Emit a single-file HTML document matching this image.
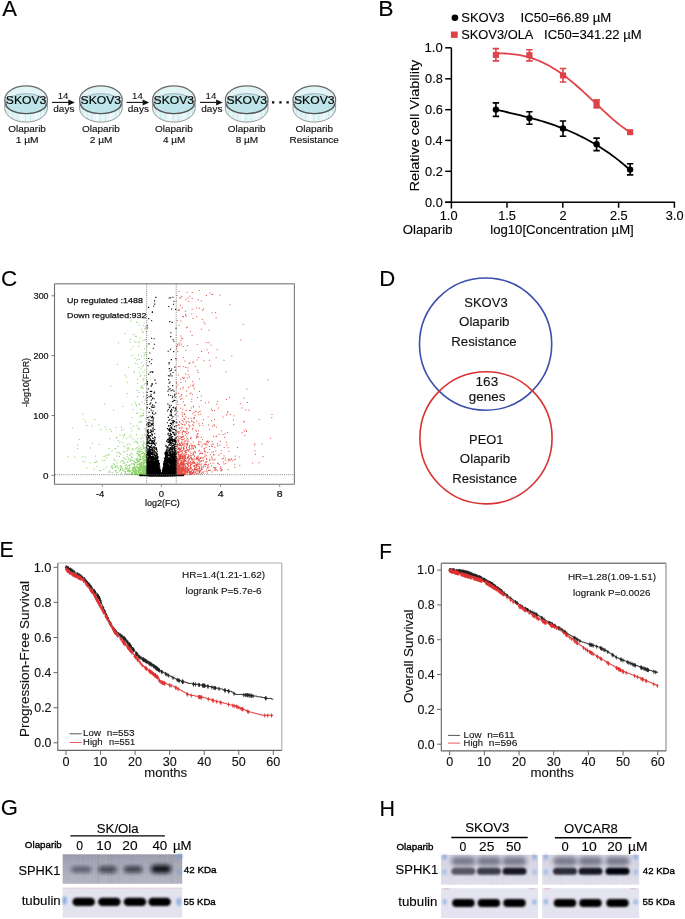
<!DOCTYPE html>
<html><head><meta charset="utf-8"><style>
html,body{margin:0;padding:0;background:#fff;width:685px;height:919px;overflow:hidden}
svg{display:block;will-change:transform;font-family:"Liberation Sans",sans-serif}
</style></head><body>
<svg width="685" height="919" viewBox="0 0 685 919">
<defs>
<filter id="b05" x="-50%" y="-50%" width="200%" height="200%"><feGaussianBlur stdDeviation="0.7"/></filter>
<filter id="b08" x="-50%" y="-50%" width="200%" height="200%"><feGaussianBlur stdDeviation="0.8"/></filter>
<filter id="b1" x="-50%" y="-50%" width="200%" height="200%"><feGaussianBlur stdDeviation="0.9"/></filter>
<filter id="b12" x="-50%" y="-50%" width="200%" height="200%"><feGaussianBlur stdDeviation="1.2"/></filter>
<filter id="b15" x="-50%" y="-50%" width="200%" height="200%"><feGaussianBlur stdDeviation="1.5"/></filter>
<filter id="b2" x="-50%" y="-50%" width="200%" height="200%"><feGaussianBlur stdDeviation="2"/></filter>
<linearGradient id="gG1" x1="0" y1="0" x2="0" y2="1"><stop offset="0" stop-color="#9c9cad"/><stop offset="0.35" stop-color="#a9a9b9"/><stop offset="1" stop-color="#b7b6c5"/></linearGradient>
<linearGradient id="gH1" x1="0" y1="0" x2="0" y2="1"><stop offset="0" stop-color="#d4d3e2"/><stop offset="1" stop-color="#e0dfec"/></linearGradient>
</defs>
<text x="2.30" y="16.00" font-size="22.8" textLength="14.74" lengthAdjust="spacingAndGlyphs" fill="#000" stroke="#000" stroke-width="0.12">A</text>
<text x="378.36" y="16.40" font-size="22.8" textLength="15.34" lengthAdjust="spacingAndGlyphs" fill="#000" stroke="#000" stroke-width="0.12">B</text>
<text x="1.08" y="286.20" font-size="22.8" textLength="16.15" lengthAdjust="spacingAndGlyphs" fill="#000" stroke="#000" stroke-width="0.12">C</text>
<text x="379.13" y="286.00" font-size="22.8" textLength="16.02" lengthAdjust="spacingAndGlyphs" fill="#000" stroke="#000" stroke-width="0.12">D</text>
<text x="-0.60" y="557.10" font-size="22.8" textLength="14.20" lengthAdjust="spacingAndGlyphs" fill="#000" stroke="#000" stroke-width="0.12">E</text>
<text x="379.24" y="558.80" font-size="22.8" textLength="12.71" lengthAdjust="spacingAndGlyphs" fill="#000" stroke="#000" stroke-width="0.12">F</text>
<text x="0.65" y="815.10" font-size="22.8" textLength="17.16" lengthAdjust="spacingAndGlyphs" fill="#000" stroke="#000" stroke-width="0.12">G</text>
<text x="379.39" y="815.70" font-size="22.8" textLength="15.47" lengthAdjust="spacingAndGlyphs" fill="#000" stroke="#000" stroke-width="0.12">H</text>
<clipPath id="dc0"><path d="M4.80,100 L4.80,108.3 A21.3,13.8 0 0 0 47.40,108.3 L47.40,100 Z"/></clipPath>
<path d="M4.80,100 L4.80,108.3 A21.3,13.8 0 0 0 47.40,108.3 L47.40,100 Z" fill="#e6f6f8"/>
<g clip-path="url(#dc0)"><rect x="7.60" y="100" width="1.0" height="23" fill="#c2e7ec"/><rect x="12.10" y="100" width="1.4" height="23" fill="#cbecf0"/><rect x="16.60" y="100" width="0.8" height="23" fill="#c2e7ec"/><rect x="21.10" y="100" width="2.2" height="23" fill="#f4fbfc"/><rect x="25.10" y="100" width="1.0" height="23" fill="#c8eaee"/><rect x="30.10" y="100" width="0.8" height="23" fill="#c2e7ec"/><rect x="35.10" y="100" width="1.6" height="23" fill="#f4fbfc"/><rect x="40.10" y="100" width="1.0" height="23" fill="#c8eaee"/><rect x="44.10" y="100" width="1.2" height="23" fill="#c2e7ec"/></g>
<path d="M4.80,100 L4.80,108.3 A21.3,13.8 0 0 0 47.40,108.3 L47.40,100 Z" fill="none" stroke="#8c8c8c" stroke-width="0.9"/>
<ellipse cx="26.10" cy="99.6" rx="21.3" ry="13.7" fill="#e3f4f6" stroke="#686868" stroke-width="1.2"/>
<ellipse cx="26.10" cy="103.6" rx="20.4" ry="10.0" fill="#bde5ea" stroke="#9a9a9a" stroke-width="0.7"/>
<path d="M5.70,103.6 A20.4,10.0 0 0 0 46.50,103.6" fill="none" stroke="#555" stroke-width="1.4"/>
<text x="5.80" y="103.50" font-size="10.6" textLength="40.53" lengthAdjust="spacingAndGlyphs" fill="#0a0a0a" stroke="#0a0a0a" stroke-width="0.2">SKOV3</text>
<clipPath id="dc1"><path d="M79.60,100 L79.60,108.3 A21.3,13.8 0 0 0 122.20,108.3 L122.20,100 Z"/></clipPath>
<path d="M79.60,100 L79.60,108.3 A21.3,13.8 0 0 0 122.20,108.3 L122.20,100 Z" fill="#e6f6f8"/>
<g clip-path="url(#dc1)"><rect x="82.40" y="100" width="1.0" height="23" fill="#c2e7ec"/><rect x="86.90" y="100" width="1.4" height="23" fill="#cbecf0"/><rect x="91.40" y="100" width="0.8" height="23" fill="#c2e7ec"/><rect x="95.90" y="100" width="2.2" height="23" fill="#f4fbfc"/><rect x="99.90" y="100" width="1.0" height="23" fill="#c8eaee"/><rect x="104.90" y="100" width="0.8" height="23" fill="#c2e7ec"/><rect x="109.90" y="100" width="1.6" height="23" fill="#f4fbfc"/><rect x="114.90" y="100" width="1.0" height="23" fill="#c8eaee"/><rect x="118.90" y="100" width="1.2" height="23" fill="#c2e7ec"/></g>
<path d="M79.60,100 L79.60,108.3 A21.3,13.8 0 0 0 122.20,108.3 L122.20,100 Z" fill="none" stroke="#8c8c8c" stroke-width="0.9"/>
<ellipse cx="100.90" cy="99.6" rx="21.3" ry="13.7" fill="#e3f4f6" stroke="#686868" stroke-width="1.2"/>
<ellipse cx="100.90" cy="103.6" rx="20.4" ry="10.0" fill="#bde5ea" stroke="#9a9a9a" stroke-width="0.7"/>
<path d="M80.50,103.6 A20.4,10.0 0 0 0 121.30,103.6" fill="none" stroke="#555" stroke-width="1.4"/>
<text x="80.60" y="103.50" font-size="10.6" textLength="40.53" lengthAdjust="spacingAndGlyphs" fill="#0a0a0a" stroke="#0a0a0a" stroke-width="0.2">SKOV3</text>
<clipPath id="dc2"><path d="M152.60,100 L152.60,108.3 A21.3,13.8 0 0 0 195.20,108.3 L195.20,100 Z"/></clipPath>
<path d="M152.60,100 L152.60,108.3 A21.3,13.8 0 0 0 195.20,108.3 L195.20,100 Z" fill="#e6f6f8"/>
<g clip-path="url(#dc2)"><rect x="155.40" y="100" width="1.0" height="23" fill="#c2e7ec"/><rect x="159.90" y="100" width="1.4" height="23" fill="#cbecf0"/><rect x="164.40" y="100" width="0.8" height="23" fill="#c2e7ec"/><rect x="168.90" y="100" width="2.2" height="23" fill="#f4fbfc"/><rect x="172.90" y="100" width="1.0" height="23" fill="#c8eaee"/><rect x="177.90" y="100" width="0.8" height="23" fill="#c2e7ec"/><rect x="182.90" y="100" width="1.6" height="23" fill="#f4fbfc"/><rect x="187.90" y="100" width="1.0" height="23" fill="#c8eaee"/><rect x="191.90" y="100" width="1.2" height="23" fill="#c2e7ec"/></g>
<path d="M152.60,100 L152.60,108.3 A21.3,13.8 0 0 0 195.20,108.3 L195.20,100 Z" fill="none" stroke="#8c8c8c" stroke-width="0.9"/>
<ellipse cx="173.90" cy="99.6" rx="21.3" ry="13.7" fill="#e3f4f6" stroke="#686868" stroke-width="1.2"/>
<ellipse cx="173.90" cy="103.6" rx="20.4" ry="10.0" fill="#bde5ea" stroke="#9a9a9a" stroke-width="0.7"/>
<path d="M153.50,103.6 A20.4,10.0 0 0 0 194.30,103.6" fill="none" stroke="#555" stroke-width="1.4"/>
<text x="153.60" y="103.50" font-size="10.6" textLength="40.53" lengthAdjust="spacingAndGlyphs" fill="#0a0a0a" stroke="#0a0a0a" stroke-width="0.2">SKOV3</text>
<clipPath id="dc3"><path d="M225.40,100 L225.40,108.3 A21.3,13.8 0 0 0 268.00,108.3 L268.00,100 Z"/></clipPath>
<path d="M225.40,100 L225.40,108.3 A21.3,13.8 0 0 0 268.00,108.3 L268.00,100 Z" fill="#e6f6f8"/>
<g clip-path="url(#dc3)"><rect x="228.20" y="100" width="1.0" height="23" fill="#c2e7ec"/><rect x="232.70" y="100" width="1.4" height="23" fill="#cbecf0"/><rect x="237.20" y="100" width="0.8" height="23" fill="#c2e7ec"/><rect x="241.70" y="100" width="2.2" height="23" fill="#f4fbfc"/><rect x="245.70" y="100" width="1.0" height="23" fill="#c8eaee"/><rect x="250.70" y="100" width="0.8" height="23" fill="#c2e7ec"/><rect x="255.70" y="100" width="1.6" height="23" fill="#f4fbfc"/><rect x="260.70" y="100" width="1.0" height="23" fill="#c8eaee"/><rect x="264.70" y="100" width="1.2" height="23" fill="#c2e7ec"/></g>
<path d="M225.40,100 L225.40,108.3 A21.3,13.8 0 0 0 268.00,108.3 L268.00,100 Z" fill="none" stroke="#8c8c8c" stroke-width="0.9"/>
<ellipse cx="246.70" cy="99.6" rx="21.3" ry="13.7" fill="#e3f4f6" stroke="#686868" stroke-width="1.2"/>
<ellipse cx="246.70" cy="103.6" rx="20.4" ry="10.0" fill="#bde5ea" stroke="#9a9a9a" stroke-width="0.7"/>
<path d="M226.30,103.6 A20.4,10.0 0 0 0 267.10,103.6" fill="none" stroke="#555" stroke-width="1.4"/>
<text x="226.40" y="103.50" font-size="10.6" textLength="40.53" lengthAdjust="spacingAndGlyphs" fill="#0a0a0a" stroke="#0a0a0a" stroke-width="0.2">SKOV3</text>
<clipPath id="dc4"><path d="M293.00,100 L293.00,108.3 A21.3,13.8 0 0 0 335.60,108.3 L335.60,100 Z"/></clipPath>
<path d="M293.00,100 L293.00,108.3 A21.3,13.8 0 0 0 335.60,108.3 L335.60,100 Z" fill="#e6f6f8"/>
<g clip-path="url(#dc4)"><rect x="295.80" y="100" width="1.0" height="23" fill="#c2e7ec"/><rect x="300.30" y="100" width="1.4" height="23" fill="#cbecf0"/><rect x="304.80" y="100" width="0.8" height="23" fill="#c2e7ec"/><rect x="309.30" y="100" width="2.2" height="23" fill="#f4fbfc"/><rect x="313.30" y="100" width="1.0" height="23" fill="#c8eaee"/><rect x="318.30" y="100" width="0.8" height="23" fill="#c2e7ec"/><rect x="323.30" y="100" width="1.6" height="23" fill="#f4fbfc"/><rect x="328.30" y="100" width="1.0" height="23" fill="#c8eaee"/><rect x="332.30" y="100" width="1.2" height="23" fill="#c2e7ec"/></g>
<path d="M293.00,100 L293.00,108.3 A21.3,13.8 0 0 0 335.60,108.3 L335.60,100 Z" fill="none" stroke="#8c8c8c" stroke-width="0.9"/>
<ellipse cx="314.30" cy="99.6" rx="21.3" ry="13.7" fill="#e3f4f6" stroke="#686868" stroke-width="1.2"/>
<ellipse cx="314.30" cy="103.6" rx="20.4" ry="10.0" fill="#bde5ea" stroke="#9a9a9a" stroke-width="0.7"/>
<path d="M293.90,103.6 A20.4,10.0 0 0 0 334.70,103.6" fill="none" stroke="#555" stroke-width="1.4"/>
<text x="294.00" y="103.50" font-size="10.6" textLength="40.53" lengthAdjust="spacingAndGlyphs" fill="#0a0a0a" stroke="#0a0a0a" stroke-width="0.2">SKOV3</text>
<text x="8.25" y="132.30" font-size="9.0" textLength="37.65" lengthAdjust="spacingAndGlyphs" fill="#111" stroke="#111" stroke-width="0.15">Olaparib</text>
<text x="15.69" y="142.60" font-size="9.0" textLength="22.86" lengthAdjust="spacingAndGlyphs" fill="#111" stroke="#111" stroke-width="0.15">1 µM</text>
<text x="82.05" y="132.30" font-size="9.0" textLength="37.65" lengthAdjust="spacingAndGlyphs" fill="#111" stroke="#111" stroke-width="0.15">Olaparib</text>
<text x="89.75" y="142.60" font-size="9.0" textLength="22.59" lengthAdjust="spacingAndGlyphs" fill="#111" stroke="#111" stroke-width="0.15">2 µM</text>
<text x="155.05" y="132.30" font-size="9.0" textLength="37.65" lengthAdjust="spacingAndGlyphs" fill="#111" stroke="#111" stroke-width="0.15">Olaparib</text>
<text x="163.05" y="142.60" font-size="9.0" textLength="22.28" lengthAdjust="spacingAndGlyphs" fill="#111" stroke="#111" stroke-width="0.15">4 µM</text>
<text x="227.85" y="132.30" font-size="9.0" textLength="37.65" lengthAdjust="spacingAndGlyphs" fill="#111" stroke="#111" stroke-width="0.15">Olaparib</text>
<text x="235.65" y="142.60" font-size="9.0" textLength="22.48" lengthAdjust="spacingAndGlyphs" fill="#111" stroke="#111" stroke-width="0.15">8 µM</text>
<text x="295.45" y="132.30" font-size="9.0" textLength="37.65" lengthAdjust="spacingAndGlyphs" fill="#111" stroke="#111" stroke-width="0.15">Olaparib</text>
<text x="289.50" y="142.70" font-size="9.0" textLength="49.21" lengthAdjust="spacingAndGlyphs" fill="#111" stroke="#111" stroke-width="0.15">Resistance</text>
<line x1="52" y1="102.4" x2="69.8" y2="102.4" stroke="#111" stroke-width="1.1"/>
<path d="M68.3,99.4 L74.8,102.4 L68.3,105.4 Z" fill="#111"/>
<text x="57.63" y="99.00" font-size="9.8" textLength="10.68" lengthAdjust="spacingAndGlyphs" fill="#111" stroke="#111" stroke-width="0.12">14</text>
<text x="53.30" y="111.90" font-size="9.0" textLength="21.18" lengthAdjust="spacingAndGlyphs" fill="#111" stroke="#111" stroke-width="0.12">days</text>
<line x1="126.5" y1="102.4" x2="144.2" y2="102.4" stroke="#111" stroke-width="1.1"/>
<path d="M142.7,99.4 L149.2,102.4 L142.7,105.4 Z" fill="#111"/>
<text x="132.08" y="99.00" font-size="9.8" textLength="10.68" lengthAdjust="spacingAndGlyphs" fill="#111" stroke="#111" stroke-width="0.12">14</text>
<text x="127.75" y="111.90" font-size="9.0" textLength="21.18" lengthAdjust="spacingAndGlyphs" fill="#111" stroke="#111" stroke-width="0.12">days</text>
<line x1="200" y1="102.4" x2="217.7" y2="102.4" stroke="#111" stroke-width="1.1"/>
<path d="M216.2,99.4 L222.7,102.4 L216.2,105.4 Z" fill="#111"/>
<text x="205.58" y="99.00" font-size="9.8" textLength="10.68" lengthAdjust="spacingAndGlyphs" fill="#111" stroke="#111" stroke-width="0.12">14</text>
<text x="201.25" y="111.90" font-size="9.0" textLength="21.18" lengthAdjust="spacingAndGlyphs" fill="#111" stroke="#111" stroke-width="0.12">days</text>
<rect x="272.00" y="101.2" width="2.3" height="2.3" fill="#111"/>
<rect x="279.30" y="101.2" width="2.3" height="2.3" fill="#111"/>
<rect x="286.50" y="101.2" width="2.3" height="2.3" fill="#111"/>
<circle cx="454.9" cy="17.7" r="3.3" fill="#000"/>
<text x="461.21" y="21.90" font-size="12.6" textLength="43.41" lengthAdjust="spacingAndGlyphs" fill="#000" stroke="#000" stroke-width="0.12">SKOV3</text>
<text x="520.61" y="21.90" font-size="12.6" textLength="90.68" lengthAdjust="spacingAndGlyphs" fill="#000" stroke="#000" stroke-width="0.12">IC50=66.89 µM</text>
<rect x="450.9" y="31.5" width="6.8" height="6.4" fill="#e04347"/>
<text x="461.22" y="38.70" font-size="12.6" textLength="72.13" lengthAdjust="spacingAndGlyphs" fill="#000" stroke="#000" stroke-width="0.12">SKOV3/OLA</text>
<text x="544.12" y="38.70" font-size="12.6" textLength="97.59" lengthAdjust="spacingAndGlyphs" fill="#000" stroke="#000" stroke-width="0.12">IC50=341.22 µM</text>
<path d="M451.4,47.8 V208.4 M445.2,202.3 H675.1" stroke="#000" stroke-width="1.5" fill="none"/>
<line x1="445.2" y1="47.8" x2="451.4" y2="47.8" stroke="#000" stroke-width="1.5"/>
<text x="424.52" y="52.40" font-size="13.0" textLength="18.25" lengthAdjust="spacingAndGlyphs" fill="#000" stroke="#000" stroke-width="0.12">1.0</text>
<line x1="445.2" y1="78.8" x2="451.4" y2="78.8" stroke="#000" stroke-width="1.5"/>
<text x="425.05" y="83.40" font-size="13.0" textLength="17.76" lengthAdjust="spacingAndGlyphs" fill="#000" stroke="#000" stroke-width="0.12">0.8</text>
<line x1="445.2" y1="109.7" x2="451.4" y2="109.7" stroke="#000" stroke-width="1.5"/>
<text x="425.05" y="114.30" font-size="13.0" textLength="17.76" lengthAdjust="spacingAndGlyphs" fill="#000" stroke="#000" stroke-width="0.12">0.6</text>
<line x1="445.2" y1="140.4" x2="451.4" y2="140.4" stroke="#000" stroke-width="1.5"/>
<text x="425.06" y="145.00" font-size="13.0" textLength="17.56" lengthAdjust="spacingAndGlyphs" fill="#000" stroke="#000" stroke-width="0.12">0.4</text>
<line x1="445.2" y1="171.3" x2="451.4" y2="171.3" stroke="#000" stroke-width="1.5"/>
<text x="425.05" y="175.90" font-size="13.0" textLength="17.83" lengthAdjust="spacingAndGlyphs" fill="#000" stroke="#000" stroke-width="0.12">0.2</text>
<line x1="445.2" y1="202.3" x2="451.4" y2="202.3" stroke="#000" stroke-width="1.5"/>
<text x="425.05" y="206.90" font-size="13.0" textLength="17.69" lengthAdjust="spacingAndGlyphs" fill="#000" stroke="#000" stroke-width="0.12">0.0</text>
<text x="439.75" y="219.70" font-size="12.8" fill="#000" stroke="#000" stroke-width="0.12">1.0</text>
<line x1="507.0" y1="202.3" x2="507.0" y2="207.8" stroke="#000" stroke-width="1.5"/>
<text x="498.13" y="219.70" font-size="12.8" fill="#000" stroke="#000" stroke-width="0.12">1.5</text>
<line x1="562.8" y1="202.3" x2="562.8" y2="207.8" stroke="#000" stroke-width="1.5"/>
<text x="559.52" y="219.70" font-size="12.8" fill="#000" stroke="#000" stroke-width="0.12">2</text>
<line x1="618.6" y1="202.3" x2="618.6" y2="207.8" stroke="#000" stroke-width="1.5"/>
<text x="609.94" y="219.70" font-size="12.8" fill="#000" stroke="#000" stroke-width="0.12">2.5</text>
<line x1="674.4" y1="202.3" x2="674.4" y2="207.8" stroke="#000" stroke-width="1.5"/>
<text x="665.85" y="219.70" font-size="12.8" fill="#000" stroke="#000" stroke-width="0.12">3.0</text>
<text transform="translate(419.30,125.10) rotate(-90)" x="-66.46" y="0" font-size="13.3" textLength="131.79" lengthAdjust="spacingAndGlyphs" fill="#000" stroke="#000" stroke-width="0.12">Relative cell Viability</text>
<text x="490.25" y="234.30" font-size="12.8" textLength="143.52" lengthAdjust="spacingAndGlyphs" fill="#000" stroke="#000" stroke-width="0.12">log10[Concentration µM]</text>
<text x="402.71" y="234.40" font-size="12.8" textLength="49.82" lengthAdjust="spacingAndGlyphs" fill="#000" stroke="#000" stroke-width="0.12">Olaparib</text>
<path d="M495.90,53.22 L498.17,53.26 L500.45,53.31 L502.72,53.39 L505.00,53.50 L507.27,53.63 L509.55,53.81 L511.82,54.03 L514.10,54.29 L516.37,54.59 L518.65,54.95 L520.92,55.37 L523.19,55.84 L525.47,56.37 L527.74,56.96 L530.02,57.62 L532.29,58.34 L534.57,59.12 L536.84,59.98 L539.12,60.90 L541.39,61.90 L543.67,62.96 L545.94,64.10 L548.22,65.30 L550.49,66.57 L552.76,67.91 L555.04,69.32 L557.31,70.80 L559.59,72.34 L561.86,73.94 L564.14,75.61 L566.41,77.33 L568.69,79.11 L570.96,80.95 L573.24,82.83 L575.51,84.76 L577.78,86.74 L580.06,88.76 L582.33,90.81 L584.61,92.89 L586.88,95.00 L589.16,97.13 L591.43,99.28 L593.71,101.43 L595.98,103.60 L598.26,105.76 L600.53,107.92 L602.81,110.06 L605.08,112.18 L607.35,114.28 L609.63,116.34 L611.90,118.36 L614.18,120.33 L616.45,122.24 L618.73,124.08 L621.00,125.85 L623.28,127.54 L625.55,129.13 L627.83,130.62 L630.10,132.00" fill="none" stroke="#e04347" stroke-width="1.8"/>
<path d="M495.90,109.73 L498.17,110.23 L500.45,110.73 L502.72,111.23 L505.00,111.74 L507.27,112.25 L509.55,112.76 L511.82,113.29 L514.10,113.81 L516.37,114.35 L518.65,114.89 L520.92,115.45 L523.19,116.01 L525.47,116.58 L527.74,117.17 L530.02,117.77 L532.29,118.38 L534.57,119.01 L536.84,119.65 L539.12,120.31 L541.39,120.99 L543.67,121.69 L545.94,122.40 L548.22,123.13 L550.49,123.89 L552.76,124.66 L555.04,125.46 L557.31,126.28 L559.59,127.13 L561.86,128.00 L564.14,128.89 L566.41,129.82 L568.69,130.77 L570.96,131.75 L573.24,132.76 L575.51,133.79 L577.78,134.86 L580.06,135.96 L582.33,137.10 L584.61,138.27 L586.88,139.47 L589.16,140.71 L591.43,141.98 L593.71,143.29 L595.98,144.64 L598.26,146.03 L600.53,147.45 L602.81,148.92 L605.08,150.43 L607.35,151.98 L609.63,153.57 L611.90,155.21 L614.18,156.90 L616.45,158.62 L618.73,160.40 L621.00,162.22 L623.28,164.09 L625.55,166.01 L627.83,167.98 L630.10,170.01" fill="none" stroke="#000" stroke-width="1.8"/>
<path d="M495.9,48.6 V60.9 M492.7,48.6 H499.09999999999997 M492.7,60.9 H499.09999999999997" stroke="#e04347" stroke-width="1.6" fill="none"/>
<rect x="492.79999999999995" y="51.9" width="6.2" height="6" fill="#e04347"/>
<path d="M529.4,49.8 V60.9 M526.1999999999999,49.8 H532.6 M526.1999999999999,60.9 H532.6" stroke="#e04347" stroke-width="1.6" fill="none"/>
<rect x="526.3" y="52.2" width="6.2" height="6" fill="#e04347"/>
<path d="M563.0,68.5 V82.0 M559.8,68.5 H566.2 M559.8,82.0 H566.2" stroke="#e04347" stroke-width="1.6" fill="none"/>
<rect x="559.9" y="72.4" width="6.2" height="6" fill="#e04347"/>
<path d="M596.6,100.0 V107.7 M593.4,100.0 H599.8000000000001 M593.4,107.7 H599.8000000000001" stroke="#e04347" stroke-width="1.6" fill="none"/>
<rect x="593.5" y="99.4" width="6.2" height="8.900000000000002" fill="#e04347"/>
<rect x="627.0" y="129.2" width="6.2" height="6" fill="#e04347"/>
<path d="M495.9,102.9 V116.4 M492.7,102.9 H499.09999999999997 M492.7,116.4 H499.09999999999997" stroke="#000" stroke-width="1.6" fill="none"/>
<circle cx="495.9" cy="109.6" r="3.2" fill="#000"/>
<path d="M529.4,111.7 V124.3 M526.1999999999999,111.7 H532.6 M526.1999999999999,124.3 H532.6" stroke="#000" stroke-width="1.6" fill="none"/>
<circle cx="529.4" cy="118.1" r="3.2" fill="#000"/>
<path d="M563.0,121.0 V136.2 M559.8,121.0 H566.2 M559.8,136.2 H566.2" stroke="#000" stroke-width="1.6" fill="none"/>
<circle cx="563.0" cy="128.5" r="3.2" fill="#000"/>
<path d="M596.6,138.1 V150.6 M593.4,138.1 H599.8000000000001 M593.4,150.6 H599.8000000000001" stroke="#000" stroke-width="1.6" fill="none"/>
<circle cx="596.6" cy="144.3" r="3.2" fill="#000"/>
<path d="M630.1,163.8 V174.9 M626.9,163.8 H633.3000000000001 M626.9,174.9 H633.3000000000001" stroke="#000" stroke-width="1.6" fill="none"/>
<circle cx="630.1" cy="169.6" r="3.2" fill="#000"/>
<path d="M54.5,283.8 H294.4" stroke="#9a9a9a" stroke-width="1.4" fill="none"/>
<path d="M294.4,283.8 V484.3" stroke="#7a7a7a" stroke-width="1.1" fill="none"/>
<path d="M54.5,283.8 V484.3 H294.4" stroke="#6e6e6e" stroke-width="1.1" fill="none"/>
<line x1="51.6" y1="295.81" x2="54.5" y2="295.81" stroke="#777" stroke-width="1"/>
<text x="33.69" y="299.11" font-size="8.8" textLength="14.85" lengthAdjust="spacingAndGlyphs" fill="#111" stroke="#111" stroke-width="0.2">300</text>
<line x1="51.6" y1="355.64" x2="54.5" y2="355.64" stroke="#777" stroke-width="1"/>
<text x="33.55" y="358.94" font-size="8.8" textLength="15.00" lengthAdjust="spacingAndGlyphs" fill="#111" stroke="#111" stroke-width="0.2">200</text>
<line x1="51.6" y1="415.47" x2="54.5" y2="415.47" stroke="#777" stroke-width="1"/>
<text x="33.32" y="418.77" font-size="8.8" textLength="15.24" lengthAdjust="spacingAndGlyphs" fill="#111" stroke="#111" stroke-width="0.2">100</text>
<line x1="51.6" y1="475.30" x2="54.5" y2="475.30" stroke="#777" stroke-width="1"/>
<text x="43.05" y="478.60" font-size="8.8" textLength="5.50" lengthAdjust="spacingAndGlyphs" fill="#111" stroke="#111" stroke-width="0.2">0</text>
<line x1="102.33" y1="484.3" x2="102.33" y2="486.8" stroke="#888" stroke-width="1"/>
<text x="95.95" y="496.60" font-size="8.8" textLength="8.41" lengthAdjust="spacingAndGlyphs" fill="#111" stroke="#111" stroke-width="0.2">-4</text>
<line x1="161.45" y1="484.3" x2="161.45" y2="486.8" stroke="#888" stroke-width="1"/>
<text x="158.82" y="496.60" font-size="8.8" textLength="5.28" lengthAdjust="spacingAndGlyphs" fill="#111" stroke="#111" stroke-width="0.2">0</text>
<line x1="220.57" y1="484.3" x2="220.57" y2="486.8" stroke="#888" stroke-width="1"/>
<text x="217.66" y="496.60" font-size="8.8" textLength="5.89" lengthAdjust="spacingAndGlyphs" fill="#111" stroke="#111" stroke-width="0.2">4</text>
<line x1="279.69" y1="484.3" x2="279.69" y2="486.8" stroke="#888" stroke-width="1"/>
<text x="276.77" y="496.60" font-size="8.8" textLength="5.85" lengthAdjust="spacingAndGlyphs" fill="#111" stroke="#111" stroke-width="0.2">8</text>
<text x="145.02" y="505.90" font-size="8.8" textLength="34.82" lengthAdjust="spacingAndGlyphs" fill="#111" stroke="#111" stroke-width="0.2">log2(FC)</text>
<text transform="translate(29.10,382.50) rotate(-90)" x="-24.41" y="0" font-size="8.8" textLength="48.96" lengthAdjust="spacingAndGlyphs" fill="#111" stroke="#111" stroke-width="0.2">-log10(FDR)</text>
<path d="M114.7 467.5h.01M142.9 469.9h.01M140.1 376.6h.01M139.0 472.3h.01M139.8 460.6h.01M137.2 474.2h.01M144.6 475.2h.01M94.2 468.9h.01M139.8 451.2h.01M143.0 463.8h.01M134.1 472.5h.01M142.8 457.6h.01M136.3 406.0h.01M145.2 450.3h.01M145.8 474.3h.01M104.1 456.5h.01M142.4 473.9h.01M125.8 474.1h.01M119.7 442.0h.01M146.3 331.5h.01M133.1 471.6h.01M146.2 466.7h.01M146.3 474.4h.01M111.1 467.1h.01M134.4 467.6h.01M137.9 473.3h.01M144.1 468.6h.01M122.8 435.1h.01M100.6 429.7h.01M136.5 473.9h.01M142.2 456.6h.01M143.7 463.6h.01M129.7 465.7h.01M144.5 453.7h.01M122.7 470.3h.01M120.7 454.1h.01M144.4 375.6h.01M140.0 474.8h.01M145.3 474.2h.01M135.1 474.1h.01M145.0 469.4h.01M144.4 457.4h.01M126.2 467.9h.01M127.1 468.8h.01M133.2 463.3h.01M121.5 429.8h.01M145.5 469.1h.01M126.0 466.2h.01M137.1 443.2h.01M132.6 467.5h.01M136.2 474.8h.01M146.0 472.2h.01M132.8 450.1h.01M120.6 469.6h.01M135.9 342.1h.01M113.5 410.2h.01M145.0 474.4h.01M123.8 446.1h.01M124.8 435.3h.01M144.7 454.1h.01M117.0 463.2h.01M138.4 464.2h.01M143.7 473.3h.01M137.6 462.5h.01M145.6 468.2h.01M144.2 471.9h.01M140.7 468.8h.01M145.3 470.5h.01M142.0 362.4h.01M138.9 455.6h.01M144.4 403.7h.01M144.1 384.7h.01M128.3 458.0h.01M146.3 464.4h.01M142.8 474.8h.01M145.8 471.5h.01M138.7 342.2h.01M143.7 468.9h.01M121.5 427.3h.01M143.0 437.9h.01M77.8 445.0h.01M146.4 463.2h.01M143.0 474.0h.01M124.0 469.8h.01M115.3 471.1h.01M123.8 457.8h.01M134.7 468.0h.01M140.5 409.1h.01M132.6 469.0h.01M138.8 467.9h.01M146.7 460.7h.01M138.9 454.7h.01M145.1 459.5h.01M144.8 453.6h.01M139.4 464.7h.01M138.0 458.1h.01M119.7 453.2h.01M121.7 460.5h.01M112.2 472.5h.01M118.7 468.8h.01M146.0 467.3h.01M127.4 466.4h.01M130.8 459.2h.01M146.6 461.3h.01M129.6 465.9h.01M115.4 466.3h.01M145.7 326.6h.01M138.0 448.3h.01M145.7 435.9h.01M132.8 473.1h.01M116.4 438.0h.01M141.0 387.7h.01M137.6 451.9h.01M144.6 473.9h.01M108.6 472.1h.01M142.7 387.7h.01M113.9 459.1h.01M145.5 475.0h.01M133.8 461.2h.01M144.4 465.6h.01M144.8 453.9h.01M140.8 474.6h.01M136.1 473.2h.01M130.2 471.2h.01M142.8 468.6h.01M145.6 474.4h.01M134.9 358.6h.01M130.4 339.5h.01M143.8 464.8h.01M143.2 455.2h.01M146.0 472.4h.01M141.3 449.3h.01M128.2 469.5h.01M144.0 471.6h.01M138.1 427.9h.01M145.4 468.6h.01M143.3 441.3h.01M72.8 427.7h.01M143.2 380.8h.01M145.0 339.8h.01M120.4 462.0h.01M146.6 472.8h.01M145.6 475.2h.01M138.6 475.1h.01M137.0 360.2h.01M144.6 462.9h.01M140.9 474.7h.01M106.6 429.7h.01M140.1 470.9h.01M143.6 461.0h.01M133.6 468.3h.01M135.3 462.8h.01M146.3 448.8h.01M136.5 322.1h.01M140.7 472.6h.01M141.3 464.4h.01M141.8 366.6h.01M131.5 456.9h.01M140.3 465.0h.01M146.2 460.0h.01M144.9 467.9h.01M142.9 466.3h.01M86.6 468.3h.01M145.3 460.6h.01M140.7 468.1h.01M128.5 471.9h.01M134.1 442.1h.01M138.1 461.1h.01M135.8 441.3h.01M146.5 463.0h.01M136.4 413.4h.01M145.0 458.9h.01M136.8 458.5h.01M129.6 474.1h.01M144.1 473.7h.01M119.5 456.5h.01M145.0 474.4h.01M85.0 462.0h.01M132.1 460.3h.01M144.3 434.0h.01M142.2 451.5h.01M140.8 447.3h.01M127.5 474.3h.01M114.8 460.6h.01M144.9 470.9h.01M139.4 468.4h.01M142.3 449.6h.01M142.9 332.3h.01M145.8 470.2h.01M128.0 447.6h.01M139.2 471.0h.01M125.5 469.2h.01M144.0 355.9h.01M139.6 465.2h.01M132.4 467.5h.01M137.2 390.5h.01M143.6 456.8h.01M136.9 473.9h.01M127.0 444.9h.01M145.1 469.2h.01M128.0 468.5h.01M121.1 467.7h.01M125.8 473.7h.01M137.7 412.8h.01M143.8 443.5h.01M143.5 447.7h.01M121.4 473.1h.01M130.8 321.1h.01M146.4 459.2h.01M139.5 467.8h.01M144.6 466.2h.01M142.5 415.8h.01M140.4 465.1h.01M127.1 382.6h.01M136.6 462.9h.01M135.6 469.2h.01M137.1 474.4h.01M138.4 454.0h.01M139.7 461.9h.01M122.1 442.7h.01M127.7 470.6h.01M144.2 473.3h.01M144.8 354.6h.01M100.9 470.8h.01M124.5 463.2h.01M143.7 474.5h.01M136.0 473.9h.01M145.5 472.0h.01M138.2 460.7h.01M146.3 470.9h.01M144.0 469.6h.01M145.6 429.8h.01M139.1 474.7h.01M134.6 465.2h.01M139.9 472.2h.01M134.2 372.1h.01M123.1 406.4h.01M132.3 469.8h.01M135.4 474.1h.01M141.5 473.3h.01M141.3 468.8h.01M122.7 461.4h.01M137.5 396.9h.01M104.6 403.9h.01M146.5 455.2h.01M142.0 474.9h.01M141.6 473.1h.01M144.9 468.2h.01M144.2 461.1h.01M146.1 431.2h.01M133.2 439.0h.01M131.1 349.8h.01M141.0 369.0h.01M131.8 472.4h.01M131.9 430.9h.01M131.3 452.8h.01M117.0 461.0h.01M131.4 428.1h.01M144.7 469.2h.01M115.9 427.6h.01M138.7 471.1h.01M121.1 469.2h.01M135.2 363.3h.01M137.3 474.4h.01M140.9 473.2h.01M143.3 446.5h.01M139.8 469.4h.01M125.5 471.3h.01M146.1 471.0h.01M143.7 466.9h.01M146.0 474.9h.01M144.8 328.8h.01M145.8 352.6h.01M134.3 371.4h.01M135.7 470.8h.01M129.2 450.0h.01M141.6 473.5h.01M140.7 473.8h.01M85.8 457.1h.01M144.4 471.2h.01M137.0 447.6h.01M138.8 451.2h.01M136.6 405.3h.01M145.1 467.6h.01M135.2 336.2h.01M145.8 419.0h.01M138.7 472.4h.01M143.0 472.2h.01M130.9 460.3h.01M137.4 438.9h.01M139.5 471.0h.01M131.4 474.3h.01M137.9 467.6h.01M142.9 470.8h.01M139.5 473.3h.01M123.1 463.2h.01M140.4 466.8h.01M145.8 468.7h.01M126.6 459.4h.01M139.1 429.1h.01M129.7 471.2h.01M145.2 435.1h.01M106.0 467.2h.01M138.0 470.3h.01M134.9 472.9h.01M141.1 470.4h.01M144.0 458.7h.01M129.8 342.1h.01M141.4 441.8h.01M137.9 466.9h.01M141.2 465.4h.01M124.7 458.8h.01M146.6 474.7h.01M133.4 470.8h.01M143.0 453.2h.01M119.6 471.1h.01M143.3 452.5h.01M146.2 354.8h.01M145.7 474.2h.01M142.6 445.3h.01M117.5 364.4h.01M144.7 468.5h.01M146.7 444.9h.01M135.8 467.8h.01M90.3 462.8h.01M146.1 474.6h.01M142.8 471.0h.01M138.9 470.7h.01M145.9 471.9h.01M144.4 473.9h.01M136.6 474.2h.01M134.8 473.1h.01M146.4 450.6h.01M135.9 472.5h.01M144.9 400.1h.01M137.2 459.6h.01M137.8 383.4h.01M140.3 475.1h.01M138.9 367.3h.01M139.8 456.0h.01M142.0 470.0h.01M146.6 345.7h.01M146.0 467.5h.01M134.3 464.9h.01M136.8 425.6h.01M140.0 416.7h.01M142.6 459.1h.01M136.7 460.6h.01M144.5 468.3h.01M141.1 462.7h.01M136.9 470.6h.01M125.1 375.3h.01M145.0 460.7h.01M142.0 472.5h.01M115.1 448.6h.01M87.1 425.5h.01M94.6 419.6h.01M140.2 456.4h.01M124.1 471.5h.01M137.3 464.9h.01M128.0 443.9h.01M141.6 468.1h.01M133.6 334.5h.01M141.4 356.1h.01M136.9 470.3h.01M141.9 463.3h.01M137.6 364.1h.01M130.6 434.6h.01M136.1 471.5h.01M129.0 436.8h.01M142.9 453.5h.01M128.9 474.4h.01M145.7 467.7h.01M143.6 465.9h.01M120.8 469.0h.01M145.0 447.4h.01M143.7 460.1h.01M146.3 468.1h.01M129.6 470.7h.01M140.1 421.2h.01M141.2 463.3h.01M111.4 466.0h.01M142.1 471.9h.01M129.2 465.4h.01M143.3 396.6h.01M138.2 470.4h.01M130.0 461.3h.01M138.8 467.6h.01M140.9 475.1h.01M116.9 456.1h.01M144.0 475.2h.01M123.2 429.8h.01M118.5 452.0h.01M143.9 474.0h.01M132.2 448.5h.01M134.8 341.7h.01M137.6 454.2h.01M144.5 470.8h.01M141.6 422.0h.01M133.4 346.7h.01M146.4 470.6h.01M145.6 470.9h.01M143.5 456.7h.01M146.2 456.5h.01M126.6 438.3h.01M145.5 462.8h.01M140.0 422.3h.01M121.5 473.4h.01M143.8 396.7h.01M141.9 386.6h.01M140.6 468.1h.01M132.3 454.4h.01M136.7 473.8h.01M139.7 472.8h.01M127.5 461.9h.01M135.7 403.5h.01M136.4 441.9h.01M126.5 468.6h.01M94.6 462.5h.01M143.2 458.6h.01M142.0 474.4h.01M144.6 468.2h.01M130.8 423.8h.01M97.1 466.3h.01M141.1 466.4h.01M143.5 460.3h.01M138.3 472.0h.01M77.6 448.6h.01M133.9 463.9h.01M112.1 467.2h.01M133.6 471.5h.01M137.9 451.3h.01M142.9 472.0h.01M115.8 449.1h.01M143.4 467.1h.01M141.3 462.1h.01M122.6 470.4h.01M99.4 444.4h.01M140.5 451.3h.01M138.5 472.2h.01M145.1 466.9h.01M117.7 467.1h.01M124.5 434.3h.01M143.7 470.4h.01M129.8 468.2h.01M144.9 428.6h.01M133.7 426.0h.01M144.2 468.3h.01M144.5 472.4h.01M142.8 413.5h.01M125.2 468.0h.01M90.4 448.0h.01M145.7 473.1h.01M139.7 452.8h.01M146.1 475.3h.01M126.4 377.0h.01M143.6 472.5h.01M142.9 466.2h.01M132.6 469.5h.01M140.8 475.0h.01M127.3 454.5h.01M128.5 367.2h.01M140.0 454.7h.01M106.9 455.3h.01M137.8 473.9h.01M145.0 472.8h.01M128.9 459.7h.01M134.5 461.7h.01M146.4 475.0h.01M142.3 435.4h.01M145.0 465.6h.01M145.5 466.6h.01M112.2 450.9h.01M143.4 473.9h.01M146.6 446.9h.01M140.1 475.1h.01M146.2 461.5h.01M140.0 448.3h.01M133.6 471.9h.01M140.3 470.0h.01M130.9 464.4h.01M123.7 460.7h.01M118.1 440.5h.01M122.8 468.6h.01M142.0 459.1h.01M145.7 449.6h.01M108.9 448.5h.01M139.5 359.3h.01M92.1 443.3h.01M146.0 474.2h.01M99.5 470.3h.01M145.2 451.6h.01M82.9 456.7h.01M144.1 474.9h.01M144.5 461.0h.01M145.2 459.9h.01M141.0 438.6h.01M145.8 474.8h.01M134.3 466.3h.01M139.6 455.3h.01M136.0 467.8h.01M143.6 413.4h.01M146.6 457.3h.01M134.1 470.6h.01M141.0 466.7h.01M143.8 472.4h.01M144.6 456.8h.01M125.0 446.8h.01M140.7 469.0h.01M143.6 469.0h.01M120.4 470.4h.01M134.9 470.7h.01M134.4 474.2h.01M114.6 464.5h.01M144.5 348.7h.01M144.0 443.0h.01M135.0 469.6h.01M127.2 456.8h.01M141.6 471.0h.01M146.6 462.5h.01M133.4 464.2h.01M142.7 372.2h.01M117.2 472.5h.01M141.9 465.3h.01M141.6 329.9h.01M96.6 461.5h.01M138.3 461.3h.01M140.9 415.4h.01M112.2 468.1h.01M95.5 456.1h.01M143.1 410.0h.01M145.5 456.9h.01M143.8 473.1h.01M125.2 472.0h.01M141.2 453.6h.01M145.1 447.9h.01M132.8 470.2h.01M115.7 470.8h.01M143.0 332.0h.01M105.8 455.9h.01M141.6 462.1h.01M123.3 436.9h.01M137.9 443.0h.01M141.5 453.7h.01M130.4 454.1h.01M143.6 464.6h.01M139.4 404.5h.01M128.5 448.2h.01M133.4 467.3h.01M139.5 468.8h.01M140.6 470.3h.01M67.9 456.7h.01M136.3 470.3h.01M127.7 462.4h.01M143.1 388.2h.01M117.1 465.4h.01M109.1 454.9h.01M146.7 472.3h.01M132.2 457.5h.01M139.9 466.1h.01M83.0 461.5h.01M95.7 462.3h.01M145.8 454.8h.01M145.8 465.0h.01M139.8 451.0h.01M104.4 460.6h.01M121.3 467.8h.01M144.7 468.4h.01M116.9 452.7h.01M142.3 453.7h.01M140.7 455.9h.01M134.9 468.4h.01M141.0 470.7h.01M131.8 473.8h.01M124.8 462.6h.01M143.8 463.4h.01M143.0 466.5h.01M144.1 471.6h.01M116.8 437.4h.01M135.5 473.2h.01M143.7 471.3h.01M121.5 466.4h.01M110.9 385.9h.01M143.6 415.4h.01M146.1 471.7h.01M146.1 409.1h.01M132.0 404.4h.01M109.8 438.7h.01M146.2 460.1h.01M127.4 393.7h.01M135.0 468.9h.01M138.5 469.6h.01M79.3 439.4h.01M137.9 452.2h.01M146.1 447.4h.01M146.5 471.9h.01M136.2 466.9h.01M137.4 471.2h.01M142.8 473.2h.01M144.5 466.5h.01M131.3 460.3h.01M139.9 473.2h.01M136.1 472.1h.01M106.4 457.9h.01M141.4 465.8h.01M74.6 457.1h.01M135.9 448.6h.01M146.0 459.9h.01M112.6 468.7h.01M138.9 468.5h.01M145.6 470.1h.01M140.6 475.1h.01M138.0 359.3h.01M141.2 466.9h.01M125.2 465.6h.01M139.4 325.3h.01M140.7 459.4h.01M144.3 455.7h.01M146.6 466.5h.01M136.9 453.5h.01M139.6 470.1h.01M144.2 323.0h.01M143.2 444.0h.01M102.7 460.8h.01M138.6 354.8h.01M140.6 457.5h.01M120.0 435.0h.01M139.4 372.8h.01M120.5 465.7h.01M139.5 341.8h.01M130.0 473.6h.01M146.0 467.1h.01M146.5 474.4h.01M143.4 473.7h.01M131.7 470.6h.01M144.2 358.4h.01M144.0 379.0h.01M140.1 459.0h.01M145.1 455.0h.01M138.8 446.0h.01M138.8 429.1h.01M142.2 473.5h.01M145.7 474.0h.01M134.7 474.3h.01M143.5 365.4h.01M141.4 462.8h.01M105.1 426.9h.01M139.0 392.5h.01M143.6 474.3h.01M142.0 464.1h.01M135.5 462.6h.01M143.4 448.5h.01M137.4 461.0h.01M141.4 474.2h.01M84.1 419.2h.01M143.4 462.7h.01M132.5 474.5h.01M134.7 401.8h.01M145.8 453.5h.01M131.9 417.5h.01M131.8 472.7h.01M144.6 468.8h.01M145.7 469.7h.01M136.5 434.7h.01M82.8 414.1h.01M116.4 466.8h.01M132.6 473.4h.01M135.8 470.0h.01M135.7 471.5h.01M131.2 437.1h.01M129.8 471.2h.01M138.8 422.1h.01M115.5 466.6h.01M139.8 466.7h.01M136.8 465.9h.01M92.2 425.8h.01M113.7 463.7h.01M142.8 464.1h.01M132.7 449.0h.01M127.5 471.6h.01M141.5 464.9h.01M103.8 469.5h.01M144.0 353.0h.01M139.4 459.5h.01M137.5 467.8h.01M139.4 461.1h.01M140.9 474.5h.01M145.2 462.5h.01M120.1 465.9h.01M136.1 450.3h.01M142.6 469.3h.01M146.6 358.3h.01M145.9 443.8h.01M145.4 457.0h.01M138.9 449.3h.01M140.6 473.9h.01M145.7 472.7h.01M125.4 473.1h.01M141.7 385.7h.01M140.4 337.8h.01M143.7 392.8h.01M145.4 455.1h.01M140.1 463.4h.01M109.9 472.1h.01M143.0 469.8h.01M130.0 444.3h.01M85.5 421.9h.01M132.7 469.4h.01M136.2 336.4h.01M126.4 464.5h.01M142.4 462.1h.01M127.8 474.4h.01M129.7 455.4h.01M138.1 468.7h.01M112.9 465.7h.01M143.1 325.6h.01M125.1 452.1h.01M141.6 466.3h.01M137.9 456.2h.01M124.9 333.4h.01M135.9 473.6h.01M111.3 431.3h.01M108.3 454.4h.01M139.4 463.5h.01M141.4 415.9h.01M139.6 466.1h.01M109.7 471.1h.01M136.3 473.6h.01M141.8 402.0h.01M98.9 425.0h.01M146.4 470.9h.01M143.1 468.1h.01M138.6 346.1h.01M134.2 472.2h.01M129.5 467.5h.01M123.6 451.6h.01M135.9 459.1h.01M127.0 448.5h.01M139.1 404.2h.01M136.6 472.7h.01M142.8 340.4h.01M116.8 472.8h.01M128.5 470.5h.01M142.7 474.2h.01M140.5 468.5h.01M142.8 475.1h.01M131.7 463.3h.01M145.9 398.4h.01M136.1 467.8h.01M137.3 474.2h.01M145.9 471.6h.01M127.6 471.0h.01M138.1 470.0h.01M146.3 474.2h.01M134.4 464.3h.01M132.4 469.5h.01M138.9 460.3h.01M141.8 459.7h.01M137.3 464.9h.01M144.3 370.0h.01M144.3 469.5h.01M134.6 468.3h.01M118.0 446.4h.01M143.1 470.7h.01M140.7 375.3h.01M141.8 467.3h.01M144.3 461.4h.01M110.2 429.6h.01M143.5 467.3h.01M135.3 469.3h.01M141.9 467.7h.01M133.4 409.8h.01M145.3 328.3h.01M145.7 466.6h.01M146.6 443.3h.01M142.0 471.8h.01M145.1 448.9h.01M133.1 468.9h.01M118.4 343.0h.01M146.6 457.3h.01M143.0 445.0h.01M145.3 472.7h.01M145.2 383.5h.01M142.5 468.0h.01M139.9 458.9h.01M145.2 468.4h.01M146.6 380.5h.01M143.2 378.8h.01M143.0 471.1h.01M135.1 462.4h.01M138.2 464.2h.01M141.1 474.3h.01M132.4 355.3h.01M145.7 472.7h.01M127.4 450.6h.01M139.7 474.8h.01M145.3 340.1h.01M144.9 466.2h.01M128.7 465.3h.01M136.9 459.4h.01M115.8 470.5h.01M143.6 472.7h.01M145.2 467.1h.01M131.4 473.7h.01M139.3 473.0h.01M140.9 475.1h.01M143.4 470.8h.01M137.9 322.7h.01M145.2 470.2h.01M134.6 471.4h.01M137.6 379.4h.01" stroke="#86d060" stroke-width="1.0" stroke-linecap="square" fill="none"/>
<path d="M186.2 461.7h.01M199.3 453.9h.01M181.5 443.2h.01M182.6 467.5h.01M216.2 317.9h.01M203.3 460.2h.01M199.7 464.2h.01M184.8 361.2h.01M185.9 443.3h.01M179.1 309.2h.01M202.8 458.0h.01M180.5 466.9h.01M178.0 473.7h.01M183.5 449.8h.01M185.6 468.2h.01M181.4 464.7h.01M177.4 401.7h.01M180.9 466.3h.01M177.1 468.7h.01M180.3 470.7h.01M197.3 473.4h.01M201.6 469.9h.01M209.5 460.4h.01M181.0 462.3h.01M182.7 416.8h.01M180.8 379.0h.01M188.8 469.3h.01M219.8 445.0h.01M226.3 442.2h.01M176.5 446.2h.01M179.4 428.4h.01M182.5 456.6h.01M196.8 458.2h.01M185.3 468.5h.01M193.8 418.8h.01M217.2 470.6h.01M189.1 363.5h.01M182.2 453.0h.01M187.3 467.6h.01M185.5 314.3h.01M187.7 463.0h.01M197.2 437.3h.01M199.7 471.5h.01M181.5 471.3h.01M180.2 470.8h.01M184.0 461.4h.01M181.2 474.5h.01M185.3 453.0h.01M183.8 462.0h.01M197.0 469.3h.01M193.3 472.3h.01M185.4 471.9h.01M177.6 462.6h.01M194.2 458.8h.01M193.2 466.0h.01M176.7 348.4h.01M198.9 451.2h.01M188.7 450.6h.01M185.3 456.5h.01M180.7 462.5h.01M176.4 474.4h.01M179.3 466.9h.01M195.4 447.7h.01M217.5 443.8h.01M177.0 466.7h.01M183.3 473.3h.01M187.6 464.4h.01M187.5 449.7h.01M185.8 466.8h.01M193.7 425.7h.01M195.4 411.2h.01M215.4 468.9h.01M196.3 469.4h.01M179.6 345.2h.01M190.6 464.2h.01M199.7 472.6h.01M188.6 301.4h.01M178.3 460.6h.01M181.3 448.3h.01M179.0 474.0h.01M259.0 462.8h.01M189.7 458.7h.01M179.7 466.5h.01M200.9 461.3h.01M206.2 444.0h.01M176.9 473.6h.01M181.3 468.9h.01M179.7 474.9h.01M232.8 460.9h.01M185.4 311.2h.01M176.5 382.8h.01M204.1 360.7h.01M226.6 415.0h.01M178.7 444.2h.01M188.5 456.0h.01M189.5 446.7h.01M178.6 451.5h.01M177.5 473.3h.01M184.5 473.4h.01M195.8 472.1h.01M178.6 466.6h.01M199.8 472.4h.01M177.6 459.5h.01M183.6 463.1h.01M183.1 456.9h.01M182.0 451.4h.01M188.9 470.8h.01M184.4 464.9h.01M209.3 360.3h.01M180.3 454.5h.01M178.0 439.8h.01M188.8 451.1h.01M176.8 419.4h.01M194.6 462.6h.01M207.4 441.5h.01M183.3 401.8h.01M183.3 470.9h.01M177.9 459.0h.01M214.8 470.5h.01M178.5 459.4h.01M178.2 437.1h.01M181.7 394.6h.01M191.2 408.0h.01M178.5 448.6h.01M183.8 469.0h.01M201.4 300.9h.01M203.8 457.8h.01M178.5 442.0h.01M178.1 471.4h.01M208.5 352.9h.01M189.0 449.6h.01M178.6 473.3h.01M177.0 471.2h.01M191.7 472.8h.01M203.3 419.6h.01M184.8 453.9h.01M204.1 448.3h.01M196.6 464.9h.01M212.1 444.3h.01M179.7 422.0h.01M178.2 467.3h.01M187.3 469.9h.01M182.4 420.3h.01M192.6 472.6h.01M190.8 463.7h.01M191.7 459.1h.01M187.1 450.2h.01M198.1 433.5h.01M182.9 455.5h.01M197.0 468.9h.01M187.6 468.5h.01M181.8 472.9h.01M211.6 446.0h.01M203.1 461.0h.01M198.8 414.7h.01M185.9 350.3h.01M194.3 388.7h.01M182.6 470.0h.01M194.7 445.8h.01M182.3 439.8h.01M185.5 466.1h.01M187.7 457.2h.01M181.4 470.3h.01M208.7 402.4h.01M203.5 309.0h.01M187.2 458.3h.01M191.5 467.8h.01M189.0 470.1h.01M177.8 471.7h.01M194.0 412.2h.01M186.9 431.7h.01M198.0 457.4h.01M179.8 471.8h.01M191.3 455.8h.01M183.5 316.9h.01M183.9 464.8h.01M186.2 469.5h.01M198.2 464.1h.01M178.6 464.1h.01M190.2 386.2h.01M181.5 447.1h.01M188.8 441.7h.01M176.7 460.9h.01M194.2 466.4h.01M184.9 471.7h.01M181.5 439.6h.01M188.1 469.3h.01M189.2 422.3h.01M178.9 469.9h.01M245.7 410.0h.01M186.1 469.8h.01M215.8 467.7h.01M183.5 431.0h.01M182.3 465.1h.01M244.2 421.4h.01M183.9 445.9h.01M180.2 459.7h.01M178.6 454.8h.01M181.2 433.1h.01M188.4 466.3h.01M212.7 459.0h.01M181.3 469.9h.01M177.8 470.7h.01M178.2 475.2h.01M211.8 452.2h.01M202.0 466.5h.01M179.8 470.1h.01M186.5 428.6h.01M193.2 362.8h.01M181.6 463.2h.01M192.2 298.5h.01M198.4 442.0h.01M182.4 462.3h.01M184.3 456.2h.01M179.6 443.9h.01M196.8 459.4h.01M201.5 473.7h.01M194.0 418.1h.01M201.0 400.5h.01M176.7 461.7h.01M195.3 472.2h.01M222.1 458.8h.01M177.6 472.2h.01M184.1 474.1h.01M190.7 468.3h.01M187.5 467.5h.01M183.4 470.7h.01M181.5 473.4h.01M188.0 465.8h.01M226.6 399.5h.01M180.4 444.3h.01M196.4 457.2h.01M180.4 454.5h.01M185.6 450.6h.01M183.9 459.3h.01M188.9 468.9h.01M180.6 462.6h.01M206.1 464.1h.01M180.8 320.9h.01M194.4 460.9h.01M199.8 462.3h.01M185.6 435.0h.01M181.7 456.8h.01M214.1 424.8h.01M188.0 456.7h.01M182.2 457.8h.01M185.1 465.6h.01M180.0 342.9h.01M179.1 310.5h.01M181.3 474.3h.01M197.1 471.2h.01M179.2 474.4h.01M198.7 436.9h.01M190.3 474.4h.01M205.9 462.4h.01M183.4 448.6h.01M212.2 472.0h.01M180.7 451.1h.01M177.9 472.2h.01M181.6 470.8h.01M176.6 460.6h.01M209.6 470.5h.01M209.5 449.4h.01M185.1 470.0h.01M186.4 327.8h.01M192.3 459.5h.01M187.6 377.9h.01M180.8 462.1h.01M180.2 458.8h.01M234.8 464.3h.01M181.4 468.9h.01M221.3 450.8h.01M223.1 417.1h.01M176.6 471.9h.01M179.2 456.7h.01M183.4 421.9h.01M195.5 469.4h.01M184.5 474.3h.01M176.4 473.1h.01M183.7 474.1h.01M176.6 474.3h.01M223.0 434.6h.01M177.1 447.9h.01M215.6 312.6h.01M198.1 372.6h.01M176.3 457.4h.01M196.4 436.3h.01M191.1 445.7h.01M178.7 470.8h.01M181.2 451.0h.01M191.8 462.6h.01M228.5 460.8h.01M193.0 461.7h.01M191.2 418.3h.01M188.0 298.0h.01M184.0 418.8h.01M182.9 431.5h.01M179.0 466.3h.01M181.7 474.5h.01M180.7 467.9h.01M188.0 474.2h.01M183.2 466.4h.01M184.7 405.1h.01M190.4 472.8h.01M178.8 458.0h.01M182.5 475.1h.01M195.2 366.4h.01M193.4 406.2h.01M182.3 474.3h.01M198.0 456.2h.01M181.8 468.1h.01M208.3 467.9h.01M177.3 469.6h.01M179.5 448.3h.01M179.1 436.3h.01M202.5 453.4h.01M218.3 408.1h.01M234.9 467.3h.01M180.3 471.8h.01M194.4 469.6h.01M180.7 399.4h.01M198.1 444.6h.01M194.9 415.2h.01M178.1 468.2h.01M179.7 472.3h.01M182.6 432.6h.01M183.1 475.1h.01M208.5 470.5h.01M177.8 469.9h.01M191.0 474.1h.01M181.8 465.3h.01M178.1 474.1h.01M197.9 466.3h.01M191.8 446.2h.01M181.1 470.8h.01M213.3 444.2h.01M176.3 467.6h.01M214.7 468.1h.01M187.9 433.9h.01M209.6 429.3h.01M177.2 466.0h.01M196.2 469.8h.01M178.0 471.9h.01M182.0 468.7h.01M179.7 469.5h.01M247.4 402.5h.01M184.2 443.5h.01M216.7 436.1h.01M193.2 442.0h.01M183.0 469.2h.01M196.6 308.0h.01M182.0 464.4h.01M193.5 461.8h.01M190.5 465.2h.01M180.7 471.7h.01M184.3 474.8h.01M184.0 460.3h.01M179.4 452.7h.01M202.6 423.2h.01M198.6 357.5h.01M184.7 455.5h.01M181.4 338.0h.01M186.4 444.6h.01M192.2 292.5h.01M221.0 468.1h.01M182.3 307.8h.01M179.3 474.7h.01M185.0 464.1h.01M244.3 430.9h.01M181.6 471.0h.01M178.5 393.3h.01M193.9 384.1h.01M202.3 472.3h.01M198.1 470.7h.01M186.5 447.6h.01M212.4 426.3h.01M179.7 471.3h.01M176.7 471.5h.01M199.6 470.0h.01M201.3 395.9h.01M243.2 324.4h.01M176.2 301.2h.01M199.2 472.1h.01M176.3 464.0h.01M199.3 459.5h.01M204.4 464.4h.01M235.4 459.2h.01M262.1 444.0h.01M181.3 458.5h.01M233.5 419.9h.01M195.9 459.2h.01M176.8 453.0h.01M197.4 397.7h.01M195.9 430.2h.01M208.1 442.8h.01M196.1 466.8h.01M177.9 463.8h.01M197.0 470.2h.01M178.7 440.9h.01M178.0 474.9h.01M204.3 450.2h.01M197.3 464.6h.01M190.4 457.6h.01M178.4 440.7h.01M254.8 450.9h.01M198.5 444.2h.01M176.5 469.3h.01M179.8 457.0h.01M179.4 460.8h.01M191.0 393.0h.01M178.7 464.5h.01M179.0 470.1h.01M200.0 411.2h.01M183.8 465.3h.01M197.2 462.3h.01M254.4 445.2h.01M189.6 456.1h.01M184.3 461.2h.01M179.1 325.3h.01M181.8 456.8h.01M179.4 459.0h.01M176.5 467.8h.01M217.1 349.8h.01M185.0 474.6h.01M186.4 395.9h.01M211.5 409.2h.01M187.5 444.5h.01M182.0 463.3h.01M212.9 294.2h.01M198.0 463.4h.01M194.6 451.7h.01M197.0 359.9h.01M183.0 460.0h.01M205.2 466.4h.01M197.6 370.3h.01M181.7 468.7h.01M179.1 468.7h.01M176.3 413.3h.01M184.9 460.9h.01M198.0 469.3h.01M192.2 473.5h.01M201.3 329.2h.01M227.4 432.6h.01M176.3 425.6h.01M179.2 472.9h.01M183.7 366.7h.01M180.8 474.2h.01M192.4 394.7h.01M182.2 412.8h.01M199.2 450.3h.01M177.1 475.1h.01M179.6 475.1h.01M181.6 296.3h.01M177.0 459.9h.01M178.1 448.1h.01M211.8 294.5h.01M227.7 411.5h.01M185.1 469.8h.01M200.9 465.3h.01M201.6 469.1h.01M187.9 471.9h.01M182.3 475.1h.01M182.1 458.2h.01M211.3 457.3h.01M207.3 441.1h.01M185.0 405.3h.01M182.3 457.1h.01M183.7 462.9h.01M179.4 474.4h.01M186.4 452.0h.01M181.1 436.8h.01M198.0 457.3h.01M206.4 458.3h.01M189.5 472.1h.01M187.7 471.7h.01M176.3 470.8h.01M196.3 473.5h.01M208.4 464.3h.01M229.4 459.2h.01M187.2 446.0h.01M211.5 465.8h.01M194.1 455.6h.01M195.0 468.7h.01M182.4 450.6h.01M190.0 474.3h.01M201.3 457.6h.01M227.4 413.0h.01M181.8 455.1h.01M188.4 454.7h.01M190.5 438.9h.01M190.1 473.6h.01M198.0 465.1h.01M179.9 468.2h.01M246.5 431.5h.01M194.2 463.3h.01M180.4 388.9h.01M183.6 463.7h.01M178.7 465.0h.01M177.0 473.0h.01M181.9 472.2h.01M208.8 425.0h.01M211.1 345.2h.01M176.7 468.5h.01M229.6 397.4h.01M224.9 437.5h.01M184.9 451.1h.01M192.8 469.5h.01M187.5 472.4h.01M176.4 407.2h.01M199.7 464.2h.01M184.0 456.8h.01M185.8 467.7h.01M181.0 340.6h.01M206.2 455.6h.01M178.0 452.6h.01M183.2 463.6h.01M185.2 474.4h.01M183.6 467.3h.01M195.5 452.8h.01M179.8 474.2h.01M199.7 425.7h.01M194.5 465.6h.01M202.4 319.6h.01M176.4 460.4h.01M182.3 464.3h.01M181.3 344.2h.01M184.9 460.9h.01M177.4 468.8h.01M178.7 474.3h.01M224.0 455.9h.01M201.6 473.8h.01M177.6 458.0h.01M228.1 469.6h.01M194.3 468.5h.01M178.1 473.1h.01M177.7 468.2h.01M187.8 440.0h.01M184.4 460.1h.01M182.4 424.5h.01M199.1 290.5h.01M187.5 441.9h.01M191.3 470.9h.01M186.7 448.8h.01M202.4 439.6h.01M202.3 445.0h.01M185.0 440.8h.01M199.6 379.0h.01M180.3 463.9h.01M178.0 404.4h.01M205.7 451.9h.01M186.7 471.7h.01M184.0 458.6h.01M255.0 443.9h.01M185.4 455.8h.01M178.4 474.7h.01M186.3 454.4h.01M194.4 417.6h.01M201.1 460.9h.01M199.5 391.5h.01M183.3 447.6h.01M188.2 470.5h.01M182.2 468.6h.01M192.9 459.8h.01M178.6 468.3h.01M210.4 463.0h.01M178.3 468.5h.01M178.0 384.8h.01M177.9 445.8h.01M190.0 472.5h.01M177.5 468.5h.01M176.5 471.1h.01M188.1 370.6h.01M176.4 457.0h.01M176.4 470.2h.01M190.9 468.8h.01M177.9 471.6h.01M230.2 414.3h.01M234.0 415.9h.01M186.7 428.4h.01M197.9 474.1h.01M206.6 442.2h.01M177.3 462.9h.01M177.6 452.5h.01M178.8 454.5h.01M216.2 469.6h.01M196.6 464.7h.01M190.0 448.7h.01M183.3 457.7h.01M176.5 467.4h.01M181.6 437.8h.01M179.0 438.8h.01M216.1 436.7h.01M207.5 467.6h.01M176.3 466.9h.01M190.2 471.4h.01M195.8 465.2h.01M179.8 458.5h.01M206.3 464.9h.01M178.0 441.3h.01M192.3 445.3h.01M177.9 461.5h.01M225.1 433.8h.01M183.4 378.3h.01M182.8 316.5h.01M178.5 464.7h.01M177.6 351.4h.01M202.6 468.9h.01M180.6 297.7h.01M191.1 443.9h.01M178.1 461.7h.01M189.1 447.3h.01M177.9 425.4h.01M179.5 468.7h.01M185.7 374.1h.01M182.5 469.3h.01M213.9 455.2h.01M204.9 454.2h.01M179.8 472.5h.01M212.3 446.5h.01M182.9 472.4h.01M191.0 468.8h.01M180.9 463.0h.01M194.1 422.8h.01M192.8 428.3h.01M240.9 339.9h.01M184.6 414.6h.01M191.2 453.3h.01M182.1 474.7h.01M189.9 425.7h.01M179.7 473.5h.01M177.1 474.7h.01M240.3 403.7h.01M185.7 315.1h.01M189.5 445.3h.01M176.9 431.1h.01M268.0 379.8h.01M186.0 471.8h.01M188.7 387.5h.01M180.2 444.3h.01M176.5 459.1h.01M200.6 458.5h.01M212.0 441.8h.01M209.5 446.5h.01M184.0 431.3h.01M188.7 461.2h.01M180.8 408.2h.01M201.3 437.4h.01M178.2 453.3h.01M185.5 466.8h.01M188.5 465.6h.01M217.8 463.3h.01M193.5 407.0h.01M180.4 457.5h.01M177.5 474.0h.01M180.1 456.0h.01M182.9 444.8h.01M179.4 475.0h.01M199.0 441.9h.01M228.4 459.3h.01M193.3 473.0h.01M183.7 458.1h.01M178.8 475.2h.01M183.2 387.2h.01M178.7 464.5h.01M187.9 469.2h.01M180.2 474.3h.01M185.1 469.8h.01M199.3 406.9h.01M207.4 473.2h.01M176.3 475.0h.01M225.2 458.0h.01M176.3 393.7h.01M187.0 474.7h.01M177.1 462.5h.01M214.5 419.7h.01M242.2 432.9h.01M203.1 425.6h.01M182.6 468.1h.01M187.3 470.3h.01M191.6 458.7h.01M178.3 310.4h.01M187.1 292.4h.01M206.4 295.5h.01M220.7 466.8h.01M178.3 467.9h.01M199.4 461.0h.01M176.4 472.9h.01M176.6 462.5h.01M190.2 452.2h.01M180.9 474.8h.01M181.2 464.2h.01M181.1 461.0h.01M184.2 473.0h.01M208.1 416.9h.01M188.1 428.9h.01M192.4 462.6h.01M221.3 430.8h.01M183.2 460.4h.01M180.1 470.2h.01M213.4 451.8h.01M199.1 474.0h.01M192.4 473.8h.01M178.4 453.9h.01M176.3 473.5h.01M196.7 421.1h.01M187.8 443.5h.01M195.0 467.3h.01M176.6 470.5h.01M182.7 338.7h.01M193.9 462.7h.01M189.3 459.2h.01M200.9 442.0h.01M180.0 427.8h.01M176.8 442.1h.01M243.8 398.2h.01M178.7 459.8h.01M178.7 452.6h.01M255.5 454.3h.01M176.2 456.3h.01M198.3 299.7h.01M178.6 375.0h.01M181.0 382.3h.01M186.7 391.1h.01M191.0 474.1h.01M188.4 418.3h.01M185.1 431.5h.01M197.8 459.2h.01M178.1 463.6h.01M211.8 457.2h.01M195.3 472.1h.01M200.3 457.6h.01M188.6 466.0h.01M180.5 448.8h.01M185.6 452.4h.01M178.0 416.1h.01M210.4 454.8h.01M182.7 466.6h.01M195.5 446.9h.01M177.0 460.7h.01M185.5 381.2h.01M187.8 464.0h.01M183.8 471.1h.01M191.0 437.7h.01M180.0 458.0h.01M213.5 436.6h.01M195.0 465.0h.01M196.4 464.9h.01M179.7 470.1h.01M177.6 468.3h.01M183.8 444.5h.01M183.5 448.0h.01M214.4 425.8h.01M191.9 421.2h.01M189.8 469.7h.01M201.5 464.0h.01M209.0 466.0h.01M176.6 387.0h.01M198.6 460.7h.01M220.9 453.6h.01M179.2 291.2h.01M186.7 471.0h.01M188.9 472.5h.01M178.2 343.9h.01M183.2 357.7h.01M244.9 435.5h.01M182.1 453.4h.01M218.2 463.3h.01M187.9 470.9h.01M185.3 458.2h.01M176.5 470.9h.01M271.8 417.7h.01M180.7 455.1h.01M190.4 455.3h.01M178.3 469.8h.01M207.0 349.8h.01M176.3 438.7h.01M208.9 441.4h.01M182.4 463.2h.01M188.2 462.3h.01M176.7 464.7h.01M180.3 472.6h.01M193.6 448.8h.01M185.1 432.3h.01M180.6 456.6h.01M182.1 465.0h.01M192.2 309.3h.01M181.1 446.2h.01M179.8 298.0h.01M204.0 322.2h.01M197.3 344.4h.01M186.0 421.3h.01M181.6 451.6h.01M219.0 434.3h.01M186.5 423.0h.01M181.6 454.3h.01M180.6 458.2h.01M182.9 409.2h.01M178.2 456.0h.01M180.6 305.3h.01M188.3 460.0h.01M193.5 471.6h.01M197.3 435.1h.01M185.0 458.1h.01M198.5 430.9h.01M184.4 438.7h.01M179.7 396.9h.01M239.2 457.1h.01M195.1 451.9h.01M190.7 467.3h.01M177.7 432.3h.01M190.1 466.1h.01M177.7 458.9h.01M183.9 447.9h.01M197.4 458.5h.01M178.9 431.8h.01M176.7 346.4h.01M179.3 425.4h.01M191.7 401.7h.01M215.3 469.9h.01M178.4 451.8h.01M186.5 433.4h.01M189.5 449.1h.01M188.7 463.6h.01M221.6 469.5h.01M231.3 458.9h.01M183.1 461.6h.01M180.9 473.3h.01M177.1 472.1h.01M185.6 470.9h.01M177.8 464.2h.01M177.0 471.6h.01M193.0 318.4h.01M176.5 468.2h.01M179.1 447.8h.01M190.9 438.2h.01M182.2 427.1h.01M190.1 393.8h.01M176.4 458.6h.01M181.6 470.3h.01M179.4 459.4h.01M179.2 455.5h.01M180.2 455.0h.01M189.3 377.1h.01M182.5 462.6h.01M177.1 475.3h.01M189.7 410.5h.01M181.0 395.8h.01M178.7 464.0h.01M196.5 458.2h.01M179.9 458.1h.01M184.0 442.0h.01M184.9 457.8h.01M177.2 422.7h.01M231.8 356.1h.01M176.5 458.1h.01M186.2 459.8h.01M176.8 467.5h.01M185.8 416.9h.01M200.2 471.1h.01M185.2 472.9h.01M196.3 466.0h.01M176.8 458.1h.01M204.1 443.9h.01M190.4 410.5h.01M187.4 345.7h.01M186.6 468.0h.01M181.2 423.8h.01M181.6 461.6h.01M177.9 454.0h.01M188.7 425.0h.01M179.4 474.4h.01M215.8 451.0h.01M198.7 412.4h.01M185.6 460.5h.01M185.4 471.9h.01M180.1 465.3h.01M178.8 465.7h.01M184.2 413.6h.01M182.3 474.4h.01M199.3 308.3h.01M179.1 449.2h.01M184.4 459.3h.01M197.1 465.0h.01M192.9 473.6h.01M182.8 434.4h.01M195.0 468.1h.01M198.9 423.9h.01M184.0 466.0h.01M193.5 448.1h.01M186.8 446.2h.01M187.8 457.5h.01M176.6 467.8h.01M187.4 438.7h.01M193.6 422.2h.01M181.2 467.0h.01M186.8 430.1h.01M200.3 453.5h.01M176.4 468.1h.01M248.9 410.2h.01M186.2 452.7h.01M177.0 472.2h.01M209.0 342.7h.01M181.2 461.0h.01M180.6 468.5h.01M189.1 459.9h.01M177.9 439.9h.01M190.6 466.9h.01M182.9 470.3h.01M201.0 468.2h.01M184.7 470.3h.01M179.1 469.6h.01M179.9 449.7h.01M177.2 346.1h.01M193.0 445.9h.01M193.4 386.2h.01M177.4 443.8h.01M192.4 470.2h.01M177.4 436.5h.01M177.0 471.2h.01M192.7 381.7h.01M220.2 468.5h.01M200.8 414.1h.01M181.4 463.7h.01M178.1 472.7h.01M186.8 473.2h.01M190.2 462.3h.01M177.5 458.5h.01M181.7 464.3h.01M206.8 469.0h.01M230.1 304.8h.01M180.1 468.8h.01M198.9 458.7h.01M182.3 437.6h.01M183.0 470.5h.01M176.4 465.2h.01M177.4 320.3h.01M178.0 474.3h.01M183.6 436.7h.01M211.5 420.6h.01M184.7 470.9h.01M185.8 367.5h.01M177.2 465.5h.01M201.6 467.4h.01M192.0 460.2h.01M186.2 463.9h.01M184.2 471.6h.01M179.9 455.1h.01M194.2 471.0h.01M177.0 458.5h.01M176.5 438.3h.01M209.0 330.2h.01M177.2 446.4h.01M189.5 474.6h.01M213.8 467.8h.01M186.1 472.2h.01M201.0 452.2h.01M183.6 473.4h.01M180.1 366.2h.01M205.3 462.2h.01M272.0 414.4h.01M194.5 446.4h.01M189.9 362.7h.01M189.2 468.1h.01M190.8 472.8h.01M182.1 472.9h.01M178.2 460.3h.01M178.0 466.7h.01M176.6 470.4h.01M263.1 456.7h.01M225.9 463.3h.01M180.8 437.2h.01M178.0 461.4h.01M205.1 444.4h.01M225.9 371.8h.01M194.6 469.5h.01M192.4 429.2h.01M182.1 470.8h.01M179.9 463.7h.01M192.1 335.4h.01M178.8 468.2h.01M199.7 444.7h.01M178.8 470.9h.01M189.6 426.9h.01M192.9 413.7h.01M183.2 470.0h.01M259.1 419.5h.01M183.7 474.9h.01M176.7 434.5h.01M184.2 456.1h.01M196.3 438.2h.01M209.8 459.4h.01M177.6 462.6h.01M179.8 455.8h.01M186.0 450.6h.01M181.3 473.5h.01M187.8 464.8h.01M193.6 463.6h.01M205.5 402.9h.01M177.3 473.0h.01M209.9 293.0h.01M186.0 473.2h.01M207.8 466.0h.01M190.1 473.3h.01M176.4 465.3h.01M182.3 414.8h.01M199.5 467.4h.01M211.9 460.0h.01M196.4 467.2h.01M185.0 471.8h.01M213.6 454.5h.01M183.5 470.2h.01M180.0 438.5h.01M179.4 465.5h.01M186.3 410.3h.01M182.1 475.0h.01M206.9 461.5h.01M177.6 463.5h.01M179.1 463.8h.01M180.8 451.6h.01M193.2 452.6h.01M181.8 428.3h.01M220.3 441.6h.01M179.2 444.6h.01M193.4 454.3h.01M182.5 470.4h.01M183.1 456.0h.01M216.1 357.5h.01M179.1 432.1h.01M222.1 470.0h.01M179.7 467.3h.01M179.6 449.5h.01M183.4 467.7h.01M178.3 464.6h.01M182.2 442.1h.01M193.7 472.5h.01M190.2 461.9h.01M195.9 463.6h.01M176.3 468.6h.01M186.0 299.7h.01M206.2 470.8h.01M190.6 331.3h.01M177.7 474.5h.01M177.0 468.4h.01M196.3 431.2h.01M184.4 378.0h.01M206.6 459.4h.01M177.9 451.4h.01M193.4 453.3h.01M205.6 464.5h.01M179.9 444.9h.01M183.8 462.7h.01M182.9 388.9h.01M219.1 464.6h.01M177.2 463.0h.01M184.2 424.4h.01M188.1 367.9h.01M178.7 424.4h.01M185.0 473.3h.01M178.8 467.5h.01M204.6 451.6h.01M205.1 323.9h.01M189.9 296.2h.01M179.4 457.9h.01M194.6 474.1h.01M192.0 447.3h.01M185.1 463.6h.01M201.6 460.8h.01M233.7 424.4h.01M183.4 468.1h.01M207.1 445.1h.01M177.5 458.9h.01M186.2 316.3h.01M196.3 470.2h.01M180.7 430.4h.01M187.4 468.2h.01M181.8 467.8h.01M270.6 438.2h.01M178.2 448.3h.01M183.2 439.6h.01M181.2 456.0h.01M206.2 447.4h.01M228.0 447.7h.01M177.8 461.8h.01M185.1 441.3h.01M224.1 464.0h.01M179.5 443.1h.01M187.2 443.9h.01M176.4 473.3h.01M177.3 444.7h.01M180.6 464.8h.01M235.4 456.1h.01M178.1 466.2h.01M183.8 464.6h.01M177.9 445.6h.01M181.6 472.6h.01M181.0 445.5h.01M179.0 469.5h.01M190.5 465.5h.01M192.6 462.8h.01M201.9 453.5h.01M182.4 458.8h.01M216.7 404.1h.01M181.9 471.9h.01M191.3 458.2h.01M221.1 470.4h.01M182.5 471.9h.01M210.3 365.9h.01M199.3 468.5h.01M177.2 472.5h.01M190.6 471.9h.01M181.9 398.6h.01M185.5 458.5h.01M188.1 470.2h.01M193.3 458.8h.01M176.8 470.8h.01M210.3 470.2h.01M224.0 360.3h.01M177.0 295.7h.01M186.8 437.0h.01M243.8 422.2h.01M176.4 473.5h.01M180.6 449.6h.01M182.4 436.6h.01M246.9 389.2h.01M184.2 468.3h.01M191.1 473.9h.01M182.4 445.0h.01M182.7 469.8h.01M200.7 470.5h.01M186.3 467.6h.01M179.5 466.4h.01M181.1 469.4h.01M218.8 455.2h.01M188.4 374.8h.01M204.3 448.7h.01M176.5 453.7h.01M192.6 424.7h.01M181.5 442.2h.01M214.0 460.1h.01M183.7 436.4h.01M179.0 456.5h.01M197.3 434.1h.01M191.6 421.0h.01M224.2 447.6h.01M223.5 458.3h.01M176.8 456.7h.01M226.8 445.0h.01M191.4 464.6h.01M178.2 465.6h.01M188.3 457.1h.01M203.6 472.9h.01M178.2 468.0h.01M234.2 459.6h.01M245.9 429.9h.01M181.2 458.7h.01M177.3 463.0h.01M178.4 462.1h.01M184.6 419.5h.01M194.5 456.7h.01M184.1 448.9h.01M178.7 366.7h.01M198.9 466.8h.01M178.9 473.1h.01M184.6 471.9h.01M198.9 471.9h.01M177.4 473.3h.01M187.4 327.2h.01M189.7 463.0h.01M214.5 410.6h.01M176.4 450.6h.01M179.7 421.9h.01M180.0 467.7h.01M191.4 449.0h.01M230.1 460.6h.01M179.7 466.5h.01M205.5 444.1h.01M182.2 473.6h.01M182.6 443.9h.01M201.9 446.8h.01M177.0 472.6h.01M176.7 446.2h.01M196.8 411.7h.01M180.9 336.0h.01M191.5 471.2h.01M186.2 440.1h.01M178.8 475.2h.01M239.8 465.5h.01M212.0 312.9h.01M179.6 450.9h.01M189.0 458.7h.01M177.1 466.0h.01M191.8 399.2h.01M179.0 452.2h.01M206.8 342.5h.01M192.0 473.9h.01M184.4 467.7h.01M177.8 474.1h.01M198.1 468.8h.01M184.8 446.0h.01M184.3 469.6h.01M177.7 470.6h.01M176.3 467.2h.01M179.0 470.5h.01M186.7 463.5h.01M188.7 432.7h.01M194.6 474.5h.01M202.5 310.2h.01M229.0 451.4h.01M182.9 468.4h.01M182.6 465.3h.01M183.1 470.0h.01M191.3 457.3h.01M177.7 344.6h.01M185.1 425.2h.01M192.1 463.9h.01M217.6 445.8h.01M184.7 461.4h.01M237.4 447.5h.01M183.0 474.7h.01M192.6 385.4h.01M214.1 467.6h.01M199.8 470.4h.01M183.3 454.0h.01M181.7 474.4h.01M182.7 377.5h.01M178.6 459.7h.01M231.4 459.2h.01M216.4 427.1h.01M187.1 458.0h.01M177.0 474.6h.01M178.6 433.6h.01M177.6 472.4h.01M192.8 448.4h.01M181.6 469.4h.01M182.4 464.3h.01M192.3 454.9h.01M203.7 467.0h.01M193.4 471.0h.01M196.6 316.8h.01M183.8 457.7h.01M183.5 464.4h.01M203.9 471.4h.01M225.4 460.2h.01M187.9 461.9h.01M198.7 459.7h.01M179.8 445.5h.01M207.8 452.5h.01M188.0 421.5h.01M180.8 456.8h.01M193.5 471.1h.01M213.1 463.2h.01M176.8 359.0h.01M183.6 463.6h.01M189.6 471.8h.01M212.4 410.7h.01M178.9 469.2h.01M252.7 463.0h.01M215.2 459.2h.01M181.2 460.2h.01M184.3 451.2h.01M193.1 361.9h.01M214.9 447.3h.01M183.2 346.4h.01M179.1 464.9h.01M241.8 408.0h.01M223.3 462.1h.01M207.2 471.7h.01M185.2 457.2h.01M183.5 431.5h.01M176.3 463.7h.01M178.4 470.0h.01M177.6 411.6h.01M185.1 454.9h.01M204.9 456.3h.01M178.0 449.5h.01M219.8 295.0h.01M201.6 351.5h.01M197.0 436.6h.01M221.1 470.9h.01M191.8 313.8h.01M217.6 401.6h.01M176.7 470.8h.01M201.6 469.2h.01M179.9 458.0h.01M178.8 469.3h.01M179.3 457.0h.01M178.0 473.3h.01M203.8 465.8h.01M182.6 468.5h.01M178.2 431.7h.01M183.5 468.4h.01M199.4 467.0h.01" stroke="#e4473c" stroke-width="1.0" stroke-linecap="square" fill="none"/>
<path d="M156.0 464.9h.01M154.0 464.3h.01M174.4 451.7h.01M148.0 464.3h.01M147.6 468.4h.01M174.2 441.4h.01M160.7 474.2h.01M174.6 456.5h.01M174.8 456.2h.01M147.9 475.1h.01M155.3 471.8h.01M165.5 466.5h.01M148.9 463.7h.01M166.2 474.9h.01M168.1 474.9h.01M147.9 467.8h.01M169.1 363.9h.01M154.9 459.1h.01M155.4 471.3h.01M148.5 449.1h.01M175.6 466.9h.01M164.5 475.0h.01M166.5 473.7h.01M173.3 472.2h.01M157.4 473.1h.01M171.8 456.2h.01M151.7 443.2h.01M175.0 442.0h.01M156.0 468.2h.01M153.2 475.1h.01M171.0 470.5h.01M162.9 472.4h.01M160.1 474.9h.01M170.0 429.6h.01M160.6 475.3h.01M168.5 468.3h.01M170.4 474.3h.01M151.5 445.6h.01M149.6 408.5h.01M152.3 474.6h.01M172.7 469.3h.01M174.9 444.6h.01M163.4 468.5h.01M159.1 470.1h.01M159.9 470.7h.01M172.8 429.1h.01M158.7 475.3h.01M169.5 472.5h.01M155.8 467.7h.01M169.0 468.0h.01M151.9 449.0h.01M171.4 465.0h.01M159.1 463.7h.01M170.4 464.0h.01M154.5 458.9h.01M151.9 463.1h.01M153.4 459.2h.01M159.9 470.4h.01M151.8 442.5h.01M170.3 472.6h.01M148.4 472.2h.01M169.4 472.4h.01M166.8 470.5h.01M163.9 463.3h.01M165.0 471.3h.01M175.8 440.4h.01M152.2 464.5h.01M147.8 472.8h.01M169.0 429.3h.01M164.5 474.4h.01M148.2 471.0h.01M162.7 473.5h.01M170.7 453.0h.01M150.6 460.6h.01M152.8 472.0h.01M150.5 461.9h.01M158.7 465.4h.01M170.4 471.9h.01M170.0 473.7h.01M149.5 472.2h.01M153.2 469.9h.01M169.9 447.8h.01M153.9 473.1h.01M168.6 442.4h.01M174.1 451.8h.01M152.5 470.6h.01M166.4 472.3h.01M150.4 469.1h.01M155.8 472.3h.01M169.9 471.4h.01M176.1 474.8h.01M147.4 463.8h.01M168.8 473.7h.01M156.3 471.0h.01M173.2 461.5h.01M147.0 468.7h.01M174.5 469.6h.01M171.9 457.0h.01M149.9 474.6h.01M176.2 472.0h.01M152.5 372.4h.01M163.6 473.6h.01M149.5 459.0h.01M175.3 465.3h.01M152.0 470.8h.01M155.5 468.9h.01M168.3 470.5h.01M158.8 460.5h.01M149.4 453.9h.01M146.8 447.9h.01M166.9 453.9h.01M151.4 463.8h.01M153.5 466.6h.01M151.1 467.1h.01M147.0 458.1h.01M148.0 435.5h.01M171.9 463.1h.01M162.9 472.4h.01M155.5 472.8h.01M155.9 474.7h.01M172.7 472.2h.01M164.2 474.0h.01M168.0 453.7h.01M165.8 461.5h.01M172.9 458.9h.01M159.5 464.0h.01M168.4 468.5h.01M155.1 470.3h.01M174.8 474.0h.01M163.0 473.5h.01M148.8 417.3h.01M153.8 470.8h.01M168.0 465.7h.01M162.7 472.6h.01M151.5 406.9h.01M175.8 466.1h.01M173.6 454.4h.01M165.0 471.1h.01M165.2 465.9h.01M170.8 464.3h.01M172.0 464.1h.01M147.6 471.5h.01M175.6 470.6h.01M148.3 469.4h.01M164.4 472.5h.01M152.7 457.4h.01M165.4 474.2h.01M171.2 473.3h.01M156.4 470.7h.01M169.0 470.0h.01M174.8 474.0h.01M166.5 472.4h.01M148.3 475.3h.01M151.3 465.6h.01M154.7 455.5h.01M150.3 463.3h.01M151.2 473.8h.01M154.7 472.1h.01M148.6 468.7h.01M149.9 474.6h.01M171.2 468.5h.01M172.2 469.8h.01M174.0 471.2h.01M152.3 473.4h.01M173.1 463.8h.01M152.4 457.2h.01M153.9 471.5h.01M168.0 471.4h.01M167.8 473.6h.01M173.9 475.0h.01M169.7 453.7h.01M152.5 474.1h.01M155.0 473.2h.01M151.8 468.8h.01M156.1 452.2h.01M162.4 474.3h.01M167.4 475.2h.01M169.9 435.6h.01M147.9 443.1h.01M174.2 447.3h.01M174.7 458.4h.01M171.8 440.4h.01M150.8 464.4h.01M173.1 472.9h.01M155.7 472.4h.01M164.1 471.9h.01M175.8 474.6h.01M147.4 461.3h.01M160.0 474.8h.01M158.3 475.0h.01M174.2 469.9h.01M172.4 462.4h.01M173.5 474.9h.01M153.1 468.8h.01M157.2 472.6h.01M165.8 466.8h.01M175.0 474.9h.01M152.9 475.1h.01M170.3 469.8h.01M172.1 458.7h.01M149.2 420.0h.01M156.1 469.6h.01M166.0 455.0h.01M175.2 474.5h.01M164.9 473.7h.01M149.9 470.0h.01M171.9 418.2h.01M170.6 443.7h.01M175.3 470.8h.01M150.0 469.1h.01M173.4 471.0h.01M166.6 473.7h.01M150.1 467.7h.01M168.0 470.9h.01M172.9 475.3h.01M174.6 471.2h.01M165.0 460.3h.01M174.5 440.3h.01M167.3 475.1h.01M167.1 447.1h.01M149.4 446.6h.01M149.2 474.9h.01M156.6 470.7h.01M151.0 474.9h.01M172.4 461.7h.01M170.8 467.8h.01M148.0 469.2h.01M149.5 458.0h.01M150.0 425.2h.01M175.9 460.1h.01M162.5 473.5h.01M151.4 474.4h.01M172.2 469.1h.01M150.6 466.9h.01M173.6 467.6h.01M152.6 464.3h.01M166.1 463.0h.01M151.2 469.8h.01M159.1 471.4h.01M174.3 472.2h.01M150.4 473.2h.01M163.9 473.5h.01M172.9 464.0h.01M166.2 468.1h.01M173.7 465.6h.01M159.9 471.6h.01M160.9 475.2h.01M154.6 470.0h.01M171.4 428.1h.01M168.8 467.4h.01M162.4 471.6h.01M162.0 473.2h.01M153.8 473.9h.01M172.2 471.6h.01M175.7 471.7h.01M173.5 473.0h.01M167.6 469.7h.01M168.9 475.1h.01M149.4 454.0h.01M167.7 470.4h.01M151.4 466.5h.01M168.8 466.5h.01M172.7 473.5h.01M154.9 470.3h.01M163.7 474.5h.01M168.8 474.9h.01M151.8 444.1h.01M152.3 471.7h.01M166.8 472.6h.01M171.2 431.0h.01M173.6 470.6h.01M149.7 472.9h.01M159.9 472.2h.01M169.6 472.8h.01M149.4 467.3h.01M163.1 473.3h.01M169.4 470.0h.01M156.4 463.1h.01M170.2 473.2h.01M169.5 460.6h.01M151.4 471.8h.01M172.2 459.7h.01M163.9 468.2h.01M155.1 474.1h.01M158.9 466.7h.01M147.3 474.6h.01M160.1 473.8h.01M165.0 474.5h.01M155.0 439.7h.01M153.6 418.0h.01M171.0 464.7h.01M154.9 455.5h.01M149.1 437.9h.01M176.0 453.3h.01M148.8 470.5h.01M152.1 431.3h.01M152.3 384.8h.01M157.7 469.3h.01M149.8 460.7h.01M163.7 473.3h.01M176.1 474.7h.01M148.6 459.0h.01M174.0 429.5h.01M147.1 407.3h.01M161.0 474.5h.01M156.6 457.8h.01M170.0 467.4h.01M171.8 473.9h.01M165.1 464.5h.01M172.7 422.4h.01M163.0 474.0h.01M168.8 467.2h.01M164.9 469.8h.01M173.6 469.5h.01M173.2 472.0h.01M148.1 437.9h.01M152.3 448.9h.01M168.0 442.4h.01M149.6 465.2h.01M171.8 410.3h.01M169.5 428.2h.01M162.6 472.2h.01M155.6 468.9h.01M171.4 470.8h.01M171.9 420.2h.01M168.3 472.3h.01M160.9 474.2h.01M171.3 455.9h.01M176.2 472.2h.01M167.7 446.8h.01M173.4 471.5h.01M163.9 470.0h.01M149.1 451.5h.01M154.0 470.1h.01M173.5 453.5h.01M171.4 474.6h.01M153.2 448.0h.01M148.8 474.4h.01M153.3 466.6h.01M176.1 463.8h.01M148.9 456.7h.01M162.4 472.6h.01M149.3 456.7h.01M170.8 472.1h.01M147.7 458.1h.01M173.0 372.5h.01M172.1 456.1h.01M171.5 465.0h.01M170.3 433.3h.01M171.0 452.5h.01M174.7 469.7h.01M158.5 475.0h.01M152.9 453.2h.01M173.6 467.4h.01M148.0 458.9h.01M158.1 474.1h.01M166.3 472.9h.01M149.5 458.3h.01M149.7 470.7h.01M167.6 462.2h.01M158.4 471.0h.01M158.7 468.9h.01M175.3 463.1h.01M175.7 462.5h.01M160.3 471.7h.01M154.7 472.0h.01M155.9 470.6h.01M168.4 474.6h.01M151.8 461.3h.01M171.0 451.4h.01M170.8 470.2h.01M152.5 466.6h.01M152.5 469.5h.01M175.1 462.4h.01M167.6 464.4h.01M165.4 471.7h.01M174.3 475.3h.01M169.9 469.4h.01M158.8 471.0h.01M149.2 448.8h.01M170.4 473.8h.01M172.6 471.7h.01M166.9 467.9h.01M147.9 455.4h.01M165.5 469.6h.01M174.1 458.5h.01M155.4 465.5h.01M148.0 445.2h.01M174.3 462.0h.01M174.0 459.5h.01M172.6 469.3h.01M149.0 460.9h.01M173.6 473.7h.01M172.7 471.6h.01M155.4 445.1h.01M168.5 468.2h.01M174.8 465.9h.01M162.7 471.2h.01M156.2 459.0h.01M148.6 462.5h.01M148.3 474.3h.01M174.6 421.4h.01M150.8 472.1h.01M152.0 467.9h.01M156.7 473.1h.01M169.0 460.0h.01M168.3 454.2h.01M171.6 369.0h.01M171.9 457.8h.01M169.5 472.7h.01M176.2 474.8h.01M174.1 474.9h.01M150.1 438.6h.01M164.5 472.1h.01M166.6 470.5h.01M158.6 471.2h.01M153.9 438.7h.01M154.4 465.4h.01M158.5 473.5h.01M165.7 470.2h.01M176.1 474.3h.01M153.1 466.2h.01M164.2 473.4h.01M174.5 470.1h.01M152.8 462.4h.01M175.5 472.1h.01M151.2 473.8h.01M151.2 473.9h.01M173.9 468.1h.01M164.3 465.6h.01M152.9 473.3h.01M173.8 475.0h.01M162.1 475.0h.01M172.3 470.8h.01M170.3 466.7h.01M157.1 471.2h.01M157.7 474.2h.01M176.1 468.1h.01M175.0 470.9h.01M147.9 474.5h.01M159.4 472.1h.01M150.7 471.9h.01M152.6 465.7h.01M168.3 409.5h.01M149.3 471.7h.01M158.6 471.4h.01M174.6 434.4h.01M165.4 468.1h.01M175.4 471.1h.01M173.2 455.0h.01M169.4 472.9h.01M154.1 468.9h.01M170.5 473.0h.01M162.8 474.6h.01M148.2 471.4h.01M149.5 474.5h.01M174.2 471.6h.01M175.3 460.0h.01M171.6 474.1h.01M170.9 474.9h.01M173.4 466.6h.01M168.3 468.4h.01M174.9 469.4h.01M155.7 462.8h.01M173.0 443.0h.01M152.5 469.6h.01M148.7 457.9h.01M175.3 459.3h.01M155.6 472.8h.01M169.5 473.4h.01M154.9 473.1h.01M168.7 455.6h.01M147.2 397.6h.01M171.5 473.8h.01M173.3 466.7h.01M155.8 456.9h.01M148.5 469.1h.01M173.9 467.4h.01M165.9 471.5h.01M156.4 469.0h.01M170.4 471.2h.01M171.2 472.2h.01M167.3 473.1h.01M147.4 325.8h.01M174.1 465.2h.01M168.6 472.6h.01M158.9 470.6h.01M157.3 474.9h.01M167.6 461.6h.01M150.9 462.1h.01M152.3 474.4h.01M146.9 455.1h.01M170.5 473.1h.01M154.5 471.4h.01M169.9 472.6h.01M149.0 456.7h.01M148.9 422.2h.01M174.5 468.1h.01M168.3 470.6h.01M171.2 464.9h.01M149.3 469.5h.01M154.4 344.3h.01M151.4 445.6h.01M172.3 465.7h.01M173.8 474.8h.01M147.0 474.0h.01M166.0 455.1h.01M147.1 470.9h.01M163.9 466.7h.01M149.6 467.1h.01M158.2 464.0h.01M166.1 457.8h.01M168.0 470.7h.01M174.1 469.2h.01M155.4 470.8h.01M161.2 475.2h.01M153.4 474.3h.01M155.1 474.9h.01M159.0 473.4h.01M162.8 469.7h.01M172.8 474.5h.01M167.6 469.7h.01M156.1 474.1h.01M168.8 475.1h.01M157.3 461.1h.01M150.3 473.8h.01M170.8 473.2h.01M167.2 462.2h.01M171.3 473.0h.01M169.2 466.9h.01M168.2 469.2h.01M169.7 470.2h.01M174.4 472.1h.01M157.3 454.6h.01M160.2 472.4h.01M167.1 474.3h.01M156.6 471.6h.01M152.1 452.9h.01M173.7 449.0h.01M153.5 472.9h.01M154.1 461.1h.01M151.2 468.3h.01M150.3 473.2h.01M175.5 473.0h.01M149.4 437.2h.01M175.2 469.7h.01M162.9 472.1h.01M173.5 467.5h.01M158.2 470.1h.01M157.0 473.9h.01M146.9 475.3h.01M147.3 470.3h.01M154.7 467.1h.01M148.9 466.8h.01M169.2 472.4h.01M167.1 456.9h.01M168.3 433.4h.01M169.1 458.8h.01M156.2 473.9h.01M170.7 470.8h.01M151.5 474.0h.01M147.0 472.8h.01M153.6 468.4h.01M149.9 472.9h.01M149.3 457.4h.01M154.6 467.0h.01M164.6 464.3h.01M151.6 471.8h.01M174.5 472.2h.01M169.1 462.0h.01M168.6 440.0h.01M158.1 468.6h.01M156.0 470.1h.01M176.2 422.3h.01M174.7 470.2h.01M175.5 468.4h.01M166.3 468.0h.01M167.8 473.2h.01M151.1 474.9h.01M156.5 462.4h.01M157.7 463.1h.01M168.6 394.9h.01M169.7 467.5h.01M152.2 474.2h.01M155.7 469.4h.01M149.1 458.7h.01M171.0 461.9h.01M170.8 336.6h.01M156.4 466.2h.01M150.1 470.2h.01M168.0 474.4h.01M174.7 460.5h.01M176.0 409.9h.01M150.3 460.6h.01M173.4 467.2h.01M153.0 458.2h.01M149.1 470.1h.01M167.2 469.9h.01M157.3 466.0h.01M150.4 464.8h.01M172.2 470.2h.01M155.5 472.0h.01M172.5 466.3h.01M147.4 445.2h.01M167.1 469.2h.01M149.9 468.3h.01M169.7 468.3h.01M155.4 472.6h.01M146.9 445.9h.01M151.2 473.0h.01M160.0 472.0h.01M173.3 460.8h.01M147.9 365.7h.01M152.3 459.3h.01M159.8 474.8h.01M149.2 461.3h.01M154.7 474.7h.01M149.0 471.4h.01M152.9 452.3h.01M169.4 468.0h.01M172.6 474.8h.01M155.6 465.8h.01M148.1 468.2h.01M166.4 472.0h.01M174.6 468.1h.01M149.3 467.8h.01M169.9 437.7h.01M149.7 458.4h.01M170.9 473.0h.01M155.3 474.0h.01M170.5 470.3h.01M169.2 437.0h.01M162.1 474.2h.01M147.0 470.8h.01M173.8 432.6h.01M149.7 474.9h.01M168.2 466.0h.01M160.1 470.3h.01M163.2 469.5h.01M156.1 473.6h.01M156.0 467.7h.01M172.4 401.8h.01M155.2 462.6h.01M175.1 474.2h.01M155.0 473.5h.01M167.3 472.5h.01M154.0 461.8h.01M165.6 475.1h.01M165.3 466.7h.01M172.7 451.7h.01M155.0 466.8h.01M154.0 467.0h.01M175.0 474.4h.01M149.7 470.9h.01M175.3 470.6h.01M149.2 426.4h.01M149.4 469.2h.01M149.5 463.3h.01M169.5 466.6h.01M148.0 459.8h.01M167.1 475.3h.01M155.5 469.7h.01M170.3 473.9h.01M170.9 473.1h.01M151.5 472.6h.01M170.8 475.2h.01M163.5 471.9h.01M148.8 466.3h.01M149.3 464.1h.01M175.5 470.7h.01M166.5 473.8h.01M166.9 466.9h.01M173.4 467.5h.01M158.8 473.7h.01M167.8 472.1h.01M176.0 433.0h.01M154.3 464.8h.01M169.7 474.8h.01M153.8 469.5h.01M149.1 450.6h.01M172.4 468.0h.01M154.7 470.1h.01M150.2 473.1h.01M152.0 466.3h.01M152.4 443.1h.01M155.2 474.6h.01M170.8 449.7h.01M169.1 471.6h.01M160.6 472.2h.01M154.2 398.8h.01M165.6 470.5h.01M150.2 462.7h.01M147.0 471.4h.01M162.7 470.7h.01M162.2 472.9h.01M170.0 473.3h.01M148.6 467.6h.01M148.0 453.6h.01M164.0 475.3h.01M155.4 469.7h.01M171.7 474.4h.01M174.4 458.2h.01M174.4 473.4h.01M154.5 465.4h.01M150.8 470.2h.01M171.0 473.1h.01M155.9 462.8h.01M172.9 473.9h.01M166.4 454.5h.01M150.3 465.3h.01M167.9 475.2h.01M173.4 471.3h.01M173.7 470.0h.01M158.4 473.4h.01M170.4 472.2h.01M148.0 469.8h.01M150.2 453.3h.01M169.1 469.7h.01M167.2 457.2h.01M157.8 471.5h.01M170.1 474.4h.01M148.2 426.8h.01M148.7 461.6h.01M174.8 439.4h.01M151.1 467.6h.01M175.8 466.6h.01M151.3 457.0h.01M150.7 439.7h.01M147.3 472.1h.01M149.3 473.6h.01M174.0 468.5h.01M169.5 455.7h.01M170.5 471.8h.01M158.9 473.0h.01M148.6 459.7h.01M167.6 465.1h.01M149.9 447.4h.01M163.5 468.0h.01M168.1 467.3h.01M158.4 472.5h.01M168.4 469.3h.01M150.5 456.7h.01M152.6 470.0h.01M160.3 474.8h.01M153.1 472.4h.01M160.9 474.9h.01M170.2 455.5h.01M149.4 472.5h.01M172.9 422.0h.01M167.9 473.4h.01M151.1 469.0h.01M171.2 463.6h.01M154.5 470.8h.01M167.9 474.5h.01M172.3 467.7h.01M171.7 468.4h.01M171.6 473.9h.01M157.0 461.8h.01M175.5 461.2h.01M174.5 474.0h.01M167.0 453.9h.01M173.2 473.5h.01M168.1 469.0h.01M174.0 467.2h.01M170.5 461.5h.01M173.2 420.6h.01M151.7 471.6h.01M151.0 466.3h.01M150.9 459.2h.01M171.8 470.8h.01M153.3 471.1h.01M170.8 461.8h.01M164.3 474.2h.01M151.7 475.0h.01M168.6 466.0h.01M159.1 468.7h.01M149.4 467.3h.01M150.5 462.3h.01M168.9 461.6h.01M171.8 473.5h.01M176.2 468.8h.01M164.7 471.2h.01M149.8 466.9h.01M146.7 467.9h.01M164.0 472.4h.01M165.6 473.7h.01M154.6 461.9h.01M175.8 467.6h.01M161.9 474.4h.01M152.4 469.2h.01M166.9 466.1h.01M167.0 455.5h.01M167.5 428.6h.01M168.8 467.6h.01M155.1 466.3h.01M167.5 474.5h.01M173.6 472.9h.01M168.6 473.3h.01M169.6 455.4h.01M152.7 472.1h.01M172.1 423.0h.01M150.2 468.7h.01M150.2 443.2h.01M171.2 415.6h.01M146.7 457.0h.01M175.8 463.0h.01M149.7 353.0h.01M148.8 466.1h.01M165.5 468.6h.01M147.3 453.7h.01M147.7 432.6h.01M169.8 474.5h.01M169.7 431.4h.01M171.5 454.3h.01M150.0 472.7h.01M152.9 472.6h.01M152.1 466.1h.01M154.9 474.7h.01M151.5 472.4h.01M149.2 469.6h.01M174.4 455.5h.01M165.1 475.1h.01M148.2 456.0h.01M171.5 474.2h.01M168.3 462.8h.01M174.4 473.1h.01M156.0 462.0h.01M157.2 465.2h.01M149.5 464.0h.01M146.9 461.3h.01M153.6 450.0h.01M153.1 472.2h.01M169.4 452.2h.01M171.1 474.5h.01M148.3 467.8h.01M148.2 474.3h.01M151.0 473.9h.01M172.7 464.2h.01M168.4 464.7h.01M153.6 463.5h.01M162.9 472.4h.01M156.0 458.6h.01M166.7 464.2h.01M172.2 455.6h.01M171.9 463.8h.01M163.0 471.3h.01M167.6 455.7h.01M172.5 470.8h.01M174.5 463.1h.01M150.5 468.9h.01M172.3 439.0h.01M163.3 470.3h.01M169.2 474.7h.01M146.7 454.6h.01M165.4 466.2h.01M156.6 469.6h.01M149.2 475.1h.01M148.5 307.4h.01M148.3 426.0h.01M170.2 455.7h.01M162.5 473.4h.01M148.9 458.3h.01M147.6 464.0h.01M151.1 450.3h.01M167.9 474.4h.01M165.7 466.1h.01M154.6 455.8h.01M170.3 469.5h.01M173.6 464.0h.01M159.2 473.8h.01M169.0 475.3h.01M162.4 472.9h.01M170.2 474.3h.01M171.1 451.2h.01M170.2 462.3h.01M155.4 460.0h.01M164.5 472.6h.01M148.1 469.6h.01M175.5 474.7h.01M151.3 450.2h.01M175.6 474.3h.01M168.5 470.5h.01M153.7 460.1h.01M155.4 475.1h.01M157.3 451.2h.01M167.3 473.1h.01M153.8 467.1h.01M172.9 462.2h.01M156.2 474.1h.01M168.7 467.1h.01M149.8 472.6h.01M170.0 466.7h.01M171.4 467.4h.01M153.7 466.2h.01M157.5 471.8h.01M151.6 424.4h.01M170.4 472.9h.01M174.4 474.9h.01M154.5 467.7h.01M164.3 471.8h.01M162.0 475.3h.01M146.9 471.7h.01M151.7 473.9h.01M148.9 473.4h.01M149.1 472.2h.01M152.2 469.2h.01M165.6 472.4h.01M152.9 465.2h.01M163.2 475.2h.01M152.4 472.1h.01M147.5 468.4h.01M154.2 470.9h.01M172.2 438.5h.01M167.2 464.5h.01M174.1 470.5h.01M174.9 471.1h.01M152.1 470.5h.01M154.1 471.8h.01M165.4 467.0h.01M172.4 453.2h.01M166.5 463.5h.01M166.5 473.1h.01M167.6 471.3h.01M166.5 470.0h.01M172.9 459.8h.01M171.1 473.0h.01M148.3 462.9h.01M173.2 475.0h.01M174.4 447.5h.01M167.7 457.0h.01M171.6 457.6h.01M148.6 474.6h.01M151.7 470.3h.01M167.1 466.5h.01M150.3 474.4h.01M167.5 473.9h.01M173.2 401.3h.01M148.9 474.7h.01M152.6 468.6h.01M168.8 475.2h.01M169.5 470.2h.01M171.6 472.4h.01M175.2 470.2h.01M150.4 396.3h.01M151.2 470.4h.01M172.4 469.1h.01M173.5 472.4h.01M165.8 458.9h.01M170.9 464.8h.01M164.9 467.5h.01M159.3 465.5h.01M158.2 473.0h.01M176.0 460.5h.01M171.6 464.0h.01M149.1 461.4h.01M151.5 463.8h.01M151.1 466.8h.01M167.3 475.0h.01M150.8 467.6h.01M166.6 472.2h.01M170.1 474.9h.01M153.2 475.0h.01M170.5 467.6h.01M164.7 469.1h.01M169.9 472.3h.01M155.8 467.1h.01M164.0 462.0h.01M149.5 464.1h.01M164.2 473.2h.01M175.7 461.2h.01M152.7 467.8h.01M170.3 441.5h.01M163.5 469.1h.01M160.5 472.2h.01M150.8 473.0h.01M149.6 443.7h.01M154.3 463.8h.01M147.7 431.9h.01M153.7 447.7h.01M150.9 440.0h.01M157.7 467.6h.01M155.0 470.2h.01M173.4 453.8h.01M170.7 448.6h.01M169.1 444.9h.01M169.7 473.4h.01M148.7 471.3h.01M150.8 452.4h.01M155.6 465.0h.01M147.9 462.7h.01M159.2 474.2h.01M173.2 467.4h.01M168.7 474.6h.01M152.0 459.6h.01M152.3 312.5h.01M156.2 469.6h.01M165.1 470.0h.01M152.9 475.3h.01M150.2 470.0h.01M161.8 474.8h.01M152.4 412.9h.01M170.4 461.4h.01M175.9 461.4h.01M153.0 470.2h.01M170.7 467.7h.01M169.9 475.3h.01M158.4 474.8h.01M153.0 474.2h.01M164.9 472.3h.01M173.5 474.8h.01M174.5 429.4h.01M173.5 466.6h.01M166.7 464.0h.01M168.9 470.4h.01M159.3 473.0h.01M171.7 456.9h.01M155.8 459.2h.01M174.0 470.6h.01M152.3 468.9h.01M168.0 454.5h.01M152.3 473.2h.01M154.7 474.2h.01M150.4 457.1h.01M174.8 473.5h.01M166.0 446.5h.01M166.3 473.5h.01M174.5 473.9h.01M165.7 463.2h.01M150.5 440.6h.01M175.7 470.7h.01M165.7 472.8h.01M175.4 443.2h.01M156.4 470.6h.01M151.0 449.8h.01M150.8 468.7h.01M154.5 300.9h.01M174.3 474.4h.01M174.0 474.8h.01M155.8 383.2h.01M170.5 457.4h.01M175.3 471.2h.01M154.3 464.0h.01M168.7 474.3h.01M166.9 474.9h.01M163.4 472.6h.01M164.9 465.1h.01M151.0 473.0h.01M152.6 398.0h.01M147.3 472.3h.01M175.2 459.2h.01M173.1 465.3h.01M170.7 461.4h.01M173.1 474.0h.01M162.9 468.2h.01M147.3 467.5h.01M175.9 473.0h.01M170.9 472.3h.01M171.4 461.2h.01M150.0 474.2h.01M159.4 463.4h.01M172.6 465.4h.01M154.6 469.9h.01M168.2 351.2h.01M154.1 472.0h.01M175.3 469.9h.01M170.9 472.9h.01M152.6 413.5h.01M152.9 468.2h.01M148.9 472.6h.01M164.3 474.0h.01M147.2 470.6h.01M167.2 449.1h.01M164.3 473.3h.01M162.2 474.6h.01M148.0 466.5h.01M151.6 470.9h.01M150.1 451.4h.01M168.1 474.5h.01M158.3 468.1h.01M168.8 464.6h.01M157.1 467.7h.01M171.0 468.3h.01M151.3 475.3h.01M170.1 473.0h.01M168.4 469.4h.01M156.4 471.6h.01M172.8 459.5h.01M157.9 473.1h.01M147.5 468.9h.01M170.1 468.7h.01M170.7 465.7h.01M174.4 468.6h.01M165.3 464.9h.01M147.7 472.3h.01M148.0 468.0h.01M154.9 471.5h.01M166.4 462.9h.01M174.1 456.8h.01M164.9 458.3h.01M173.1 470.9h.01M174.1 391.3h.01M168.7 441.8h.01M159.7 466.7h.01M158.2 466.5h.01M172.6 469.8h.01M154.0 470.7h.01M175.9 465.8h.01M158.1 469.3h.01M147.0 443.5h.01M147.1 465.4h.01M167.9 465.0h.01M163.8 469.1h.01M174.4 459.9h.01M172.0 467.8h.01M149.5 455.4h.01M165.3 471.4h.01M157.2 454.4h.01M156.3 472.0h.01M147.6 435.4h.01M162.4 472.5h.01M148.3 436.1h.01M157.8 473.9h.01M154.3 456.0h.01M152.4 473.5h.01M148.1 472.2h.01M171.7 449.2h.01M151.9 463.5h.01M149.4 464.3h.01M172.5 471.0h.01M174.3 471.3h.01M167.6 468.2h.01M175.6 473.1h.01M175.9 459.5h.01M150.4 475.2h.01M165.5 456.7h.01M154.5 468.6h.01M173.7 469.2h.01M165.7 472.3h.01M153.7 474.9h.01M154.6 462.6h.01M165.3 469.4h.01M171.0 467.4h.01M169.8 449.1h.01M174.5 450.1h.01M158.8 468.7h.01M174.9 473.9h.01M168.0 472.4h.01M150.1 472.1h.01M156.7 469.1h.01M164.2 469.3h.01M160.2 474.2h.01M167.7 459.5h.01M165.2 475.1h.01M171.6 470.7h.01M151.6 471.2h.01M174.9 475.2h.01M171.2 473.3h.01M150.1 372.2h.01M167.3 466.1h.01M162.2 475.2h.01M171.8 462.1h.01M165.6 467.9h.01M176.2 472.4h.01M150.8 472.5h.01M162.4 474.3h.01M153.8 469.8h.01M165.0 463.9h.01M162.5 470.5h.01M168.4 470.7h.01M175.3 473.4h.01M164.9 469.7h.01M176.1 452.7h.01M169.1 471.4h.01M166.6 474.7h.01M147.2 384.8h.01M167.4 469.7h.01M164.2 475.2h.01M147.3 435.7h.01M175.2 472.1h.01M173.6 466.2h.01M149.7 474.2h.01M154.0 474.7h.01M174.9 450.1h.01M153.6 461.9h.01M153.0 466.9h.01M165.1 470.7h.01M170.0 473.6h.01M150.3 470.3h.01M155.6 464.2h.01M169.1 362.5h.01M164.0 469.3h.01M170.8 454.5h.01M165.1 464.6h.01M168.5 473.7h.01M151.9 474.8h.01M164.0 467.8h.01M173.6 471.9h.01M157.6 463.2h.01M159.0 474.3h.01M172.5 455.3h.01M175.5 471.8h.01M165.7 462.8h.01M150.6 474.2h.01M169.3 471.4h.01M152.4 435.1h.01M172.1 448.9h.01M153.5 465.5h.01M168.1 472.9h.01M148.3 470.0h.01M171.0 464.9h.01M148.9 464.4h.01M159.9 472.2h.01M147.4 470.1h.01M166.8 463.8h.01M171.2 451.2h.01M158.7 467.0h.01M156.6 467.2h.01M150.9 440.8h.01M173.0 471.6h.01M173.3 472.5h.01M169.6 468.4h.01M167.6 456.9h.01M171.5 465.1h.01M170.8 332.7h.01M157.9 471.7h.01M149.7 468.9h.01M149.2 466.0h.01M169.0 438.7h.01M155.8 402.6h.01M174.0 400.2h.01M149.0 467.9h.01M159.1 469.2h.01M168.3 472.2h.01M149.0 412.4h.01M154.9 465.6h.01M173.4 475.2h.01M168.1 439.2h.01M170.4 474.2h.01M156.5 467.1h.01M172.4 475.0h.01M159.0 463.9h.01M173.0 457.7h.01M153.9 473.0h.01M150.2 462.9h.01M158.8 472.4h.01M148.8 472.9h.01M150.5 460.1h.01M162.5 474.3h.01M174.8 458.3h.01M165.1 471.8h.01M168.6 466.9h.01M154.9 469.4h.01M173.2 474.1h.01M173.1 473.2h.01M156.1 443.1h.01M148.4 467.2h.01M166.2 459.5h.01M150.4 473.9h.01M163.8 474.9h.01M171.1 440.3h.01M159.4 475.1h.01M172.2 467.8h.01M168.1 473.9h.01M151.8 464.0h.01M146.7 454.4h.01M174.2 466.5h.01M170.1 430.0h.01M169.7 462.8h.01M172.0 447.8h.01M154.4 462.0h.01M158.7 467.3h.01M171.2 405.2h.01M154.9 461.5h.01M157.4 471.8h.01M157.5 467.8h.01M158.8 471.8h.01M174.8 446.8h.01M153.6 470.1h.01M149.8 464.2h.01M149.6 475.0h.01M148.6 474.5h.01M171.8 455.5h.01M148.6 471.5h.01M158.7 474.3h.01M155.8 458.3h.01M151.2 470.5h.01M167.7 474.8h.01M158.0 474.9h.01M171.1 390.6h.01M154.5 471.1h.01M148.1 475.0h.01M154.2 472.6h.01M148.1 474.8h.01M167.4 456.6h.01M174.7 463.9h.01M148.1 423.6h.01M165.0 473.3h.01M148.5 433.6h.01M173.8 467.4h.01M173.7 468.5h.01M148.0 474.7h.01M171.6 439.1h.01M170.0 466.9h.01M153.3 443.8h.01M169.6 473.1h.01M175.4 456.0h.01M150.6 457.0h.01M148.8 457.0h.01M175.2 439.9h.01M171.8 461.8h.01M152.0 465.4h.01M156.6 466.6h.01M152.2 473.0h.01M151.4 469.3h.01M160.0 472.5h.01M160.9 473.3h.01M147.0 475.0h.01M162.8 474.1h.01M173.7 474.8h.01M171.2 474.3h.01M174.9 394.4h.01M170.4 471.3h.01M152.1 468.7h.01M165.5 474.2h.01M173.1 441.1h.01M148.0 466.0h.01M154.1 442.0h.01M175.3 469.7h.01M169.8 419.6h.01M151.0 467.9h.01M147.7 472.5h.01M174.0 472.3h.01M155.6 470.0h.01M170.5 472.7h.01M149.3 473.3h.01M176.0 472.8h.01M150.0 471.6h.01M175.2 474.0h.01M169.9 472.9h.01M171.8 462.4h.01M166.2 472.6h.01M168.3 471.4h.01M155.1 471.1h.01M175.8 469.7h.01M147.1 470.0h.01M147.5 473.9h.01M168.6 471.2h.01M147.2 466.6h.01M172.3 460.7h.01M165.2 474.3h.01M151.2 394.3h.01M164.6 467.4h.01M170.1 472.0h.01M175.6 474.5h.01M170.9 437.0h.01M154.1 463.1h.01M164.0 468.9h.01M152.3 460.3h.01M172.9 455.7h.01M147.7 474.7h.01M167.3 473.4h.01M156.8 472.8h.01M147.5 473.8h.01M168.8 306.5h.01M154.7 469.2h.01M170.0 467.2h.01M175.6 472.7h.01M151.6 468.3h.01M174.8 465.6h.01M148.0 475.3h.01M173.4 463.7h.01M173.9 461.1h.01M157.5 472.7h.01M173.8 473.9h.01M173.9 463.2h.01M152.4 311.9h.01M157.1 470.6h.01M167.9 459.7h.01M174.8 448.3h.01M149.5 448.1h.01M153.3 469.5h.01M163.8 471.8h.01M148.0 471.0h.01M160.6 472.7h.01M167.4 457.5h.01M147.9 473.9h.01M170.2 470.2h.01M154.0 462.3h.01M170.5 463.3h.01M151.5 473.6h.01M173.1 450.8h.01M152.9 475.2h.01M163.6 468.9h.01M158.5 475.0h.01M166.0 474.7h.01M153.7 472.3h.01M171.3 463.9h.01M174.0 458.0h.01M165.5 473.2h.01M158.2 468.1h.01M174.0 473.5h.01M170.9 473.5h.01M168.7 465.7h.01M168.8 420.3h.01M170.2 388.7h.01M173.6 474.5h.01M152.9 471.9h.01M161.9 475.2h.01M172.7 385.6h.01M154.3 474.6h.01M149.8 472.6h.01M165.1 462.0h.01M169.9 452.3h.01M147.6 462.8h.01M172.8 469.6h.01M151.4 475.2h.01M168.2 473.7h.01M155.8 465.2h.01M163.4 474.5h.01M156.2 474.5h.01M167.7 473.3h.01M151.9 441.4h.01M174.1 474.6h.01M168.8 472.1h.01M150.9 466.0h.01M153.3 424.0h.01M168.3 468.5h.01M175.3 473.7h.01M156.9 465.7h.01M157.5 459.6h.01M156.4 447.9h.01M162.7 469.2h.01M166.8 455.0h.01M156.5 455.5h.01M164.5 475.3h.01M154.4 471.8h.01M173.0 457.8h.01M148.8 465.6h.01M151.3 460.4h.01M165.4 460.5h.01M148.8 468.3h.01M172.6 459.0h.01M174.9 367.1h.01M173.2 469.9h.01M165.8 470.1h.01M175.8 473.7h.01M173.7 465.6h.01M167.8 468.4h.01M149.1 452.9h.01M152.6 453.7h.01M157.4 462.1h.01M171.5 471.0h.01M176.2 460.3h.01M171.9 472.1h.01M147.7 469.0h.01M165.3 472.7h.01M170.4 462.4h.01M155.8 470.7h.01M147.2 448.7h.01M157.9 470.9h.01M163.2 469.4h.01M170.9 461.2h.01M153.7 465.5h.01M166.7 464.4h.01M147.3 434.5h.01M167.5 465.1h.01M167.1 462.3h.01M150.8 470.7h.01M175.9 473.7h.01M154.4 473.6h.01M173.7 457.8h.01M159.8 472.8h.01M148.6 468.9h.01M152.0 461.4h.01M150.5 460.2h.01M170.6 455.1h.01M158.6 463.1h.01M167.8 474.6h.01M169.2 298.0h.01M158.1 474.3h.01M174.2 469.0h.01M155.4 473.3h.01M174.0 471.6h.01M149.4 465.7h.01M149.7 449.2h.01M152.9 466.1h.01M155.6 413.1h.01M174.4 453.1h.01M154.9 380.1h.01M153.4 456.5h.01M174.7 475.2h.01M149.9 473.6h.01M170.5 475.3h.01M171.3 474.6h.01M147.5 474.6h.01M174.4 426.6h.01M152.6 472.1h.01M168.2 470.1h.01M164.4 469.8h.01M174.2 467.3h.01M174.0 454.5h.01M171.8 470.6h.01M175.0 463.3h.01M160.8 475.2h.01M166.8 452.7h.01M171.3 468.2h.01M146.7 472.9h.01M175.7 309.4h.01M172.8 448.3h.01M158.9 472.5h.01M170.2 474.4h.01M150.5 451.8h.01M174.2 446.6h.01M146.9 473.6h.01M173.6 464.1h.01M153.1 472.6h.01M173.1 471.6h.01M154.8 469.0h.01M169.1 473.4h.01M151.6 454.4h.01M154.7 470.2h.01M146.9 469.7h.01M169.6 441.8h.01M171.6 472.4h.01M166.0 471.8h.01M176.2 474.2h.01M167.4 474.1h.01M171.6 464.2h.01M147.5 473.2h.01M150.7 470.8h.01M170.6 475.1h.01M159.6 473.4h.01M154.5 474.6h.01M153.5 467.9h.01M150.4 468.1h.01M169.4 472.9h.01M166.1 474.8h.01M152.2 465.0h.01M168.8 464.6h.01M148.4 449.4h.01M153.8 473.7h.01M153.6 470.5h.01M150.5 473.8h.01M152.2 466.3h.01M168.9 470.0h.01M159.2 472.2h.01M169.8 463.2h.01M147.8 441.3h.01M147.0 474.0h.01M174.3 472.6h.01M157.4 460.1h.01M148.2 473.1h.01M153.3 472.9h.01M172.2 473.4h.01M171.2 474.5h.01M169.8 468.2h.01M156.3 462.9h.01M155.5 475.0h.01M155.3 472.6h.01M173.4 467.6h.01M157.8 470.1h.01M163.3 473.1h.01M148.6 472.1h.01M151.0 471.9h.01M152.2 469.2h.01M169.4 430.3h.01M164.0 474.3h.01M173.7 351.6h.01M164.9 471.6h.01M174.4 469.5h.01M165.3 468.5h.01M171.8 462.9h.01M170.5 410.9h.01M152.7 440.5h.01M155.9 474.3h.01M163.9 461.5h.01M169.9 457.0h.01M174.5 473.5h.01M151.0 420.6h.01M164.8 475.3h.01M172.6 432.8h.01M175.5 462.0h.01M153.8 473.8h.01M169.7 469.4h.01M149.6 472.9h.01M164.7 462.1h.01M153.7 452.2h.01M154.2 468.5h.01M156.0 472.9h.01M170.5 470.5h.01M149.3 467.6h.01M170.7 447.6h.01M149.3 468.4h.01M169.8 462.5h.01M147.5 431.3h.01M170.6 374.1h.01M154.3 475.2h.01M150.7 471.5h.01M163.7 465.3h.01M147.9 457.9h.01M153.4 466.5h.01M153.3 457.0h.01M157.0 460.1h.01M159.0 472.4h.01M169.2 473.3h.01M148.8 464.9h.01M151.6 469.2h.01M175.1 471.0h.01M176.1 458.0h.01M152.9 470.4h.01M167.1 455.6h.01M175.7 446.7h.01M166.4 468.5h.01M170.5 473.2h.01M156.3 465.4h.01M148.2 475.1h.01M174.0 445.3h.01M153.0 473.4h.01M148.1 460.0h.01M173.0 453.9h.01M151.7 475.2h.01M149.2 435.9h.01M174.9 467.9h.01M154.3 470.1h.01M150.3 467.4h.01M168.0 468.4h.01M150.8 469.2h.01M170.3 470.9h.01M150.0 474.6h.01M152.7 474.5h.01M169.7 470.7h.01M159.0 471.3h.01M159.0 467.6h.01M148.0 452.6h.01M170.6 454.1h.01M147.0 468.3h.01M154.0 473.5h.01M157.6 462.9h.01M172.8 474.1h.01M155.8 472.4h.01M151.4 470.5h.01M159.4 469.5h.01M174.9 472.2h.01M156.6 463.0h.01M153.9 461.3h.01M153.8 466.1h.01M152.5 468.8h.01M147.4 467.2h.01M174.5 473.0h.01M168.5 467.5h.01M167.9 472.9h.01M150.1 474.2h.01M167.3 472.3h.01M167.7 457.3h.01M147.2 450.0h.01M148.8 437.8h.01M154.2 469.0h.01M165.3 474.0h.01M169.5 474.4h.01M168.6 472.4h.01M154.2 453.7h.01M171.2 464.9h.01M154.0 407.5h.01M166.4 472.7h.01M152.1 466.3h.01M168.1 475.0h.01M153.3 459.2h.01M171.9 473.7h.01M163.1 474.3h.01M173.4 462.8h.01M175.7 469.4h.01M147.9 474.0h.01M148.2 475.2h.01M162.5 474.6h.01M151.7 434.1h.01M166.0 457.3h.01M158.0 467.4h.01M164.7 474.3h.01M158.8 467.3h.01M175.3 472.9h.01M171.6 459.5h.01M155.8 473.0h.01M165.8 474.5h.01M160.6 472.2h.01M159.6 470.1h.01M151.2 471.6h.01M153.7 474.1h.01M155.0 465.2h.01M169.0 475.0h.01M167.8 473.9h.01M172.6 469.0h.01M171.1 462.5h.01M168.6 471.8h.01M168.3 386.8h.01M170.3 472.5h.01M174.7 465.5h.01M156.7 472.4h.01M167.5 471.2h.01M149.8 472.2h.01M157.8 470.9h.01M152.1 472.0h.01M151.6 471.6h.01M173.7 469.0h.01M175.0 466.1h.01M148.6 469.5h.01M157.8 473.4h.01M173.4 470.5h.01M151.7 470.1h.01M154.5 472.9h.01M159.7 470.8h.01M170.8 473.3h.01M154.0 469.9h.01M150.6 473.7h.01M151.6 467.0h.01M157.9 468.9h.01M150.3 468.6h.01M164.9 470.3h.01M158.7 473.7h.01M172.3 466.6h.01M175.2 467.9h.01M150.5 475.0h.01M147.4 474.5h.01M169.4 438.6h.01M163.2 475.3h.01M152.9 464.5h.01M156.4 470.5h.01M153.0 443.0h.01M166.7 460.9h.01M167.1 469.9h.01M173.0 467.2h.01M168.6 470.7h.01M152.2 457.8h.01M154.7 444.4h.01M150.9 463.2h.01M150.1 461.3h.01M154.1 459.9h.01M152.3 468.5h.01M156.2 468.4h.01M158.7 468.4h.01M157.2 466.8h.01M163.4 463.8h.01M175.0 472.6h.01M147.2 464.5h.01M165.9 464.1h.01M174.0 469.8h.01M171.2 466.6h.01M173.3 471.6h.01M151.3 461.5h.01M152.8 469.2h.01M169.3 458.0h.01M169.9 454.9h.01M174.8 468.8h.01M154.0 451.2h.01M168.6 442.2h.01M176.1 464.6h.01M155.8 468.9h.01M164.2 471.0h.01M166.1 474.6h.01M173.9 467.1h.01M173.7 465.0h.01M148.0 468.6h.01M174.9 473.6h.01M146.7 457.2h.01M167.7 469.1h.01M157.4 474.5h.01M147.1 383.4h.01M175.2 471.1h.01M170.7 458.4h.01M154.9 463.6h.01M169.4 407.6h.01M146.9 467.1h.01M172.9 443.8h.01M173.0 416.6h.01M156.0 459.6h.01M158.0 474.3h.01M170.0 459.0h.01M147.5 438.3h.01M173.9 471.8h.01M156.7 473.9h.01M157.7 458.7h.01M151.8 473.7h.01M173.1 467.3h.01M147.6 473.9h.01M151.3 471.4h.01M166.6 470.3h.01M152.3 465.8h.01M173.3 453.2h.01M166.7 460.8h.01M147.8 471.2h.01M154.6 392.1h.01M162.3 472.0h.01M154.5 457.8h.01M173.3 473.4h.01M171.9 451.3h.01M156.0 470.0h.01M168.8 458.1h.01M170.5 464.4h.01M148.8 461.2h.01M175.9 472.2h.01M150.3 464.6h.01M164.4 472.9h.01M174.9 456.6h.01M173.9 472.6h.01M172.4 474.3h.01M149.0 473.1h.01M160.3 471.4h.01M150.5 466.6h.01M170.7 456.8h.01M146.7 470.7h.01M147.2 451.8h.01M169.8 465.8h.01M174.4 464.0h.01M173.1 464.1h.01M173.2 465.6h.01M155.4 473.5h.01M149.7 462.5h.01M158.0 457.7h.01M159.1 465.0h.01M169.3 440.9h.01M166.2 470.8h.01M160.8 474.1h.01M174.9 462.4h.01M173.6 469.8h.01M148.6 441.9h.01M148.9 467.4h.01M147.3 430.4h.01M164.8 472.0h.01M151.7 449.4h.01M154.8 471.2h.01M167.8 474.2h.01M171.7 474.5h.01M155.0 471.6h.01M147.5 468.0h.01M164.0 475.0h.01M167.9 447.7h.01M174.7 473.5h.01M168.2 452.1h.01M167.7 472.2h.01M168.9 473.5h.01M172.9 466.7h.01M147.5 442.8h.01M171.8 473.2h.01M168.4 451.8h.01M174.7 455.3h.01M170.6 433.8h.01M165.5 460.8h.01M167.0 440.7h.01M147.9 430.1h.01M170.0 473.0h.01M152.9 405.6h.01M163.0 473.8h.01M175.9 466.2h.01M174.1 453.2h.01M173.3 466.0h.01M154.0 468.9h.01M165.2 473.8h.01M155.3 473.8h.01M171.8 472.0h.01M172.6 449.6h.01M158.4 468.6h.01M148.5 474.5h.01M171.4 465.2h.01M152.6 475.0h.01M150.9 466.9h.01M170.2 474.6h.01M147.2 468.6h.01M167.1 461.1h.01M172.4 470.4h.01M151.7 473.4h.01M146.9 473.9h.01M172.1 470.1h.01M155.1 456.1h.01M170.1 448.4h.01M175.0 471.0h.01M159.0 470.9h.01M148.5 429.7h.01M169.8 473.4h.01M163.2 470.8h.01M148.9 470.9h.01M157.5 471.1h.01M155.9 474.8h.01M153.3 475.2h.01M155.2 468.3h.01M175.1 397.2h.01M147.0 457.3h.01M147.6 471.5h.01M152.6 462.5h.01M173.7 465.1h.01M152.7 424.3h.01M152.8 460.2h.01M153.1 473.3h.01M168.8 472.5h.01M156.4 464.8h.01M175.0 471.5h.01M151.3 474.5h.01M154.7 467.1h.01M154.4 454.1h.01M164.6 469.7h.01M170.7 454.1h.01M167.7 469.9h.01M147.9 469.0h.01M157.5 463.1h.01M167.0 459.5h.01M172.5 456.1h.01M154.3 454.8h.01M155.4 472.3h.01M147.4 470.7h.01M170.0 430.7h.01M154.1 414.3h.01M167.2 473.8h.01M169.3 461.3h.01M152.6 463.7h.01M150.1 467.3h.01M157.3 464.4h.01M169.3 405.2h.01M147.7 465.2h.01M150.7 470.6h.01M165.5 461.7h.01M151.7 467.2h.01M148.8 472.8h.01M166.4 470.2h.01M170.0 466.8h.01M174.3 447.0h.01M166.4 473.9h.01M150.5 473.5h.01M168.4 472.8h.01M170.7 474.2h.01M150.2 449.6h.01M166.3 449.7h.01M150.9 470.1h.01M174.0 458.8h.01M168.8 448.7h.01M156.9 454.1h.01M152.5 467.4h.01M152.6 465.3h.01M153.5 467.2h.01M174.8 463.3h.01M158.4 464.5h.01M172.6 451.0h.01M174.6 456.4h.01M149.2 473.8h.01M148.8 432.0h.01M157.8 474.9h.01M165.6 471.7h.01M150.9 395.7h.01M173.4 474.3h.01M164.2 469.0h.01M168.3 417.4h.01M147.9 469.7h.01M151.9 425.2h.01M151.9 474.3h.01M147.6 473.7h.01M159.6 474.9h.01M151.3 396.7h.01M174.2 471.1h.01M166.5 463.4h.01M175.0 467.1h.01M149.8 461.0h.01M151.0 430.3h.01M173.8 472.6h.01M153.0 457.2h.01M174.6 464.6h.01M146.7 471.0h.01M151.5 463.3h.01M172.2 469.9h.01M166.3 466.5h.01M158.5 475.1h.01M154.6 472.6h.01M167.7 462.6h.01M169.0 474.1h.01M157.8 472.8h.01M173.5 304.3h.01M170.3 472.1h.01M157.4 468.9h.01M157.0 455.1h.01M151.1 456.6h.01M176.0 474.0h.01M175.8 468.9h.01M146.7 452.2h.01M153.6 464.8h.01M175.0 472.3h.01M158.0 466.7h.01M164.8 453.8h.01M158.6 470.6h.01M160.3 471.4h.01M157.4 463.2h.01M169.9 467.2h.01M148.7 468.8h.01M150.2 474.0h.01M150.5 430.1h.01M163.4 471.4h.01M172.0 464.8h.01M171.9 463.8h.01M173.7 474.9h.01M151.7 459.1h.01M167.3 472.9h.01M155.0 463.5h.01M171.7 428.1h.01M156.5 472.9h.01M146.9 443.9h.01M164.3 469.3h.01M150.4 462.9h.01M168.6 469.2h.01M169.9 455.2h.01M153.0 474.5h.01M167.0 473.4h.01M172.7 471.1h.01M150.8 450.5h.01M169.4 472.9h.01M154.3 474.2h.01M170.8 469.7h.01M172.7 474.1h.01M156.8 465.8h.01M153.7 306.2h.01M157.7 470.3h.01M171.4 411.8h.01M152.2 463.5h.01M152.3 448.8h.01M173.5 468.1h.01M150.4 460.3h.01M149.5 437.2h.01M152.7 470.7h.01M147.0 465.8h.01M162.5 473.5h.01M169.2 473.0h.01M152.7 441.8h.01M146.8 475.0h.01M167.1 472.1h.01M154.3 471.0h.01M150.0 474.6h.01M151.2 410.1h.01M158.2 472.6h.01M167.1 463.4h.01M169.6 475.1h.01M170.3 441.0h.01M170.6 474.2h.01M166.1 472.1h.01M146.9 462.9h.01M168.3 465.0h.01M171.3 423.6h.01M151.5 470.2h.01M174.6 454.7h.01M175.0 441.0h.01M151.2 453.1h.01M174.4 473.0h.01M150.6 465.6h.01M155.1 470.3h.01M153.3 470.9h.01M168.6 460.4h.01M149.2 464.7h.01M170.8 472.4h.01M170.1 472.2h.01M171.0 436.3h.01M149.6 462.3h.01M167.7 461.4h.01M156.3 475.1h.01M160.4 470.6h.01M166.5 454.9h.01M153.7 452.3h.01M156.1 475.3h.01M169.6 459.3h.01M171.6 474.0h.01M156.9 475.0h.01M156.7 464.5h.01M151.4 470.6h.01M150.2 469.3h.01M147.7 466.8h.01M169.7 471.5h.01M158.9 467.7h.01M153.8 458.2h.01M172.0 475.0h.01M154.7 473.2h.01M165.2 467.4h.01M147.2 470.0h.01M174.4 465.9h.01M155.9 466.8h.01M165.4 465.2h.01M152.5 459.1h.01M155.8 463.0h.01M170.1 470.0h.01M150.1 474.0h.01M155.7 467.9h.01M169.2 458.3h.01M172.0 459.4h.01M152.4 466.3h.01M160.2 471.3h.01M170.7 297.8h.01M157.4 465.8h.01M148.5 472.0h.01M171.7 415.8h.01M173.8 464.5h.01M166.5 471.8h.01M163.9 467.6h.01M147.9 460.0h.01M148.2 471.3h.01M151.8 467.7h.01M158.8 473.7h.01M163.4 472.5h.01M172.1 468.2h.01M170.2 470.2h.01M155.2 470.7h.01M170.8 470.9h.01M158.3 463.7h.01M157.7 474.2h.01M176.0 456.0h.01M153.4 465.0h.01M169.0 469.8h.01M146.9 474.6h.01M153.9 472.3h.01M162.6 474.7h.01M172.4 464.4h.01M153.0 470.7h.01M170.3 423.4h.01M151.7 456.7h.01M156.5 475.1h.01M172.8 467.2h.01M146.9 462.9h.01M166.1 453.0h.01M173.3 462.8h.01M174.5 473.0h.01M172.6 469.0h.01M170.6 470.9h.01M156.4 473.9h.01M154.9 473.7h.01M164.3 473.9h.01M159.0 468.2h.01M172.5 470.1h.01M158.6 470.5h.01M159.9 472.6h.01M152.9 371.8h.01M164.4 458.1h.01M171.0 473.0h.01M170.3 468.6h.01M168.8 472.1h.01M159.9 475.3h.01M169.9 472.9h.01M172.2 473.4h.01M167.3 473.4h.01M166.5 471.9h.01M170.3 452.4h.01M168.0 459.6h.01M154.8 471.0h.01M152.4 475.1h.01M159.9 471.2h.01M156.2 472.5h.01M158.7 472.1h.01M153.2 430.3h.01M173.7 474.3h.01M171.3 437.3h.01M170.3 458.9h.01M152.3 434.3h.01M175.7 451.1h.01M148.4 474.5h.01M165.8 451.9h.01M155.5 461.8h.01M151.3 400.1h.01M149.2 455.1h.01M155.2 468.5h.01M153.2 427.8h.01M164.3 473.8h.01M174.3 471.3h.01M169.1 463.8h.01M167.1 474.6h.01M151.2 385.7h.01M146.8 475.2h.01M172.7 466.7h.01M166.0 472.2h.01M157.6 472.8h.01M164.6 468.4h.01M147.5 442.8h.01M154.1 474.4h.01M149.1 396.8h.01M174.6 473.0h.01M163.1 473.7h.01M157.0 468.5h.01M154.8 475.2h.01M173.2 472.7h.01M169.0 470.2h.01M152.2 383.5h.01M155.6 445.3h.01M153.9 468.0h.01M157.1 469.7h.01M175.8 472.0h.01M174.6 473.6h.01M170.7 445.2h.01M159.6 474.3h.01M171.3 414.6h.01M175.9 463.8h.01M171.4 473.1h.01M170.5 460.2h.01M168.8 467.6h.01M155.3 455.4h.01M165.5 464.2h.01M168.8 470.1h.01M147.0 470.2h.01M147.3 469.0h.01M148.1 451.5h.01M167.9 470.1h.01M152.3 475.3h.01M157.4 470.2h.01M156.8 473.2h.01M157.1 468.1h.01M154.1 465.0h.01M164.9 459.5h.01M148.5 472.8h.01M147.6 468.9h.01M156.0 458.0h.01M168.4 460.8h.01M156.6 467.8h.01M150.3 465.9h.01M146.8 424.9h.01M175.4 465.8h.01M156.3 448.4h.01M175.7 430.1h.01M169.8 463.7h.01M155.0 447.4h.01M155.0 464.8h.01M170.1 469.7h.01M154.1 465.4h.01M149.6 422.2h.01M168.7 425.9h.01M171.2 473.6h.01M155.6 473.7h.01M148.5 468.3h.01M173.0 339.8h.01M159.4 470.4h.01M176.0 464.5h.01M157.2 471.7h.01M170.5 473.9h.01M169.8 455.0h.01M152.1 471.9h.01M164.6 472.0h.01M156.4 470.3h.01M166.3 469.2h.01M153.9 468.4h.01M168.8 462.4h.01M168.5 470.8h.01M154.5 470.6h.01M151.7 424.1h.01M149.1 471.8h.01M152.7 463.0h.01M152.0 474.9h.01M170.7 470.7h.01M151.7 461.7h.01M174.9 468.7h.01M147.3 463.2h.01M168.5 426.0h.01M152.7 452.6h.01M146.8 469.7h.01M166.2 468.2h.01M153.0 470.1h.01M167.9 471.5h.01M171.4 468.2h.01M174.5 395.8h.01M151.2 472.1h.01M169.2 441.4h.01M171.4 474.1h.01M149.2 442.1h.01M159.1 474.3h.01M151.4 469.1h.01M168.1 439.2h.01M168.4 472.7h.01M167.5 473.2h.01M158.7 475.1h.01M172.0 471.1h.01M172.3 468.7h.01M172.2 462.7h.01M173.4 432.5h.01M150.3 469.6h.01M170.2 474.5h.01M176.0 328.3h.01M151.8 471.0h.01M170.6 466.7h.01M173.4 467.6h.01M169.9 415.1h.01M147.2 462.2h.01M151.5 469.2h.01M155.4 472.9h.01M170.2 435.0h.01M154.8 466.4h.01M146.8 467.6h.01M155.3 469.8h.01M158.5 471.8h.01M148.3 471.3h.01M157.1 466.4h.01M155.7 474.7h.01M171.5 437.7h.01M157.4 467.9h.01M156.4 460.2h.01M148.6 474.5h.01M175.6 461.2h.01M165.1 452.6h.01M168.6 468.6h.01M148.4 468.1h.01M156.3 473.5h.01M163.9 464.7h.01M174.8 458.5h.01M149.3 463.6h.01M168.4 430.0h.01M149.7 467.0h.01M151.3 386.3h.01M172.0 454.9h.01M164.8 472.4h.01M167.1 474.6h.01M175.7 468.4h.01M153.7 469.5h.01M155.0 474.9h.01M174.5 466.1h.01M151.6 468.5h.01M169.6 472.5h.01M160.0 472.8h.01M172.7 466.7h.01M156.8 474.6h.01M167.8 467.1h.01M166.4 470.0h.01M154.3 470.0h.01M148.4 474.1h.01M170.6 469.2h.01M173.9 466.0h.01M175.7 460.7h.01M172.5 472.9h.01M165.1 468.6h.01M165.5 474.2h.01M162.7 473.2h.01M174.9 400.5h.01M166.5 460.4h.01M173.9 470.2h.01M166.6 465.5h.01M147.5 381.6h.01M165.3 458.2h.01M149.7 473.2h.01M175.7 358.8h.01M152.1 451.8h.01M155.2 467.8h.01M151.5 465.1h.01M147.4 465.8h.01M165.0 468.2h.01M150.9 471.8h.01M153.7 463.4h.01M174.9 467.7h.01M157.7 469.6h.01M149.4 463.4h.01M151.6 457.4h.01M171.3 471.9h.01M169.6 473.2h.01M154.7 473.2h.01M155.6 458.2h.01M151.1 473.2h.01M151.4 423.8h.01M147.6 471.8h.01M167.5 452.6h.01M158.5 465.1h.01M150.6 467.4h.01M174.0 463.8h.01M150.9 465.7h.01M169.0 474.7h.01M159.6 474.8h.01M165.2 461.9h.01M169.1 469.1h.01M175.0 469.8h.01M157.2 467.8h.01M150.2 464.7h.01M173.2 474.1h.01M173.7 474.7h.01M172.5 470.0h.01M150.6 452.7h.01M172.2 473.1h.01M153.7 474.8h.01M172.7 432.1h.01M175.0 461.5h.01M148.9 464.9h.01M164.6 466.9h.01M167.3 473.5h.01M155.4 464.4h.01M160.8 474.1h.01M165.4 454.6h.01M168.8 470.4h.01M156.6 468.9h.01M176.1 464.3h.01M166.9 469.3h.01M167.6 467.3h.01M163.2 468.8h.01M172.4 469.6h.01M146.8 439.3h.01M148.9 450.7h.01M175.0 434.4h.01M164.5 463.6h.01M167.9 442.4h.01M170.5 411.7h.01M151.3 363.7h.01M168.4 439.7h.01M158.9 465.4h.01M170.2 468.8h.01M176.1 470.3h.01M169.3 463.3h.01M156.6 463.5h.01M165.5 475.1h.01M167.5 453.5h.01M163.9 463.8h.01M173.5 439.6h.01M172.4 472.3h.01M147.0 463.8h.01M168.7 464.6h.01M165.7 460.8h.01M157.8 467.0h.01M169.5 471.7h.01M149.4 466.2h.01M168.4 375.7h.01M148.1 432.9h.01M157.3 472.1h.01M165.7 454.3h.01M158.5 473.5h.01M171.8 471.5h.01M168.0 391.1h.01M171.8 446.1h.01M175.6 469.4h.01M169.9 461.4h.01M175.5 472.4h.01M156.4 469.2h.01M150.2 465.3h.01M175.7 473.6h.01M155.5 464.6h.01M175.1 467.8h.01M174.8 474.4h.01M175.0 466.4h.01M168.6 469.5h.01M160.6 475.0h.01M166.4 474.0h.01M169.0 465.9h.01M155.5 469.8h.01M150.3 465.6h.01M149.6 435.7h.01M166.2 467.6h.01M153.3 468.4h.01M148.4 471.0h.01M171.9 467.2h.01M150.0 474.8h.01M174.0 473.8h.01M170.3 469.6h.01M150.0 464.6h.01M150.2 432.5h.01M165.3 473.3h.01M166.2 451.3h.01M171.5 448.7h.01M173.8 471.0h.01M148.1 462.7h.01M149.4 470.5h.01M153.6 469.2h.01M149.2 435.7h.01M170.8 445.2h.01M149.3 474.2h.01M168.3 462.8h.01M152.6 449.4h.01M149.5 455.1h.01M174.7 474.4h.01M173.7 474.0h.01M167.1 451.8h.01M164.3 473.2h.01M168.2 447.2h.01M156.2 473.4h.01M165.7 461.2h.01M147.3 457.9h.01M153.3 474.2h.01M165.5 455.9h.01M155.1 473.2h.01M171.5 409.4h.01M173.0 469.4h.01M149.5 474.1h.01M157.7 469.7h.01M155.4 468.6h.01M148.0 463.0h.01M154.0 471.2h.01M172.1 447.2h.01M146.9 459.5h.01M168.6 471.3h.01M158.7 467.1h.01M170.1 473.0h.01M167.9 454.3h.01M153.1 419.1h.01M156.0 473.2h.01M168.5 470.9h.01M164.8 473.9h.01M173.6 473.3h.01M160.2 469.4h.01M147.6 471.3h.01M151.0 463.0h.01M154.4 450.4h.01M162.1 473.1h.01M166.8 466.2h.01M175.3 468.4h.01M167.8 470.0h.01M155.5 474.5h.01M158.9 473.1h.01M150.8 469.6h.01M156.4 473.4h.01M167.0 470.4h.01M158.5 464.7h.01M157.3 465.1h.01M164.8 473.0h.01M146.8 471.3h.01M152.1 466.7h.01M147.3 470.4h.01M167.6 466.1h.01M152.7 462.3h.01M147.5 439.9h.01M150.1 472.5h.01M172.6 436.6h.01M172.4 459.1h.01M162.9 474.1h.01M175.9 442.4h.01M147.2 459.7h.01M150.5 473.8h.01M153.7 459.2h.01M167.8 464.8h.01M167.1 468.4h.01M157.8 471.9h.01M160.0 472.4h.01M160.3 470.5h.01M170.1 460.0h.01M152.9 464.9h.01M156.7 471.9h.01M169.1 473.7h.01M176.1 461.0h.01M156.4 474.4h.01M147.3 328.0h.01M156.7 473.7h.01M169.9 473.1h.01M171.3 471.5h.01M164.6 469.8h.01M174.4 469.9h.01M156.7 462.4h.01M167.7 469.2h.01M172.2 440.0h.01M174.7 470.3h.01M148.1 442.7h.01M154.5 464.4h.01M171.2 473.6h.01M166.2 472.8h.01M154.4 466.8h.01M167.6 469.4h.01M152.5 467.5h.01M168.6 470.2h.01M146.8 462.7h.01M155.6 473.4h.01M148.4 470.5h.01M147.4 465.4h.01M148.0 458.0h.01M147.1 462.9h.01M174.8 449.3h.01M154.4 473.0h.01M151.4 461.4h.01M149.2 464.8h.01M153.5 468.5h.01M149.2 452.5h.01M149.6 465.4h.01M151.7 473.7h.01M156.8 468.6h.01M154.1 461.8h.01M148.0 453.0h.01M155.1 471.1h.01M170.3 474.0h.01M164.8 474.1h.01M171.8 443.2h.01M175.1 472.6h.01M171.8 475.3h.01M174.8 470.7h.01M174.4 459.5h.01M168.9 469.8h.01M164.8 470.7h.01M174.2 467.0h.01M147.5 472.8h.01M172.2 467.7h.01M166.6 472.1h.01M173.2 469.6h.01M171.6 309.0h.01M165.5 466.9h.01M154.5 466.6h.01M150.5 472.0h.01M170.3 474.3h.01M152.8 475.0h.01M157.6 474.1h.01M153.4 471.2h.01M153.3 348.2h.01M171.5 463.6h.01M169.8 474.1h.01M165.9 453.4h.01M152.3 458.7h.01M167.2 457.7h.01M149.7 466.2h.01M175.3 472.2h.01M171.2 474.2h.01M172.0 464.1h.01M157.7 469.9h.01M156.1 464.3h.01M165.0 465.3h.01M148.5 474.9h.01M175.8 471.8h.01M147.7 470.0h.01M150.2 452.7h.01M172.1 471.4h.01M171.1 475.1h.01M175.1 472.8h.01M173.6 473.5h.01M170.5 463.5h.01M169.4 473.7h.01M149.1 459.3h.01M165.5 472.1h.01M171.1 475.1h.01M154.9 472.1h.01M151.1 474.0h.01M154.8 472.3h.01M156.8 471.4h.01M174.9 435.4h.01M152.9 473.4h.01M173.4 445.5h.01M171.0 468.1h.01M148.4 469.0h.01M149.3 462.8h.01M175.9 471.2h.01M172.2 474.1h.01M173.8 469.6h.01M174.8 468.3h.01M172.7 451.9h.01M175.9 471.7h.01M158.9 475.1h.01M164.1 475.2h.01M152.5 460.1h.01M149.9 470.1h.01M150.4 455.4h.01M175.1 473.4h.01M172.0 464.3h.01M170.4 439.6h.01M156.9 473.3h.01M146.9 474.5h.01M171.7 471.3h.01M163.7 463.2h.01M154.3 461.5h.01M172.0 375.9h.01M168.6 472.5h.01M176.0 430.9h.01M156.0 472.1h.01M167.0 471.1h.01M162.5 471.0h.01M172.5 473.8h.01M168.8 471.6h.01M159.3 469.8h.01M151.6 472.4h.01M165.3 474.0h.01M164.7 474.5h.01M173.8 473.3h.01M163.4 467.0h.01M175.8 448.8h.01M148.1 470.6h.01M156.7 469.9h.01M156.1 465.3h.01M153.6 473.9h.01M164.1 466.0h.01M149.1 475.0h.01M170.4 468.1h.01M148.6 467.6h.01M174.0 473.3h.01M151.6 474.2h.01M150.3 474.9h.01M146.7 437.1h.01M156.4 474.7h.01M156.1 468.7h.01M152.7 464.9h.01M156.0 456.9h.01M151.2 475.0h.01M147.6 472.5h.01M171.9 462.6h.01M168.2 461.1h.01M151.9 473.0h.01M150.6 456.6h.01M164.5 460.5h.01M173.1 467.5h.01M153.4 442.2h.01M152.8 407.4h.01M156.4 453.8h.01M173.7 469.2h.01M173.2 469.5h.01M165.5 472.9h.01M168.2 474.5h.01M173.1 468.2h.01M169.3 473.1h.01M150.0 453.1h.01M153.7 468.5h.01M174.0 460.5h.01M149.4 471.9h.01M150.2 474.0h.01M165.6 463.6h.01M152.4 459.9h.01M151.3 460.5h.01M158.0 460.9h.01M151.0 458.2h.01M149.0 466.3h.01M151.7 468.2h.01M175.6 463.9h.01M166.2 473.9h.01M149.7 466.5h.01M149.7 465.0h.01M149.6 469.1h.01M153.4 469.5h.01M151.5 467.1h.01M174.8 411.0h.01M176.2 461.1h.01M154.7 470.3h.01M169.6 444.1h.01M164.7 475.0h.01M166.4 472.9h.01M166.4 473.4h.01M167.9 471.9h.01M156.1 472.8h.01M166.3 459.7h.01M170.9 472.8h.01M171.1 471.3h.01M169.4 450.0h.01M172.3 474.7h.01M156.3 473.1h.01M172.2 322.4h.01M164.0 473.5h.01M154.7 304.1h.01M172.0 447.7h.01M173.8 472.0h.01M176.0 475.2h.01M159.4 474.5h.01M159.4 467.7h.01M153.7 465.0h.01M151.0 475.1h.01M147.8 473.5h.01M168.6 471.0h.01M173.1 407.4h.01M164.5 460.6h.01M155.9 463.4h.01M147.9 474.0h.01M155.9 470.6h.01M174.8 471.3h.01M156.9 467.7h.01M154.6 452.2h.01M169.6 453.1h.01M154.8 471.3h.01M169.4 466.1h.01M170.1 463.2h.01M171.8 463.6h.01M155.0 462.6h.01M152.7 474.1h.01M152.6 474.9h.01M149.7 469.6h.01M176.0 474.1h.01M170.3 472.5h.01M174.6 459.6h.01M148.3 472.4h.01M171.1 465.3h.01M147.2 474.5h.01M164.9 464.6h.01M156.4 475.0h.01M149.6 465.3h.01M164.2 470.1h.01M155.8 455.4h.01M159.8 474.6h.01M175.0 460.6h.01M168.7 470.4h.01M156.8 473.3h.01M174.4 472.1h.01M150.7 472.4h.01M166.1 472.9h.01M157.1 470.2h.01M172.9 467.8h.01M147.0 465.5h.01M155.4 457.3h.01M159.7 467.8h.01M175.3 468.1h.01M171.9 471.0h.01M158.4 472.8h.01M165.0 473.6h.01M166.3 475.1h.01M157.6 472.6h.01M173.8 472.5h.01M176.1 437.5h.01M153.6 465.3h.01M166.4 469.4h.01M152.9 440.6h.01M175.2 472.4h.01M151.1 475.0h.01M147.7 471.2h.01M149.8 473.3h.01M156.7 474.0h.01M154.2 443.6h.01M149.2 469.0h.01M174.9 472.3h.01M159.2 473.1h.01M156.7 473.4h.01M155.7 472.3h.01M173.1 452.8h.01M156.8 470.2h.01M153.8 475.0h.01M170.3 465.1h.01M148.3 474.0h.01M159.1 463.9h.01M150.6 435.5h.01M170.4 465.4h.01M168.0 473.4h.01M167.8 434.2h.01M151.6 433.8h.01M150.4 474.8h.01M146.8 474.5h.01M175.9 441.6h.01M175.2 471.3h.01M174.7 474.8h.01M165.6 457.9h.01M147.8 472.4h.01M155.7 463.0h.01M148.6 466.1h.01M173.1 469.0h.01M148.8 472.8h.01M170.1 465.9h.01M154.5 474.9h.01M151.1 459.0h.01M148.3 467.0h.01M150.2 453.4h.01M153.4 471.6h.01M156.6 462.0h.01M170.3 472.5h.01M176.0 474.2h.01M152.7 398.7h.01M149.7 473.8h.01M149.0 467.2h.01M147.2 474.3h.01M149.0 467.1h.01M171.3 473.7h.01M152.4 462.1h.01M153.0 458.7h.01M171.9 462.8h.01M152.8 423.5h.01M151.9 384.2h.01M148.0 455.2h.01M158.6 468.8h.01M175.3 473.4h.01M172.9 467.1h.01M159.3 467.3h.01M170.7 458.0h.01M154.1 474.1h.01M171.6 469.5h.01M154.5 474.0h.01M146.9 474.2h.01M169.0 473.4h.01M159.9 471.1h.01M156.5 474.7h.01M156.4 471.9h.01M163.9 473.4h.01M159.5 472.2h.01M174.6 457.3h.01M160.0 474.0h.01M159.3 472.8h.01M159.3 472.4h.01M171.8 468.6h.01M169.1 472.5h.01M168.7 469.7h.01M173.4 469.5h.01M170.0 465.8h.01M153.0 458.4h.01M148.8 420.0h.01M169.5 449.7h.01M166.3 471.1h.01M174.9 455.1h.01M163.4 468.1h.01M151.3 471.0h.01M158.2 462.4h.01M164.2 472.8h.01M165.5 474.9h.01M166.3 470.0h.01M151.8 470.2h.01M151.1 462.9h.01M175.5 473.0h.01M173.6 465.8h.01M160.5 473.5h.01M154.6 473.8h.01M173.1 470.0h.01M176.1 462.5h.01M152.6 450.6h.01M165.5 455.2h.01M156.6 460.5h.01M173.1 470.2h.01M149.6 472.4h.01M151.8 464.7h.01M150.2 454.1h.01M174.6 440.4h.01M171.3 455.8h.01M167.2 467.1h.01M149.5 361.8h.01M158.0 465.4h.01M150.4 473.0h.01M154.6 474.7h.01M168.9 469.8h.01M151.7 473.5h.01M149.8 456.4h.01M167.6 475.2h.01M175.0 464.7h.01M175.7 456.0h.01M147.1 458.1h.01M147.6 474.7h.01M150.9 436.3h.01M166.7 468.1h.01M174.8 446.5h.01M170.9 463.3h.01M152.7 404.7h.01M170.1 470.1h.01M171.1 440.4h.01M153.9 474.5h.01M147.2 462.8h.01M169.4 475.3h.01M155.4 474.0h.01M173.0 473.3h.01M148.4 465.2h.01M150.4 468.7h.01M163.6 471.2h.01M167.7 469.2h.01M147.3 404.5h.01M151.8 470.6h.01M163.3 474.3h.01M172.4 471.0h.01M150.2 464.5h.01M168.8 445.4h.01M172.6 472.6h.01M165.4 474.9h.01M147.2 471.4h.01M151.0 465.5h.01M157.9 471.0h.01M170.1 475.0h.01M174.6 460.7h.01M165.4 469.4h.01M174.6 468.2h.01M174.8 465.8h.01M159.1 474.0h.01M148.6 474.0h.01M159.6 468.0h.01M151.6 472.7h.01M171.4 460.4h.01M175.7 466.8h.01M170.8 475.2h.01M168.8 474.4h.01M166.5 464.2h.01M172.7 470.6h.01M174.5 473.6h.01M167.9 469.1h.01M147.2 461.9h.01M174.0 471.7h.01M168.4 472.4h.01M165.6 472.8h.01M151.3 417.8h.01M170.1 473.6h.01M159.0 472.5h.01M147.3 472.2h.01M168.7 465.6h.01M156.5 467.7h.01M171.5 467.6h.01M148.8 318.6h.01M158.4 473.8h.01M167.6 474.9h.01M168.2 474.0h.01M148.5 464.3h.01M155.4 463.6h.01M155.2 471.3h.01M166.5 464.3h.01M169.6 473.0h.01M154.4 469.7h.01M172.6 467.1h.01M155.3 473.7h.01M153.1 422.1h.01M164.1 474.9h.01M173.3 447.7h.01M168.8 435.2h.01M165.4 469.3h.01M149.6 450.8h.01M149.5 461.3h.01M164.3 463.2h.01M164.2 470.5h.01M156.2 470.0h.01M155.7 475.1h.01M152.9 469.7h.01M158.3 474.5h.01M147.7 474.5h.01M156.1 461.2h.01M175.1 456.9h.01M167.8 460.0h.01M152.2 473.2h.01M169.3 468.2h.01M153.3 431.8h.01M164.1 472.5h.01M153.6 468.6h.01M169.2 465.9h.01M163.4 468.3h.01M167.5 474.3h.01M163.4 468.7h.01M163.6 471.0h.01M172.9 471.6h.01M147.8 466.0h.01M167.1 458.0h.01M169.3 468.7h.01M175.3 456.7h.01M168.7 455.2h.01M157.6 469.8h.01M172.3 473.5h.01M154.9 454.0h.01M150.7 432.1h.01M169.8 442.4h.01M151.6 431.0h.01M154.2 443.3h.01M165.4 454.0h.01M155.0 473.9h.01M174.6 471.6h.01M149.7 449.3h.01M174.8 465.5h.01M154.8 463.3h.01M155.4 437.8h.01M165.9 470.0h.01M166.8 471.9h.01M175.1 450.9h.01M175.2 467.8h.01M156.9 473.1h.01M156.7 472.2h.01M171.0 441.8h.01M152.8 438.1h.01M149.0 475.1h.01M173.9 434.1h.01M175.6 452.3h.01M168.7 470.6h.01M146.7 469.2h.01M169.0 466.1h.01M166.4 469.4h.01M148.8 466.9h.01M172.4 467.2h.01M154.0 472.7h.01M171.5 470.2h.01M163.4 469.1h.01M151.4 453.5h.01M162.1 473.9h.01M152.8 471.3h.01M147.9 439.9h.01M155.8 449.1h.01M156.2 473.9h.01M155.7 473.1h.01M166.8 450.3h.01M171.1 459.5h.01M173.8 473.0h.01M171.0 474.7h.01M159.4 474.7h.01M153.2 440.7h.01M153.6 471.9h.01M149.8 464.2h.01M151.5 338.3h.01M176.2 465.6h.01M169.7 472.5h.01M146.7 446.8h.01M149.1 472.7h.01M165.0 474.3h.01M174.9 474.6h.01M168.5 474.4h.01M175.5 475.0h.01M154.6 471.3h.01M149.6 474.5h.01M148.9 343.8h.01M156.6 472.9h.01M158.7 467.1h.01M158.3 474.8h.01M168.8 466.5h.01M147.8 470.2h.01M151.7 457.0h.01M147.7 473.4h.01M174.4 465.9h.01M147.9 469.9h.01M170.7 472.1h.01M151.0 468.3h.01M150.9 467.2h.01M147.2 471.6h.01M148.4 465.2h.01M171.5 464.4h.01M171.9 461.7h.01M172.4 446.3h.01M150.8 474.0h.01M174.1 472.6h.01M160.4 473.0h.01M171.9 464.1h.01M150.5 469.6h.01M156.5 457.3h.01M166.8 458.2h.01M149.9 464.4h.01M154.9 468.4h.01M172.8 474.1h.01M146.8 443.0h.01M148.7 374.3h.01M152.6 473.8h.01M158.0 464.3h.01M148.5 458.4h.01M150.5 472.6h.01M170.2 434.7h.01M174.3 472.0h.01M148.8 467.3h.01M148.7 473.3h.01M151.6 320.7h.01M149.6 456.9h.01M171.1 471.4h.01M156.6 473.1h.01M168.1 454.2h.01M166.7 472.0h.01M160.8 472.8h.01M158.8 467.3h.01M172.3 474.1h.01M147.6 469.2h.01M175.1 463.5h.01M148.6 473.1h.01M155.9 473.8h.01M156.7 470.6h.01M168.4 473.0h.01M150.6 465.3h.01M148.0 475.2h.01M169.1 473.0h.01M148.1 475.3h.01M148.4 473.9h.01M154.3 469.4h.01M158.2 470.3h.01M171.3 475.3h.01M154.8 474.5h.01M147.8 469.2h.01M153.1 471.8h.01M172.9 297.3h.01M149.8 404.1h.01M155.2 467.5h.01M165.4 474.5h.01M151.6 457.9h.01M158.5 469.7h.01M172.8 425.0h.01M170.5 471.4h.01M175.4 466.9h.01M163.2 469.9h.01M156.7 471.6h.01M166.5 467.5h.01M147.6 464.9h.01M170.6 460.7h.01M175.7 471.7h.01M151.5 452.6h.01M165.7 472.4h.01M159.8 474.0h.01M171.7 470.4h.01M175.3 472.7h.01M152.3 456.5h.01M175.5 471.8h.01M171.6 427.0h.01M161.7 475.2h.01M175.0 473.6h.01M168.8 473.7h.01M154.4 465.2h.01M146.7 468.4h.01M168.9 471.8h.01M166.7 456.9h.01M167.7 472.9h.01M151.3 453.9h.01M147.2 452.0h.01M148.8 470.5h.01M152.0 440.7h.01M147.7 473.9h.01M172.0 462.8h.01M156.5 471.1h.01M154.7 448.7h.01M163.5 471.0h.01M165.5 471.6h.01M167.1 455.6h.01M166.0 463.7h.01M170.0 371.0h.01M170.6 442.6h.01M164.0 464.2h.01M166.4 469.2h.01M172.2 451.1h.01M169.3 474.8h.01M172.0 458.7h.01M171.7 472.5h.01M150.3 470.1h.01M165.5 468.7h.01M150.3 473.6h.01M149.2 475.2h.01M173.0 457.6h.01M170.2 468.4h.01M163.9 473.7h.01M156.2 462.9h.01M153.6 473.0h.01M155.7 474.2h.01M154.3 468.7h.01M154.7 454.9h.01M170.5 457.7h.01M149.0 465.3h.01M163.3 474.9h.01M176.0 452.4h.01M153.3 425.7h.01M148.5 461.2h.01M156.7 468.6h.01M156.0 468.0h.01M174.9 466.8h.01M147.1 392.4h.01M170.7 469.0h.01M149.8 467.3h.01M168.5 451.8h.01M165.7 456.7h.01M168.0 465.5h.01M166.7 474.5h.01M167.7 467.8h.01M171.9 466.5h.01M157.3 471.0h.01M169.8 454.8h.01M151.8 465.7h.01M146.9 400.3h.01M152.4 472.2h.01M150.7 475.1h.01M169.7 470.5h.01M173.4 475.2h.01M159.0 465.4h.01M168.5 470.2h.01M167.8 455.8h.01M154.9 469.8h.01M167.4 467.8h.01M173.9 341.3h.01M151.2 462.6h.01M173.0 448.2h.01M154.3 474.1h.01M164.9 473.6h.01M157.2 472.7h.01M150.0 423.3h.01M169.0 445.0h.01M171.5 434.6h.01M175.5 460.4h.01M167.1 470.7h.01M158.9 472.1h.01M147.1 463.0h.01M148.9 466.8h.01M163.7 474.3h.01M148.1 474.1h.01M152.0 474.3h.01M158.0 474.7h.01M173.0 470.9h.01M153.1 459.8h.01M175.3 471.6h.01M175.8 462.8h.01M164.1 467.8h.01M148.5 473.2h.01M157.5 456.2h.01M174.9 473.3h.01M153.2 471.3h.01M165.8 457.9h.01M170.1 451.0h.01M155.3 470.3h.01M172.4 469.5h.01M172.9 461.0h.01M155.2 473.6h.01M173.8 407.9h.01M163.6 464.5h.01M168.2 454.5h.01M165.0 467.1h.01M164.9 471.9h.01M156.3 474.0h.01M157.6 471.6h.01M169.6 475.1h.01M147.1 460.4h.01M147.6 474.5h.01M149.4 461.3h.01M149.0 465.4h.01M156.4 457.0h.01M159.5 473.8h.01M171.7 474.5h.01M153.6 465.5h.01M166.7 457.3h.01M158.8 469.4h.01M167.6 467.6h.01M152.6 455.0h.01M166.0 445.4h.01M168.1 474.6h.01M169.3 368.6h.01M148.3 471.3h.01M149.7 461.7h.01M157.8 475.2h.01M158.1 469.7h.01M173.5 469.5h.01M173.5 461.3h.01M175.9 473.3h.01M165.9 461.2h.01M172.5 440.4h.01M174.1 468.4h.01M168.7 474.5h.01M155.9 464.5h.01M164.2 472.9h.01M167.7 463.9h.01M154.6 468.2h.01M171.7 472.3h.01M166.2 452.1h.01M149.7 469.5h.01M163.8 475.3h.01M167.4 463.7h.01M153.6 469.6h.01M156.6 449.9h.01M168.5 464.8h.01M175.6 475.2h.01M175.6 468.2h.01M173.9 468.8h.01M156.1 473.4h.01M169.9 475.0h.01M149.0 470.3h.01M160.4 470.5h.01M151.7 391.4h.01M169.8 475.0h.01M151.5 472.3h.01M166.2 471.1h.01M167.7 470.2h.01M176.2 465.5h.01M163.7 470.4h.01M148.8 467.3h.01M150.6 447.6h.01M176.1 457.3h.01M152.2 473.7h.01M168.6 470.4h.01M175.8 471.5h.01M171.0 471.6h.01M151.6 467.8h.01M174.0 473.1h.01M167.2 475.0h.01M151.7 470.1h.01M149.4 471.4h.01M157.2 472.8h.01M166.7 467.9h.01M148.9 443.0h.01M174.6 461.6h.01M150.2 465.5h.01M171.8 469.8h.01M164.3 473.4h.01M148.7 474.6h.01M176.1 444.3h.01M148.0 463.4h.01M170.7 464.2h.01M165.4 463.1h.01M168.8 473.5h.01M147.7 471.9h.01M172.1 471.2h.01M158.4 473.5h.01M147.3 467.1h.01M151.1 472.5h.01M148.9 446.3h.01M164.0 472.7h.01M171.0 473.4h.01M149.3 471.8h.01M169.8 375.9h.01M156.7 474.4h.01M147.7 432.0h.01M152.5 468.1h.01M148.3 388.9h.01M173.8 456.3h.01M152.6 469.2h.01M153.5 463.4h.01M173.3 464.2h.01M168.6 466.0h.01M150.3 460.6h.01M164.6 466.8h.01M150.1 474.9h.01M149.7 471.5h.01M174.1 470.1h.01M153.4 475.1h.01M174.2 461.2h.01M157.4 474.0h.01M160.6 473.0h.01M148.0 468.2h.01M164.5 470.5h.01M157.3 474.5h.01M156.1 471.2h.01M159.1 463.5h.01M157.2 474.3h.01M154.6 472.9h.01M156.4 462.5h.01M147.5 453.3h.01M162.9 474.0h.01M167.4 466.3h.01M168.3 450.4h.01M151.6 453.3h.01M159.1 472.0h.01M172.5 397.8h.01M154.5 447.7h.01M148.7 436.8h.01M171.2 370.5h.01M153.7 457.9h.01M174.4 471.2h.01M164.5 474.7h.01M150.3 391.5h.01M150.1 471.9h.01M153.5 473.2h.01M146.7 472.9h.01M146.7 461.3h.01M167.4 422.8h.01M147.1 395.2h.01M175.2 438.2h.01M157.6 462.7h.01M149.7 470.3h.01M155.6 473.5h.01M156.9 474.9h.01M170.3 470.9h.01M163.7 471.8h.01M148.8 456.2h.01M147.1 467.7h.01M155.4 465.9h.01M176.1 460.4h.01M147.5 475.2h.01M153.8 470.3h.01M153.7 472.5h.01M173.5 420.9h.01M158.0 463.1h.01M156.6 467.1h.01M152.3 471.5h.01M155.4 473.9h.01M151.3 447.4h.01M165.2 471.0h.01M147.3 474.1h.01M168.4 475.1h.01M152.9 428.9h.01M162.7 474.0h.01M151.9 469.7h.01M153.1 458.0h.01M172.4 466.4h.01M150.7 473.6h.01M154.5 437.1h.01M168.7 425.6h.01M169.3 469.3h.01M153.0 454.7h.01M168.4 474.1h.01M150.8 402.9h.01M152.9 459.8h.01M174.6 455.0h.01M152.1 474.0h.01M169.7 440.0h.01M168.4 471.7h.01M156.3 465.7h.01M170.5 473.5h.01M148.3 472.5h.01M171.6 473.1h.01M147.6 470.6h.01M173.1 472.1h.01M151.2 459.5h.01M148.9 474.0h.01M150.7 466.1h.01M167.6 411.0h.01M150.7 462.5h.01M174.1 444.1h.01M149.3 464.6h.01M166.4 474.6h.01M166.4 461.1h.01M161.8 473.9h.01M166.4 468.2h.01M165.6 469.7h.01M155.9 469.5h.01M159.5 474.7h.01M158.0 473.9h.01M164.0 474.1h.01M167.7 459.2h.01M152.9 453.9h.01M148.9 468.0h.01M175.3 456.9h.01M171.3 464.7h.01M170.2 467.8h.01M169.4 473.3h.01M175.5 474.2h.01M147.5 417.7h.01M151.3 471.0h.01M167.5 472.6h.01M174.3 468.7h.01M147.1 407.9h.01M170.0 466.7h.01M165.5 471.1h.01M169.2 475.2h.01M169.6 450.7h.01M159.7 473.8h.01M171.4 474.9h.01M151.2 463.0h.01M171.4 463.8h.01M159.4 474.1h.01M171.8 474.7h.01M154.1 470.6h.01M155.2 468.2h.01M155.8 474.3h.01M153.9 472.7h.01M152.3 466.8h.01M149.0 465.2h.01M172.7 445.6h.01M160.2 472.6h.01M154.3 475.1h.01M150.5 474.8h.01M154.3 466.7h.01M159.7 471.2h.01M175.6 471.5h.01M170.8 461.9h.01M169.8 321.6h.01M175.4 474.2h.01M162.9 473.4h.01M163.4 472.8h.01M166.1 462.5h.01M168.0 450.5h.01M151.8 470.5h.01M175.5 460.1h.01M167.7 473.0h.01M175.3 462.2h.01M170.1 438.4h.01M151.9 417.1h.01M171.5 454.6h.01M147.9 422.8h.01M150.8 473.2h.01M168.2 470.1h.01M152.6 416.2h.01M167.2 474.8h.01M147.9 454.6h.01M167.4 469.2h.01M164.7 474.3h.01M168.1 457.6h.01M171.3 413.0h.01M147.2 471.0h.01M152.6 462.2h.01M175.1 444.9h.01M147.9 467.3h.01M152.2 474.2h.01M174.0 301.3h.01M163.9 475.1h.01M153.0 453.8h.01M158.6 470.5h.01M163.9 473.1h.01M169.7 469.3h.01M148.7 469.2h.01M157.8 463.3h.01M159.6 469.5h.01M148.5 464.4h.01M168.6 475.3h.01M158.2 469.5h.01M147.8 461.6h.01M170.3 473.6h.01M149.7 469.9h.01M175.6 408.1h.01M165.0 468.0h.01M158.0 471.6h.01M175.4 473.6h.01M155.6 471.9h.01M170.9 471.1h.01M170.6 467.5h.01M157.1 471.2h.01M154.1 452.3h.01M163.8 473.9h.01M170.7 461.3h.01M171.6 470.4h.01M158.5 461.9h.01M173.9 475.1h.01M166.4 470.8h.01M170.5 466.1h.01M162.9 474.6h.01M155.2 468.9h.01M157.2 457.9h.01M172.5 441.7h.01M155.8 472.8h.01M147.8 475.0h.01M156.1 452.8h.01M170.2 472.8h.01M147.2 469.3h.01M155.8 469.7h.01M148.3 470.0h.01M176.1 454.5h.01M154.7 406.0h.01M151.7 456.3h.01M168.4 473.4h.01M152.2 452.1h.01M173.8 473.7h.01M173.7 471.3h.01M167.3 464.1h.01M170.6 474.3h.01M147.1 460.7h.01M157.0 472.0h.01M155.7 456.4h.01M171.4 461.5h.01M153.7 460.2h.01M156.5 474.9h.01M149.5 469.9h.01M147.3 474.6h.01M166.5 468.7h.01M163.8 474.9h.01M170.1 457.6h.01M151.9 458.5h.01M175.2 370.3h.01M175.6 474.7h.01M152.4 469.5h.01M171.7 472.7h.01M152.3 471.0h.01M161.3 475.1h.01M170.5 473.4h.01M150.8 474.1h.01M155.7 475.2h.01M172.5 451.3h.01M154.3 471.9h.01M147.7 470.3h.01M152.6 461.4h.01M152.4 472.7h.01M165.7 468.1h.01M149.8 464.5h.01M169.3 471.4h.01M158.1 472.3h.01M153.3 475.1h.01M170.0 406.8h.01M167.2 475.1h.01M170.8 427.3h.01M152.3 460.2h.01M171.1 467.2h.01M173.9 463.9h.01M152.5 465.9h.01M174.7 472.3h.01M174.5 455.8h.01M163.7 468.5h.01M170.0 443.6h.01M159.4 474.6h.01M148.4 473.5h.01M164.1 466.2h.01M156.6 470.7h.01M151.5 463.5h.01M164.2 472.8h.01M147.4 466.6h.01M166.3 473.2h.01M167.0 447.6h.01M158.2 470.1h.01M153.7 464.2h.01M170.9 453.6h.01M171.3 470.8h.01M163.9 472.4h.01M165.5 468.1h.01M167.6 467.4h.01M155.0 380.0h.01M164.4 468.3h.01M152.9 447.8h.01M151.8 359.8h.01M173.9 445.1h.01M147.0 470.4h.01M167.2 456.3h.01M150.0 473.0h.01M154.7 429.5h.01M153.2 411.0h.01M164.5 465.7h.01M164.0 468.2h.01M166.3 463.3h.01M151.7 459.6h.01M149.6 474.1h.01M175.1 464.7h.01M147.6 467.7h.01M170.5 349.2h.01M148.5 466.6h.01M172.0 454.0h.01M173.6 422.9h.01M150.2 458.3h.01M155.6 463.0h.01M175.4 474.2h.01M167.8 473.2h.01M157.6 461.6h.01M170.5 459.6h.01M152.4 473.5h.01M152.1 469.8h.01M171.5 462.4h.01M176.1 425.9h.01M152.5 470.1h.01M149.4 462.7h.01M149.4 455.1h.01M171.0 461.5h.01M171.3 464.6h.01M174.9 471.9h.01M156.3 468.8h.01M173.3 471.5h.01M168.2 471.6h.01M171.8 472.8h.01M146.8 474.8h.01M151.7 431.8h.01M174.4 456.6h.01M170.0 457.0h.01M165.7 475.1h.01M164.5 474.6h.01M174.7 474.7h.01M146.9 458.1h.01M149.8 474.4h.01M155.6 474.0h.01M175.5 468.7h.01M152.8 464.0h.01M150.6 391.4h.01M174.8 464.1h.01M166.7 441.5h.01M172.8 473.4h.01M169.6 462.9h.01M174.1 453.0h.01M168.9 459.8h.01M153.0 428.6h.01M151.9 472.3h.01M151.4 467.9h.01M154.7 471.7h.01M167.7 471.8h.01M175.5 472.2h.01M165.8 466.4h.01M149.0 344.0h.01M155.2 475.1h.01M146.8 466.2h.01M175.9 474.9h.01M173.3 468.4h.01M152.1 464.8h.01M152.7 462.0h.01M169.0 389.4h.01M170.6 473.7h.01M148.2 454.8h.01M149.1 461.3h.01M154.4 467.3h.01M169.1 383.3h.01M169.4 471.3h.01M162.3 475.2h.01M170.5 474.1h.01M150.4 471.1h.01M162.4 471.0h.01M173.4 473.6h.01M169.2 459.8h.01M152.1 473.9h.01M171.8 470.2h.01M174.4 475.1h.01M146.9 471.2h.01M171.7 472.8h.01M169.9 461.0h.01M173.1 470.3h.01M172.6 469.8h.01M167.9 472.7h.01M174.9 473.9h.01M157.4 465.1h.01M168.6 379.6h.01M165.2 473.2h.01M149.7 440.4h.01M176.1 475.1h.01M153.0 456.3h.01M158.6 472.7h.01M174.0 460.1h.01M146.8 450.8h.01M167.2 447.3h.01M150.8 469.1h.01M152.6 467.8h.01M171.6 469.7h.01M154.1 464.7h.01M156.5 473.8h.01M175.1 414.8h.01M157.7 463.0h.01M150.8 473.3h.01M153.9 469.9h.01M170.4 473.6h.01M147.4 469.2h.01M173.3 454.4h.01M150.1 471.7h.01M153.1 467.0h.01M151.1 474.2h.01M153.8 466.7h.01M153.0 459.8h.01M174.3 474.3h.01M171.1 470.2h.01M149.0 453.3h.01M151.3 457.7h.01M150.8 426.3h.01M173.1 469.6h.01M170.7 395.5h.01M174.7 446.7h.01M171.2 474.7h.01M165.7 475.2h.01M150.9 471.9h.01M148.6 462.9h.01M153.9 446.4h.01M171.5 427.7h.01M169.9 475.2h.01M166.8 465.9h.01M150.8 473.0h.01M149.0 471.1h.01M169.5 470.8h.01M163.3 470.2h.01M156.0 475.3h.01M172.7 472.0h.01M151.9 472.8h.01M153.1 472.2h.01M148.6 424.4h.01M176.0 409.4h.01M169.4 474.2h.01M168.2 458.1h.01M149.5 465.1h.01M166.1 465.0h.01M166.6 461.1h.01M172.6 462.3h.01M156.5 470.8h.01M173.5 470.9h.01M156.1 470.8h.01M151.7 449.7h.01M169.1 460.2h.01M156.7 464.6h.01M166.0 474.7h.01M171.7 466.6h.01M155.2 451.8h.01M173.0 456.9h.01M153.5 473.5h.01M166.8 470.3h.01M174.1 474.6h.01M166.2 472.8h.01M175.6 454.6h.01M171.0 467.8h.01M149.3 462.2h.01M146.8 402.2h.01M169.3 473.3h.01M150.7 474.7h.01M163.9 470.6h.01M149.0 454.4h.01M164.6 467.2h.01M167.0 469.1h.01M173.7 473.0h.01M172.4 470.2h.01M154.7 466.5h.01M164.7 468.4h.01M164.9 468.1h.01M149.4 472.1h.01M155.2 461.9h.01M166.9 465.7h.01M164.8 459.3h.01M170.7 471.7h.01M172.4 475.1h.01M147.5 474.8h.01M147.1 472.8h.01M157.6 473.1h.01M156.7 453.1h.01M154.6 474.4h.01M154.5 464.1h.01M165.9 459.4h.01M149.0 472.7h.01M167.7 471.8h.01M149.6 471.7h.01M170.8 429.7h.01M157.4 474.0h.01M155.6 473.7h.01M172.3 461.2h.01M168.8 465.2h.01M174.4 453.7h.01M171.1 449.8h.01M172.2 474.5h.01M167.9 473.9h.01M173.9 432.7h.01M153.3 474.7h.01M147.0 474.6h.01M151.9 474.5h.01M169.9 461.7h.01M171.7 473.4h.01M166.9 475.2h.01M171.7 468.2h.01M156.8 469.3h.01M176.0 464.6h.01M148.5 465.4h.01M165.9 468.6h.01M165.5 474.9h.01M170.3 470.5h.01M171.8 467.2h.01M167.1 473.8h.01M174.5 472.4h.01M159.3 475.0h.01M170.9 467.5h.01M168.3 474.3h.01M147.4 474.3h.01M172.6 474.6h.01M147.8 463.0h.01M173.9 467.1h.01M157.7 472.2h.01M155.7 473.7h.01M167.7 471.0h.01M159.1 473.1h.01M148.8 472.2h.01M148.8 472.4h.01M149.4 474.9h.01M159.3 467.3h.01M146.8 455.9h.01M174.2 471.3h.01M164.7 470.6h.01M166.4 473.8h.01M171.3 474.1h.01M169.4 471.3h.01M166.3 464.1h.01M172.9 465.0h.01M173.1 461.4h.01M155.8 457.0h.01M170.7 455.2h.01M148.1 472.5h.01M169.9 382.1h.01M164.3 469.2h.01M173.6 465.4h.01M175.9 471.2h.01M170.9 453.8h.01M162.0 475.0h.01M163.5 467.1h.01M168.4 465.5h.01M146.9 466.4h.01M168.2 474.6h.01M174.4 472.2h.01M147.7 464.5h.01M168.5 466.7h.01M149.2 461.8h.01M150.0 449.2h.01M151.5 460.0h.01M167.0 467.9h.01M149.6 472.1h.01M150.5 465.6h.01M154.8 470.7h.01M167.6 465.3h.01M154.6 437.0h.01M163.3 469.6h.01M171.3 359.6h.01M151.0 467.1h.01M152.1 464.5h.01M151.1 457.3h.01M166.4 474.3h.01M150.2 456.0h.01M164.8 464.8h.01M153.0 420.6h.01M158.1 472.9h.01M156.3 471.7h.01M149.3 466.5h.01M170.4 459.8h.01M150.0 465.2h.01M149.1 472.3h.01M168.9 470.0h.01M155.9 473.7h.01M167.6 439.6h.01M169.2 473.6h.01M148.1 465.4h.01M175.2 472.3h.01M172.2 469.9h.01M152.5 468.3h.01M175.0 471.3h.01M155.8 471.3h.01M167.4 468.7h.01M147.1 461.4h.01M173.4 471.6h.01M147.0 467.5h.01M172.3 472.5h.01M155.8 297.4h.01M151.1 460.0h.01M152.4 438.2h.01M154.5 453.8h.01M150.7 472.2h.01M148.7 474.9h.01M148.7 450.2h.01M174.1 474.4h.01M155.5 460.9h.01M168.8 473.5h.01M151.8 474.1h.01M154.7 433.7h.01M170.2 473.0h.01M160.1 474.1h.01M169.9 460.7h.01M167.0 475.3h.01M171.9 465.7h.01M169.9 460.2h.01M157.2 472.6h.01M165.6 464.9h.01M148.4 458.7h.01M158.9 468.4h.01M151.0 447.7h.01M172.7 396.3h.01M163.8 471.7h.01M153.6 458.3h.01M174.8 461.8h.01M174.6 475.0h.01M166.6 452.1h.01M147.8 474.1h.01M154.7 475.1h.01M152.1 474.5h.01M156.6 457.5h.01M171.3 455.8h.01M172.1 469.4h.01M152.4 417.4h.01M169.8 460.5h.01M172.6 474.3h.01M167.2 465.7h.01M167.8 473.7h.01M152.0 471.8h.01M175.7 453.4h.01M173.1 452.8h.01M156.8 475.1h.01M147.5 470.5h.01M166.6 471.8h.01M171.5 442.8h.01M156.7 472.4h.01M167.8 470.2h.01M149.1 469.7h.01M167.2 460.1h.01M175.2 469.3h.01M149.1 468.1h.01M147.3 468.7h.01M148.5 446.0h.01M171.3 444.7h.01M172.1 458.5h.01M168.5 471.0h.01M170.5 467.2h.01M151.8 474.3h.01M163.5 470.0h.01M170.4 466.1h.01M152.2 464.2h.01M171.6 475.2h.01M153.5 473.8h.01M157.4 454.0h.01M150.2 474.5h.01M148.7 472.0h.01M152.2 465.2h.01M174.7 464.2h.01M147.0 458.0h.01M162.4 475.2h.01M175.9 470.6h.01M154.5 469.6h.01M150.4 446.5h.01M176.1 457.0h.01M164.8 469.7h.01M156.7 449.2h.01M153.1 462.8h.01M151.3 464.1h.01M146.8 473.9h.01M147.7 473.2h.01M171.8 474.3h.01M171.8 454.1h.01M148.3 443.1h.01M167.5 471.8h.01M171.1 464.2h.01M151.1 466.1h.01M164.1 471.4h.01M156.1 475.3h.01M154.1 338.8h.01M168.1 471.1h.01M150.3 416.3h.01M156.8 458.1h.01M165.5 471.2h.01M157.2 468.0h.01M147.0 441.6h.01M164.4 465.7h.01M163.5 468.2h.01M168.1 473.9h.01M153.3 458.4h.01M149.7 467.6h.01M157.6 474.0h.01M158.9 472.0h.01M155.1 459.4h.01M148.6 458.0h.01M154.1 460.8h.01M170.9 475.2h.01M153.7 473.8h.01M148.3 472.5h.01M160.1 472.0h.01M169.9 474.8h.01M149.8 473.8h.01M149.5 473.0h.01M150.0 474.4h.01M168.0 469.4h.01M173.6 473.8h.01M151.9 473.4h.01M174.4 469.5h.01M174.9 464.1h.01M152.5 473.3h.01M158.3 461.1h.01M146.9 462.5h.01M167.7 458.0h.01M171.4 469.3h.01M163.1 469.2h.01M162.6 473.2h.01M174.5 468.7h.01M176.0 475.2h.01M156.4 473.0h.01M169.8 466.5h.01M160.3 473.3h.01M158.0 456.6h.01M164.3 468.8h.01M174.8 474.9h.01M167.3 456.6h.01M159.0 469.8h.01M170.2 466.7h.01M153.9 393.1h.01M147.6 475.0h.01M173.5 474.5h.01M149.6 463.2h.01M156.4 473.6h.01M151.8 474.3h.01M151.4 467.0h.01M164.3 464.9h.01M150.2 472.2h.01M146.9 460.3h.01M168.1 461.6h.01M148.2 464.4h.01M165.3 473.6h.01M162.4 474.7h.01M168.8 471.7h.01M170.8 468.2h.01M153.7 468.2h.01M165.8 475.1h.01M160.0 474.6h.01M168.4 472.4h.01M164.5 467.6h.01M165.9 468.4h.01M174.0 473.9h.01M174.0 456.4h.01M174.7 458.8h.01M170.4 457.0h.01M150.9 443.5h.01M147.3 472.6h.01M173.7 467.4h.01M159.0 475.1h.01M149.5 472.9h.01M156.3 469.3h.01M171.2 471.5h.01M162.8 472.0h.01M154.5 471.1h.01M152.7 447.2h.01M151.5 458.6h.01M168.4 472.8h.01M158.0 472.0h.01M174.5 474.1h.01M168.4 473.0h.01M166.5 455.4h.01M149.9 468.9h.01M148.7 358.5h.01M159.2 469.9h.01M157.6 466.3h.01M167.8 404.0h.01M170.3 471.6h.01M172.8 390.1h.01M146.9 472.9h.01M167.7 464.9h.01M157.6 468.4h.01M147.7 467.7h.01M157.7 472.1h.01M171.2 472.6h.01M156.8 457.0h.01M174.3 452.5h.01M159.2 473.4h.01M157.9 461.9h.01M154.5 440.9h.01M174.9 459.8h.01M169.9 471.9h.01M151.2 461.8h.01M157.3 471.1h.01M147.6 463.0h.01M175.3 469.3h.01M171.4 424.2h.01M149.5 461.5h.01M147.2 455.4h.01M152.3 470.1h.01M169.3 474.1h.01M151.2 469.9h.01M163.7 466.1h.01M165.7 461.6h.01M153.1 475.2h.01M168.3 473.6h.01M166.8 469.8h.01M169.7 474.6h.01M153.3 471.3h.01M152.7 453.7h.01M174.8 469.6h.01M158.9 474.4h.01M147.9 469.8h.01M173.7 468.4h.01M169.9 431.5h.01M151.9 469.3h.01M149.6 467.0h.01M170.3 474.2h.01M156.0 452.8h.01M154.9 470.2h.01M170.1 474.6h.01M150.2 462.1h.01M153.4 469.1h.01M151.4 467.8h.01M149.1 446.6h.01M174.2 440.8h.01M173.2 471.5h.01M151.1 371.7h.01M148.4 472.6h.01M165.0 471.1h.01M152.2 471.7h.01M156.2 459.1h.01M156.9 458.3h.01M169.9 475.2h.01M170.9 471.4h.01M174.8 474.3h.01M149.0 456.6h.01M149.4 464.6h.01M169.5 471.5h.01M154.0 469.8h.01M150.0 474.8h.01M148.6 474.0h.01M166.3 470.1h.01M158.3 471.3h.01M154.8 462.9h.01M154.6 472.7h.01M176.1 458.8h.01M174.2 458.6h.01M149.2 474.4h.01M147.0 468.8h.01M148.1 474.1h.01M170.3 425.6h.01M155.2 456.0h.01M148.8 455.8h.01M147.6 469.8h.01M168.7 465.6h.01M146.7 458.2h.01M172.6 475.9h.01M150.6 475.9h.01M166.0 476.1h.01M173.1 476.0h.01M173.1 476.0h.01M183.3 475.6h.01M139.6 475.3h.01M167.5 476.2h.01M152.6 475.7h.01M179.8 475.3h.01M143.2 475.3h.01M152.7 475.6h.01M144.1 475.5h.01M179.9 475.7h.01M176.5 475.7h.01M162.1 475.8h.01M161.1 475.7h.01M181.2 475.2h.01M166.6 475.6h.01M149.4 476.0h.01M149.7 475.5h.01M153.0 475.9h.01M142.5 475.7h.01M165.4 476.1h.01M149.8 475.6h.01M155.3 475.8h.01M157.7 476.1h.01M167.6 475.8h.01M164.8 475.7h.01M160.4 475.9h.01M171.5 475.9h.01M166.6 476.0h.01M158.5 476.1h.01M181.8 475.4h.01M169.4 475.7h.01M143.6 475.3h.01M164.0 476.1h.01M148.6 475.5h.01M160.5 475.8h.01M156.0 476.0h.01M140.6 475.3h.01M153.4 475.9h.01M175.4 475.4h.01M150.4 476.1h.01M147.7 475.8h.01M141.1 475.4h.01M156.0 475.6h.01M142.7 475.2h.01M182.6 475.3h.01M173.4 475.6h.01M161.4 476.1h.01M175.1 475.9h.01M142.2 475.5h.01M147.7 475.9h.01M173.7 475.9h.01M160.3 475.9h.01M140.7 475.5h.01M152.5 475.9h.01M181.8 475.2h.01M167.5 475.7h.01M158.8 475.9h.01M150.1 475.6h.01M182.7 475.2h.01M158.8 475.8h.01M140.6 475.2h.01M173.7 475.6h.01M172.5 476.1h.01M146.0 475.6h.01M164.9 476.1h.01M153.9 476.1h.01M151.6 475.6h.01M175.1 475.6h.01M141.4 475.3h.01M173.1 475.5h.01M154.0 476.0h.01M151.5 476.1h.01M177.4 475.8h.01M163.1 475.8h.01M153.6 475.8h.01M178.6 475.7h.01M158.4 476.2h.01M146.0 475.6h.01M163.2 476.0h.01M146.1 475.8h.01M148.8 475.8h.01M175.5 475.5h.01M154.0 476.1h.01M172.9 475.8h.01M141.4 475.1h.01M164.1 476.2h.01M142.0 475.1h.01M144.5 475.8h.01M152.1 475.8h.01M139.8 475.1h.01M160.3 476.1h.01M140.3 475.1h.01M170.9 476.0h.01M139.5 475.3h.01M154.0 475.8h.01M170.8 475.6h.01M162.9 476.2h.01M161.9 476.2h.01M175.1 475.6h.01M176.2 475.8h.01M170.2 476.0h.01M145.8 475.6h.01M175.7 475.4h.01M155.2 475.7h.01M182.5 475.1h.01M153.0 475.8h.01M178.7 475.5h.01M158.0 476.1h.01M179.4 475.4h.01M174.3 475.7h.01M175.1 475.5h.01M140.6 475.4h.01M177.0 475.7h.01M154.8 475.7h.01M152.4 476.1h.01M153.2 475.6h.01M180.2 475.4h.01M181.7 475.6h.01M140.8 475.1h.01M168.6 476.1h.01M173.9 475.5h.01M173.6 475.8h.01M139.4 475.3h.01M154.4 476.0h.01M165.8 476.2h.01M149.4 475.7h.01M141.5 475.6h.01M162.0 475.8h.01M141.2 475.6h.01M150.3 476.1h.01M143.8 475.5h.01M167.6 475.7h.01M143.0 475.7h.01M180.5 475.7h.01M153.1 475.8h.01M174.0 475.6h.01M149.0 475.5h.01M140.2 475.2h.01M170.6 475.6h.01M163.1 475.8h.01M183.0 475.3h.01M149.3 475.6h.01M177.5 475.5h.01M149.9 475.7h.01M162.6 475.8h.01M147.9 475.6h.01M181.4 475.2h.01M164.7 475.9h.01M158.5 476.1h.01M163.0 476.1h.01M177.9 475.4h.01M170.2 475.6h.01M160.5 476.2h.01M169.9 475.6h.01M143.8 475.5h.01M158.1 476.1h.01M153.6 475.7h.01M153.2 475.6h.01M179.7 475.6h.01M162.6 475.7h.01M183.5 475.2h.01M151.6 475.7h.01M159.7 476.0h.01M176.9 475.6h.01M179.6 475.6h.01M168.7 476.1h.01M154.8 475.7h.01M170.8 475.8h.01M174.7 475.6h.01M166.2 476.2h.01M172.9 475.5h.01M171.5 475.8h.01M148.8 475.8h.01M150.4 475.9h.01M141.6 475.2h.01M182.1 475.5h.01M142.0 475.2h.01M172.9 475.9h.01M161.4 476.1h.01M180.4 475.4h.01M150.8 475.6h.01M181.9 475.1h.01M145.3 475.8h.01M144.6 475.4h.01M162.6 475.8h.01M148.0 475.9h.01M153.0 475.6h.01M159.8 476.2h.01M166.0 475.8h.01M163.0 475.9h.01M177.1 475.7h.01M139.4 475.0h.01M176.3 475.9h.01M143.1 475.6h.01M147.1 475.6h.01M142.9 475.4h.01M156.5 475.9h.01M169.7 475.6h.01M140.4 475.4h.01M151.5 475.6h.01M148.0 475.7h.01M143.8 475.4h.01M168.9 475.8h.01M166.0 476.0h.01M141.8 475.6h.01M153.7 475.9h.01M149.4 476.1h.01M159.2 475.8h.01M141.4 475.4h.01M181.4 475.6h.01M174.0 476.0h.01M156.5 475.6h.01M161.3 476.0h.01M176.5 475.6h.01M153.0 475.7h.01M181.1 475.3h.01M176.1 475.5h.01M162.7 476.2h.01M140.1 475.2h.01M183.0 475.2h.01M153.0 476.1h.01M146.5 475.8h.01M153.9 475.8h.01M139.6 475.3h.01M145.5 475.6h.01M160.8 475.8h.01M142.8 475.6h.01M155.9 476.1h.01M172.0 475.6h.01M170.4 476.1h.01M170.0 475.7h.01M176.6 475.7h.01M156.4 476.2h.01M164.5 475.8h.01M156.2 476.0h.01M164.4 476.0h.01M161.5 476.3h.01M144.2 475.3h.01M169.8 475.7h.01M157.2 476.0h.01M140.3 475.6h.01M178.6 475.3h.01M151.7 475.8h.01M142.6 475.3h.01M155.8 476.2h.01M152.9 475.8h.01M163.0 476.0h.01M171.7 475.9h.01M155.3 475.7h.01M167.7 476.1h.01M181.3 475.4h.01M182.0 475.3h.01M156.1 476.1h.01M177.7 475.3h.01M170.7 475.6h.01M157.0 475.6h.01" stroke="#000" stroke-width="1.1" stroke-linecap="square" fill="none"/>
<path d="M146.67,284.5 V484 M176.23,284.5 V484 M55,474.7 H294" stroke="#666" stroke-width="0.8" stroke-dasharray="1 1.1" fill="none"/>
<text x="67.03" y="303.00" font-size="7.8" textLength="75.84" lengthAdjust="spacingAndGlyphs" fill="#111" stroke="#111" stroke-width="0.25">Up regulated :1488</text>
<text x="66.99" y="318.30" font-size="7.8" textLength="79.42" lengthAdjust="spacingAndGlyphs" fill="#111" stroke="#111" stroke-width="0.25">Down regulated:932</text>
<circle cx="485.6" cy="344.1" r="66.1" fill="none" stroke="#3b4fae" stroke-width="1.6"/>
<circle cx="486.0" cy="437.8" r="66.1" fill="none" stroke="#d93232" stroke-width="1.6"/>
<text x="464.26" y="307.30" font-size="12.8" textLength="43.41" lengthAdjust="spacingAndGlyphs" fill="#111" stroke="#111" stroke-width="0.12">SKOV3</text>
<text x="459.00" y="325.70" font-size="12.8" textLength="50.54" lengthAdjust="spacingAndGlyphs" fill="#111" stroke="#111" stroke-width="0.12">Olaparib</text>
<text x="451.29" y="345.90" font-size="12.8" textLength="65.31" lengthAdjust="spacingAndGlyphs" fill="#111" stroke="#111" stroke-width="0.12">Resistance</text>
<text x="475.58" y="385.50" font-size="12.8" textLength="22.61" lengthAdjust="spacingAndGlyphs" fill="#111" stroke="#111" stroke-width="0.12">163</text>
<text x="468.76" y="400.80" font-size="12.8" textLength="36.60" lengthAdjust="spacingAndGlyphs" fill="#111" stroke="#111" stroke-width="0.12">genes</text>
<text x="469.12" y="443.80" font-size="12.8" textLength="34.35" lengthAdjust="spacingAndGlyphs" fill="#111" stroke="#111" stroke-width="0.12">PEO1</text>
<text x="459.85" y="462.80" font-size="12.8" textLength="50.23" lengthAdjust="spacingAndGlyphs" fill="#111" stroke="#111" stroke-width="0.12">Olaparib</text>
<text x="452.15" y="482.60" font-size="12.8" textLength="65.00" lengthAdjust="spacingAndGlyphs" fill="#111" stroke="#111" stroke-width="0.12">Resistance</text>
<path d="M57.8,563.0 H281.8" stroke="#c8c8c8" stroke-width="1.4" fill="none"/>
<path d="M281.8,563.0 V750.4" stroke="#a4a4a4" stroke-width="1.0" fill="none"/>
<path d="M57.8,563.0 V750.4 H281.8" stroke="#666" stroke-width="1.1" fill="none"/>
<line x1="53.60" y1="742.80" x2="57.8" y2="742.80" stroke="#666" stroke-width="1"/>
<text x="34.27" y="747.10" font-size="12.8" textLength="17.17" lengthAdjust="spacingAndGlyphs" fill="#111" stroke="#111" stroke-width="0.12">0.0</text>
<line x1="53.60" y1="707.70" x2="57.8" y2="707.70" stroke="#666" stroke-width="1"/>
<text x="34.26" y="712.00" font-size="12.8" textLength="17.30" lengthAdjust="spacingAndGlyphs" fill="#111" stroke="#111" stroke-width="0.12">0.2</text>
<line x1="53.60" y1="672.60" x2="57.8" y2="672.60" stroke="#666" stroke-width="1"/>
<text x="34.27" y="676.90" font-size="12.8" textLength="17.04" lengthAdjust="spacingAndGlyphs" fill="#111" stroke="#111" stroke-width="0.12">0.4</text>
<line x1="53.60" y1="637.50" x2="57.8" y2="637.50" stroke="#666" stroke-width="1"/>
<text x="34.27" y="641.80" font-size="12.8" textLength="17.23" lengthAdjust="spacingAndGlyphs" fill="#111" stroke="#111" stroke-width="0.12">0.6</text>
<line x1="53.60" y1="602.40" x2="57.8" y2="602.40" stroke="#666" stroke-width="1"/>
<text x="34.27" y="606.70" font-size="12.8" textLength="17.23" lengthAdjust="spacingAndGlyphs" fill="#111" stroke="#111" stroke-width="0.12">0.8</text>
<line x1="53.60" y1="567.30" x2="57.8" y2="567.30" stroke="#666" stroke-width="1"/>
<text x="33.74" y="571.60" font-size="12.8" textLength="17.70" lengthAdjust="spacingAndGlyphs" fill="#111" stroke="#111" stroke-width="0.12">1.0</text>
<line x1="66.00" y1="750.4" x2="66.00" y2="754.9" stroke="#666" stroke-width="1"/>
<text x="62.50" y="766.10" font-size="12.6" fill="#111" stroke="#111" stroke-width="0.12">0</text>
<line x1="100.55" y1="750.4" x2="100.55" y2="754.9" stroke="#666" stroke-width="1"/>
<text x="93.30" y="766.10" font-size="12.6" fill="#111" stroke="#111" stroke-width="0.12">10</text>
<line x1="135.10" y1="750.4" x2="135.10" y2="754.9" stroke="#666" stroke-width="1"/>
<text x="128.01" y="766.10" font-size="12.6" fill="#111" stroke="#111" stroke-width="0.12">20</text>
<line x1="169.65" y1="750.4" x2="169.65" y2="754.9" stroke="#666" stroke-width="1"/>
<text x="162.66" y="766.10" font-size="12.6" fill="#111" stroke="#111" stroke-width="0.12">30</text>
<line x1="204.20" y1="750.4" x2="204.20" y2="754.9" stroke="#666" stroke-width="1"/>
<text x="197.30" y="766.10" font-size="12.6" fill="#111" stroke="#111" stroke-width="0.12">40</text>
<line x1="238.75" y1="750.4" x2="238.75" y2="754.9" stroke="#666" stroke-width="1"/>
<text x="231.73" y="766.10" font-size="12.6" fill="#111" stroke="#111" stroke-width="0.12">50</text>
<line x1="273.30" y1="750.4" x2="273.30" y2="754.9" stroke="#666" stroke-width="1"/>
<text x="266.21" y="766.10" font-size="12.6" fill="#111" stroke="#111" stroke-width="0.12">60</text>
<text x="144.25" y="777.40" font-size="12.8" textLength="42.90" lengthAdjust="spacingAndGlyphs" fill="#111" stroke="#111" stroke-width="0.12">months</text>
<text transform="translate(29.40,658.80) rotate(-90)" x="-78.08" y="0" font-size="13.2" textLength="155.89" lengthAdjust="spacingAndGlyphs" fill="#111" stroke="#111" stroke-width="0.12">Progression-Free Survival</text>
<text x="182.10" y="578.20" font-size="9.4" textLength="83.10" lengthAdjust="spacingAndGlyphs" fill="#111" stroke="#111" stroke-width="0.12">HR=1.4(1.21-1.62)</text>
<text x="185.55" y="594.00" font-size="9.4" textLength="76.04" lengthAdjust="spacingAndGlyphs" fill="#111" stroke="#111" stroke-width="0.12">logrank P=5.7e-6</text>
<path d="M66.00,567.30H67.55V568.09H69.11V568.88H70.40V569.67H71.61V570.46H72.82V571.25H74.04V572.04H75.25V572.83H76.46V573.62H77.67V574.41H78.89V575.20H80.10V575.99H81.31V576.78H82.52V577.57H83.38V578.36H84.05V579.15H84.73V579.94H85.40V580.73H86.07V581.52H86.75V582.31H87.42V583.09H88.09V583.88H88.77V584.67H89.44V585.46H90.12V586.25H90.79V587.04H91.46V587.83H92.12V588.62H92.74V589.41H93.36V590.20H93.99V590.99H94.61V591.78H95.23V592.57H95.85V593.36H96.47V594.15H97.09V594.94H97.72V595.73H98.34V596.52H98.89V597.31H99.20V598.10H99.51V598.89H99.82V599.68H100.14V600.47H100.45V601.26H100.76V602.05H101.07V602.84H101.38V603.63H101.69V604.42H102.00V605.21H102.32V606.00H102.66V606.79H103.01V607.58H103.35V608.37H103.70V609.16H104.04V609.95H104.39V610.74H104.73V611.53H105.08V612.32H105.42V613.11H105.77V613.90H106.12V614.68H106.46V615.47H106.81V616.26H107.15V617.05H107.50V617.84H107.84V618.63H108.19V619.42H108.53V620.21H108.88V621.00H109.24V621.79H109.71V622.58H110.17V623.37H110.64V624.16H111.10V624.95H111.57V625.74H112.04V626.53H112.50V627.32H112.97V628.11H113.44V628.90H113.90V629.69H114.37V630.48H115.33V631.27H116.30V632.06H117.26V632.85H118.22V633.64H119.19V634.43H120.15V635.22H121.12V636.01H122.08V636.80H123.04V637.59H124.01V638.38H124.97V639.17H125.63V639.96H126.25V640.75H126.88V641.54H127.50V642.33H128.12V643.12H128.74V643.91H129.36V644.70H129.99V645.49H130.61V646.27H131.23V647.06H131.85V647.85H132.47V648.64H133.09V649.43H133.72V650.22H134.34V651.01H134.96V651.80H135.58V652.59H136.20V653.38H136.83V654.17H137.45V654.96H138.07V655.75H138.69V656.54H139.75V657.33H141.02V658.12H142.30V658.91H143.57V659.70H144.85V660.49H146.12V661.28H147.40V662.07H148.67V662.86H149.95V663.65H151.22V664.44H152.50V665.23H153.64V666.02H154.68V666.81H155.71V667.60H156.75V668.39H157.79V669.18H158.82V669.97H159.86V670.76H161.24V671.55H162.66V672.34H164.09V673.13H165.51V673.92H166.94V674.71H168.44V675.50H169.99V676.29H171.55V677.08H173.10V677.86H174.66V678.65H176.21V679.44H178.06V680.23H180.50V681.02H182.94V681.81H185.39V682.60H187.83V683.39H192.78V684.18H199.00V684.97H204.65V685.76H208.28V686.55H211.90V687.34H215.53V688.13H219.16V688.92H222.45V689.71H225.47V690.50H228.49V691.29H231.50V692.08H233.01V692.87H234.08V693.66H235.15V694.45H248.32V695.24H252.59V696.03H256.87V696.82H261.56V697.61H266.58V698.40H271.60V699.19H273.30" stroke="#222" stroke-width="0.9" fill="none"/>
<path d="M203.4,685.8h2.6M204.7,683.8v4M148.7,663.7h2.6M150.0,661.7v4M119.7,635.9h2.6M121.0,633.9v4M210.6,687.3h2.6M211.9,685.3v4M128.6,645.4h2.6M129.9,643.4v4M141.8,659.4h2.6M143.1,657.4v4M223.3,690.3h2.6M224.6,688.3v4M167.4,675.6h2.6M168.7,673.6v4M227.2,691.3h2.6M228.5,689.3v4M171.7,677.8h2.6M173.0,675.8v4M97.9,598.0h2.6M99.2,596.0v4M156.7,669.3h2.6M158.0,667.3v4M245.6,695.1h2.6M246.9,693.1v4M181.8,681.9h2.6M183.1,679.9v4M264.7,698.3h2.6M266.0,696.3v4M64.9,567.4h2.6M66.2,565.4v4M135.3,653.8h2.6M136.6,651.8v4M224.1,690.5h2.6M225.4,688.5v4M206.9,686.5h2.6M208.2,684.5v4M181.0,681.6h2.6M182.3,679.6v4M202.3,685.6h2.6M203.6,683.6v4M246.4,695.1h2.6M247.7,693.1v4M206.4,686.4h2.6M207.7,684.4v4M178.1,680.7h2.6M179.4,678.7v4M181.3,681.7h2.6M182.6,679.7v4M202.8,685.6h2.6M204.1,683.6v4M131.8,649.5h2.6M133.1,647.5v4M203.5,685.8h2.6M204.8,683.8v4M192.2,684.3h2.6M193.5,682.3v4M227.6,691.4h2.6M228.9,689.4v4M164.3,673.9h2.6M165.6,671.9v4M70.3,570.5h2.6M71.6,568.5v4M176.0,680.0h2.6M177.3,678.0v4M242.5,695.1h2.6M243.8,693.1v4M197.4,684.9h2.6M198.7,682.9v4M198.1,685.0h2.6M199.4,683.0v4M145.7,661.8h2.6M147.0,659.8v4M138.6,657.4h2.6M139.9,655.4v4M213.7,688.0h2.6M215.0,686.0v4M80.8,577.3h2.6M82.1,575.3v4M244.3,695.1h2.6M245.6,693.1v4M246.4,695.1h2.6M247.7,693.1v4M264.2,698.2h2.6M265.5,696.2v4M92.8,591.2h2.6M94.1,589.2v4M88.6,586.0h2.6M89.9,584.0v4M250.0,695.8h2.6M251.3,693.8v4M147.9,663.2h2.6M149.2,661.2v4M120.7,636.8h2.6M122.0,634.8v4M143.9,660.7h2.6M145.2,658.7v4M201.4,685.4h2.6M202.7,683.4v4M98.2,598.8h2.6M99.5,596.8v4M165.7,674.7h2.6M167.0,672.7v4M201.5,685.5h2.6M202.8,683.5v4M214.1,688.1h2.6M215.4,686.1v4M67.2,568.6h2.6M68.5,566.6v4M232.8,693.7h2.6M234.1,691.7v4M154.7,667.8h2.6M156.0,665.8v4M155.0,668.1h2.6M156.3,666.1v4M181.3,681.7h2.6M182.6,679.7v4M122.8,638.4h2.6M124.1,636.4v4M248.5,695.5h2.6M249.8,693.5v4M108.7,623.0h2.6M110.0,621.0v4M177.2,680.4h2.6M178.5,678.4v4M99.5,602.2h2.6M100.8,600.2v4M192.4,684.3h2.6M193.7,682.3v4M251.7,696.1h2.6M253.0,694.1v4M247.7,695.4h2.6M249.0,693.4v4M92.6,590.9h2.6M93.9,588.9v4M194.2,684.5h2.6M195.5,682.5v4M249.7,695.7h2.6M251.0,693.7v4M106.2,617.9h2.6M107.5,615.9v4M150.7,664.9h2.6M152.0,662.9v4M212.5,687.8h2.6M213.8,685.8v4M217.7,688.9h2.6M219.0,686.9v4M158.2,670.5h2.6M159.5,668.5v4M126.5,642.7h2.6M127.8,640.7v4M129.4,646.4h2.6M130.7,644.4v4M98.9,600.5h2.6M100.2,598.5v4M127.8,644.3h2.6M129.1,642.3v4M120.6,636.6h2.6M121.9,634.6v4M132.2,649.9h2.6M133.5,647.9v4M114.2,631.4h2.6M115.5,629.4v4M97.2,596.8h2.6M98.5,594.8v4M106.7,619.0h2.6M108.0,617.0v4M153.9,667.2h2.6M155.2,665.2v4M82.8,579.3h2.6M84.1,577.3v4M79.0,576.1h2.6M80.3,574.1v4M65.9,567.9h2.6M67.2,565.9v4M147.1,662.7h2.6M148.4,660.7v4M160.3,671.8h2.6M161.6,669.8v4M87.6,584.8h2.6M88.9,582.8v4M90.4,588.2h2.6M91.7,586.2v4M83.9,580.5h2.6M85.2,578.5v4M122.8,638.4h2.6M124.1,636.4v4M111.6,628.0h2.6M112.9,626.0v4M144.1,660.8h2.6M145.4,658.8v4M85.0,581.8h2.6M86.3,579.8v4M149.6,664.3h2.6M150.9,662.3v4M109.6,624.6h2.6M110.9,622.6v4M142.9,660.1h2.6M144.2,658.1v4M142.3,659.7h2.6M143.6,657.7v4M152.8,666.4h2.6M154.1,664.4v4M113.0,630.3h2.6M114.3,628.3v4M123.7,639.2h2.6M125.0,637.2v4M119.0,635.3h2.6M120.3,633.3v4M83.1,579.6h2.6M84.4,577.6v4M113.2,630.6h2.6M114.5,628.6v4M154.3,667.5h2.6M155.6,665.5v4M152.6,666.2h2.6M153.9,664.2v4M66.8,568.4h2.6M68.1,566.4v4M128.9,645.7h2.6M130.2,643.7v4M96.3,595.6h2.6M97.6,593.6v4M77.9,575.4h2.6M79.2,573.4v4M78.2,575.6h2.6M79.5,573.6v4M141.6,659.3h2.6M142.9,657.3v4M157.5,669.9h2.6M158.8,667.9v4M115.0,632.1h2.6M116.3,630.1v4M101.8,607.8h2.6M103.1,605.8v4M114.0,631.3h2.6M115.3,629.3v4M144.9,661.3h2.6M146.2,659.3v4M136.9,656.0h2.6M138.2,654.0v4M70.9,570.8h2.6M72.2,568.8v4M85.3,582.1h2.6M86.6,580.1v4M148.6,663.6h2.6M149.9,661.6v4M112.4,629.3h2.6M113.7,627.3v4M128.3,645.0h2.6M129.6,643.0v4M139.9,658.2h2.6M141.2,656.2v4M126.3,642.4h2.6M127.6,640.4v4M135.7,654.4h2.6M137.0,652.4v4M117.5,634.1h2.6M118.8,632.1v4M86.9,584.0h2.6M88.2,582.0v4M82.8,579.2h2.6M84.1,577.2v4M160.8,672.0h2.6M162.1,670.0v4M65.7,567.8h2.6M67.0,565.8v4M131.5,649.1h2.6M132.8,647.1v4M149.9,664.4h2.6M151.2,662.4v4M87.1,584.2h2.6M88.4,582.2v4M69.4,569.9h2.6M70.7,567.9v4M103.3,611.3h2.6M104.6,609.3v4M96.6,596.0h2.6M97.9,594.0v4M109.4,624.2h2.6M110.7,622.2v4M106.0,617.5h2.6M107.3,615.5v4M155.8,668.7h2.6M157.1,666.7v4M76.2,574.3h2.6M77.5,572.3v4M156.0,668.8h2.6M157.3,666.8v4M69.1,569.7h2.6M70.4,567.7v4M155.5,668.4h2.6M156.8,666.4v4M96.9,596.4h2.6M98.2,594.4v4M135.0,653.6h2.6M136.3,651.6v4M65.0,567.5h2.6M66.3,565.5v4M108.0,621.8h2.6M109.3,619.8v4M130.3,647.5h2.6M131.6,645.5v4M125.5,641.4h2.6M126.8,639.4v4M142.7,660.0h2.6M144.0,658.0v4M79.5,576.5h2.6M80.8,574.5v4M103.5,611.7h2.6M104.8,609.7v4M124.1,639.6h2.6M125.4,637.6v4M67.5,568.7h2.6M68.8,566.7v4M145.5,661.7h2.6M146.8,659.7v4M105.0,615.0h2.6M106.3,613.0v4M88.5,585.9h2.6M89.8,583.9v4M86.2,583.2h2.6M87.5,581.2v4M127.7,644.2h2.6M129.0,642.2v4M69.3,569.8h2.6M70.6,567.8v4M88.3,585.7h2.6M89.6,583.7v4M94.1,592.8h2.6M95.4,590.8v4M89.7,587.3h2.6M91.0,585.3v4M135.4,654.0h2.6M136.7,652.0v4M122.0,637.8h2.6M123.3,635.8v4M152.1,665.9h2.6M153.4,663.9v4M132.5,650.3h2.6M133.8,648.3v4M93.2,591.6h2.6M94.5,589.6v4M96.1,595.3h2.6M97.4,593.3v4M76.6,574.6h2.6M77.9,572.6v4M88.2,585.5h2.6M89.5,583.5v4M123.2,638.8h2.6M124.5,636.8v4M135.4,654.0h2.6M136.7,652.0v4M93.3,591.8h2.6M94.6,589.8v4M98.0,598.3h2.6M99.3,596.3v4M142.4,659.8h2.6M143.7,657.8v4M157.4,669.9h2.6M158.7,667.9v4M72.9,572.1h2.6M74.2,570.1v4M71.6,571.3h2.6M72.9,569.3v4M138.1,657.1h2.6M139.4,655.1v4M112.7,629.8h2.6M114.0,627.8v4" stroke="#222" stroke-width="0.85" fill="none"/>
<path d="M66.00,569.05H66.78V569.84H67.55V570.63H68.33V571.42H69.11V572.21H70.30V573.00H71.81V573.79H73.33V574.58H74.84V575.37H76.36V576.16H77.88V576.95H79.39V577.74H80.91V578.53H82.42V579.32H83.33V580.11H83.93V580.90H84.54V581.69H85.14V582.48H85.74V583.27H86.34V584.06H86.95V584.85H87.55V585.64H88.15V586.43H88.75V587.22H89.36V588.01H89.96V588.80H90.56V589.59H91.16V590.38H91.77V591.17H92.37V591.96H92.97V592.75H93.57V593.54H94.02V594.33H94.44V595.12H94.86V595.91H95.29V596.70H95.71V597.49H96.14V598.28H96.56V599.07H96.98V599.86H97.41V600.64H97.83V601.43H98.26V602.22H98.68V603.01H99.10V603.80H99.53V604.59H99.95V605.38H100.38V606.17H100.80V606.96H101.22V607.75H101.65V608.54H102.07V609.33H102.50V610.12H102.92V610.91H103.35V611.70H103.77V612.49H104.21V613.28H104.66V614.07H105.11V614.86H105.57V615.65H106.02V616.44H106.47V617.23H106.93V618.02H107.38V618.81H107.83V619.60H108.29V620.39H108.74V621.18H109.19V621.97H109.65V622.76H110.10V623.55H110.55V624.34H111.01V625.13H111.46V625.92H111.92V626.71H112.37V627.50H112.82V628.29H113.28V629.08H113.73V629.87H114.18V630.66H114.64V631.45H115.09V632.23H115.54V633.02H116.00V633.81H116.64V634.60H117.34V635.39H118.04V636.18H118.74V636.97H119.44V637.76H120.14V638.55H120.84V639.34H121.54V640.13H122.24V640.92H122.94V641.71H123.64V642.50H124.34V643.29H125.04V644.08H125.74V644.87H126.44V645.66H127.14V646.45H127.83V647.24H128.53V648.03H129.16V648.82H129.78V649.61H130.40V650.40H131.02V651.19H131.64V651.98H132.27V652.77H132.89V653.56H133.51V654.35H134.13V655.14H134.75V655.93H135.38V656.72H136.00V657.51H136.62V658.30H137.24V659.09H137.86V659.88H138.48V660.67H139.11V661.46H139.73V662.25H140.35V663.04H140.97V663.82H141.59V664.61H142.22V665.40H143.15V666.19H144.17V666.98H145.19V667.77H146.21V668.56H147.24V669.35H148.26V670.14H149.28V670.93H150.30V671.72H151.32V672.51H152.34V673.30H153.37V674.09H154.39V674.88H155.41V675.67H156.43V676.46H157.45V677.25H158.33V678.04H158.68V678.83H159.03V679.62H159.39V680.41H159.74V681.20H160.68V681.99H162.82V682.78H164.96V683.57H167.10V684.36H169.24V685.15H171.37V685.94H173.51V686.73H175.48V687.52H176.86V688.31H178.24V689.10H179.62V689.89H180.99V690.68H182.37V691.47H183.75V692.26H185.13V693.05H186.51V693.84H187.88V694.63H190.54V695.41H194.82V696.20H199.09V696.99H203.37V697.78H206.23V698.57H208.92V699.36H211.61V700.15H214.29V700.94H216.98V701.73H220.14V702.52H223.31V703.31H226.48V704.10H229.64V704.89H232.81V705.68H235.98V706.47H237.83V707.26H239.67V708.05H241.52V708.84H243.37V709.63H245.21V710.42H247.06V711.21H248.90V712.00H251.80V712.79H254.83V713.58H257.86V714.37H260.89V715.16H273.30" stroke="#e03030" stroke-width="0.9" fill="none"/>
<path d="M198.2,697.1h2.6M199.5,695.1v4M78.2,577.8h2.6M79.5,575.8v4M66.9,571.3h2.6M68.2,569.3v4M239.7,708.6h2.6M241.0,706.6v4M128.3,649.4h2.6M129.6,647.4v4M219.6,702.7h2.6M220.9,700.7v4M174.5,687.7h2.6M175.8,685.7v4M227.2,704.6h2.6M228.5,702.6v4M197.3,696.9h2.6M198.6,694.9v4M266.4,715.6h2.6M267.7,713.6v4M163.1,683.4h2.6M164.4,681.4v4M241.6,709.4h2.6M242.9,707.4v4M235.1,706.6h2.6M236.4,704.6v4M186.3,694.5h2.6M187.6,692.5v4M169.7,685.8h2.6M171.0,683.8v4M153.9,675.5h2.6M155.2,673.5v4M198.6,697.1h2.6M199.9,695.1v4M105.3,617.4h2.6M106.6,615.4v4M155.7,676.9h2.6M157.0,674.9v4M198.8,697.2h2.6M200.1,695.2v4M128.4,649.5h2.6M129.7,647.5v4M109.6,625.0h2.6M110.9,623.0v4M86.7,586.3h2.6M88.0,584.3v4M231.5,705.7h2.6M232.8,703.7v4M246.2,711.4h2.6M247.5,709.4v4M237.6,707.7h2.6M238.9,705.7v4M211.2,700.4h2.6M212.5,698.4v4M190.0,695.6h2.6M191.3,693.6v4M76.7,577.0h2.6M78.0,575.0v4M247.3,711.9h2.6M248.6,709.9v4M162.9,683.3h2.6M164.2,681.3v4M207.0,699.2h2.6M208.3,697.2v4M89.8,590.3h2.6M91.1,588.3v4M219.3,702.6h2.6M220.6,700.6v4M95.1,598.8h2.6M96.4,596.8v4M263.4,715.6h2.6M264.7,713.6v4M212.0,700.7h2.6M213.3,698.7v4M174.7,687.8h2.6M176.0,685.8v4M200.1,697.4h2.6M201.4,695.4v4M112.3,629.7h2.6M113.6,627.7v4M168.2,685.2h2.6M169.5,683.2v4M82.5,580.8h2.6M83.8,578.8v4M122.6,642.9h2.6M123.9,640.9v4M123.9,644.2h2.6M125.2,642.2v4M98.9,605.9h2.6M100.2,603.9v4M151.0,673.2h2.6M152.3,671.2v4M77.8,577.6h2.6M79.1,575.6v4M70.0,573.5h2.6M71.3,571.5v4M133.7,656.2h2.6M135.0,654.2v4M270.2,715.6h2.6M271.5,713.6v4M215.4,701.7h2.6M216.7,699.7v4M153.4,675.1h2.6M154.7,673.1v4M106.0,618.7h2.6M107.3,616.7v4M89.9,590.4h2.6M91.2,588.4v4M151.0,673.3h2.6M152.3,671.3v4M200.1,697.4h2.6M201.4,695.4v4M236.0,707.0h2.6M237.3,705.0v4M160.6,682.4h2.6M161.9,680.4v4M241.3,709.3h2.6M242.6,707.3v4M232.9,706.0h2.6M234.2,704.0v4M240.8,709.1h2.6M242.1,707.1v4M133.5,656.0h2.6M134.8,654.0v4M161.5,682.8h2.6M162.8,680.8v4M97.9,604.0h2.6M99.2,602.0v4M185.9,694.2h2.6M187.2,692.2v4M73.5,575.3h2.6M74.8,573.3v4M162.0,683.0h2.6M163.3,681.0v4M98.6,605.3h2.6M99.9,603.3v4M163.7,683.6h2.6M165.0,681.6v4M102.3,612.1h2.6M103.6,610.1v4M65.0,569.4h2.6M66.3,567.4v4M152.1,674.1h2.6M153.4,672.1v4M153.5,675.2h2.6M154.8,673.2v4M176.9,689.1h2.6M178.2,687.1v4M90.5,591.3h2.6M91.8,589.3v4M112.9,630.7h2.6M114.2,628.7v4M93.7,596.1h2.6M95.0,594.1v4M72.6,574.9h2.6M73.9,572.9v4M104.4,615.9h2.6M105.7,613.9v4M129.2,650.5h2.6M130.5,648.5v4M94.0,596.7h2.6M95.3,594.7v4M133.7,656.3h2.6M135.0,654.3v4M141.0,665.5h2.6M142.3,663.5v4M66.1,570.4h2.6M67.4,568.4v4M85.6,584.7h2.6M86.9,582.7v4M92.1,593.4h2.6M93.4,591.4v4M122.0,642.1h2.6M123.3,640.1v4M111.8,628.8h2.6M113.1,626.8v4M119.7,639.5h2.6M121.0,637.5v4M71.8,574.5h2.6M73.1,572.5v4M92.5,593.9h2.6M93.8,591.9v4M80.3,578.9h2.6M81.6,576.9v4M136.9,660.3h2.6M138.2,658.3v4M130.8,652.6h2.6M132.1,650.6v4M94.2,597.1h2.6M95.5,595.1v4M149.5,672.1h2.6M150.8,670.1v4M77.8,577.6h2.6M79.1,575.6v4M66.4,570.8h2.6M67.7,568.8v4M100.8,609.4h2.6M102.1,607.4v4M129.4,650.7h2.6M130.7,648.7v4M156.2,677.3h2.6M157.5,675.3v4M113.9,632.4h2.6M115.2,630.4v4M77.9,577.6h2.6M79.2,575.6v4M122.5,642.7h2.6M123.8,640.7v4M66.3,570.7h2.6M67.6,568.7v4M143.8,667.7h2.6M145.1,665.7v4M95.9,600.2h2.6M97.2,598.2v4M74.6,575.9h2.6M75.9,573.9v4M79.1,578.3h2.6M80.4,576.3v4M144.9,668.5h2.6M146.2,666.5v4M152.4,674.3h2.6M153.7,672.3v4M82.6,580.8h2.6M83.9,578.8v4M161.3,682.7h2.6M162.6,680.7v4M147.9,670.9h2.6M149.2,668.9v4M96.6,601.5h2.6M97.9,599.5v4M69.6,573.3h2.6M70.9,571.3v4M79.3,578.4h2.6M80.6,576.4v4M106.9,620.3h2.6M108.2,618.3v4M84.6,583.5h2.6M85.9,581.5v4M82.3,580.5h2.6M83.6,578.5v4M91.1,592.0h2.6M92.4,590.0v4M149.6,672.2h2.6M150.9,670.2v4M68.2,572.6h2.6M69.5,570.6v4M153.9,675.5h2.6M155.2,673.5v4M108.2,622.4h2.6M109.5,620.4v4M136.1,659.3h2.6M137.4,657.3v4M114.2,633.0h2.6M115.5,631.0v4M156.2,677.3h2.6M157.5,675.3v4M82.2,580.4h2.6M83.5,578.4v4M89.4,589.8h2.6M90.7,587.8v4M113.9,632.4h2.6M115.2,630.4v4M113.8,632.3h2.6M115.1,630.3v4M96.7,601.8h2.6M98.0,599.8v4M94.2,597.2h2.6M95.5,595.2v4M73.3,575.3h2.6M74.6,573.3v4M113.3,631.4h2.6M114.6,629.4v4M145.1,668.7h2.6M146.4,666.7v4M148.6,671.4h2.6M149.9,669.4v4M104.8,616.6h2.6M106.1,614.6v4M159.5,682.0h2.6M160.8,680.0v4M158.2,680.8h2.6M159.5,678.8v4M95.6,599.7h2.6M96.9,597.7v4M76.0,576.6h2.6M77.3,574.6v4M145.5,669.1h2.6M146.8,667.1v4M155.7,676.9h2.6M157.0,674.9v4M127.5,648.4h2.6M128.8,646.4v4M158.0,680.2h2.6M159.3,678.2v4M110.9,627.2h2.6M112.2,625.2v4M115.4,634.6h2.6M116.7,632.6v4M71.9,574.5h2.6M73.2,572.5v4M100.5,608.8h2.6M101.8,606.8v4M154.1,675.7h2.6M155.4,673.7v4M74.7,576.0h2.6M76.0,574.0v4M78.0,577.7h2.6M79.3,575.7v4M67.9,572.3h2.6M69.2,570.3v4M112.7,630.3h2.6M114.0,628.3v4M123.1,643.3h2.6M124.4,641.3v4M116.2,635.6h2.6M117.5,633.6v4M149.7,672.3h2.6M151.0,670.3v4M130.5,652.2h2.6M131.8,650.2v4M126.3,647.0h2.6M127.6,645.0v4M123.0,643.3h2.6M124.3,641.3v4M113.6,632.0h2.6M114.9,630.0v4M71.9,574.5h2.6M73.2,572.5v4M74.1,575.7h2.6M75.4,573.7v4M127.0,647.8h2.6M128.3,645.8v4M85.2,584.3h2.6M86.5,582.3v4M104.9,616.7h2.6M106.2,614.7v4M127.3,648.1h2.6M128.6,646.1v4M122.7,642.9h2.6M124.0,640.9v4M88.3,588.4h2.6M89.6,586.4v4M90.6,591.3h2.6M91.9,589.3v4M78.3,577.9h2.6M79.6,575.9v4M128.8,650.0h2.6M130.1,648.0v4M134.3,657.0h2.6M135.6,655.0v4M77.5,577.4h2.6M78.8,575.4v4M90.9,591.7h2.6M92.2,589.7v4M79.1,578.3h2.6M80.4,576.3v4M123.9,644.3h2.6M125.2,642.3v4M93.3,595.5h2.6M94.6,593.5v4M148.8,671.6h2.6M150.1,669.6v4M90.5,591.2h2.6M91.8,589.2v4M127.0,647.8h2.6M128.3,645.8v4M126.2,646.9h2.6M127.5,644.9v4M155.8,677.0h2.6M157.1,675.0v4M134.6,657.4h2.6M135.9,655.4v4M155.0,676.3h2.6M156.3,674.3v4M121.2,641.2h2.6M122.5,639.2v4M65.0,569.4h2.6M66.3,567.4v4M96.3,601.0h2.6M97.6,599.0v4M136.3,659.6h2.6M137.6,657.6v4M97.9,603.9h2.6M99.2,601.9v4M128.4,649.4h2.6M129.7,647.4v4M76.1,576.7h2.6M77.4,574.7v4M127.3,648.1h2.6M128.6,646.1v4M102.0,611.5h2.6M103.3,609.5v4M156.2,677.3h2.6M157.5,675.3v4M71.6,574.4h2.6M72.9,572.4v4M99.6,607.1h2.6M100.9,605.1v4M138.9,662.9h2.6M140.2,660.9v4M102.6,612.8h2.6M103.9,610.8v4M109.4,624.7h2.6M110.7,622.7v4M97.0,602.4h2.6M98.3,600.4v4M74.1,575.7h2.6M75.4,573.7v4M95.7,599.8h2.6M97.0,597.8v4" stroke="#e03030" stroke-width="0.85" fill="none"/>
<line x1="69.6" y1="733.8" x2="81.6" y2="733.8" stroke="#555" stroke-width="1"/>
<line x1="69.6" y1="742.5" x2="81.6" y2="742.5" stroke="#e04848" stroke-width="0.9"/>
<text x="83.13" y="735.70" font-size="9.3" textLength="17.77" lengthAdjust="spacingAndGlyphs" fill="#111" stroke="#111" stroke-width="0.12">Low</text>
<text x="106.65" y="735.70" font-size="9.3" textLength="27.93" lengthAdjust="spacingAndGlyphs" fill="#111" stroke="#111" stroke-width="0.12">n=553</text>
<text x="83.14" y="744.90" font-size="9.3" textLength="19.44" lengthAdjust="spacingAndGlyphs" fill="#111" stroke="#111" stroke-width="0.12">High</text>
<text x="109.00" y="744.90" font-size="9.3" textLength="26.11" lengthAdjust="spacingAndGlyphs" fill="#111" stroke="#111" stroke-width="0.12">n=551</text>
<path d="M441.3,563.2 H666.0" stroke="#808080" stroke-width="1.4" fill="none"/>
<path d="M666.0,563.2 V750.9" stroke="#9c9c9c" stroke-width="1.3" fill="none"/>
<path d="M441.3,563.2 V750.9 H666.0" stroke="#666" stroke-width="1.1" fill="none"/>
<line x1="437.10" y1="744.20" x2="441.3" y2="744.20" stroke="#666" stroke-width="1"/>
<text x="417.47" y="748.50" font-size="12.8" textLength="17.17" lengthAdjust="spacingAndGlyphs" fill="#111" stroke="#111" stroke-width="0.12">0.0</text>
<line x1="437.10" y1="709.38" x2="441.3" y2="709.38" stroke="#666" stroke-width="1"/>
<text x="417.46" y="713.68" font-size="12.8" textLength="17.30" lengthAdjust="spacingAndGlyphs" fill="#111" stroke="#111" stroke-width="0.12">0.2</text>
<line x1="437.10" y1="674.56" x2="441.3" y2="674.56" stroke="#666" stroke-width="1"/>
<text x="417.47" y="678.86" font-size="12.8" textLength="17.04" lengthAdjust="spacingAndGlyphs" fill="#111" stroke="#111" stroke-width="0.12">0.4</text>
<line x1="437.10" y1="639.74" x2="441.3" y2="639.74" stroke="#666" stroke-width="1"/>
<text x="417.47" y="644.04" font-size="12.8" textLength="17.23" lengthAdjust="spacingAndGlyphs" fill="#111" stroke="#111" stroke-width="0.12">0.6</text>
<line x1="437.10" y1="604.92" x2="441.3" y2="604.92" stroke="#666" stroke-width="1"/>
<text x="417.47" y="609.22" font-size="12.8" textLength="17.23" lengthAdjust="spacingAndGlyphs" fill="#111" stroke="#111" stroke-width="0.12">0.8</text>
<line x1="437.10" y1="570.10" x2="441.3" y2="570.10" stroke="#666" stroke-width="1"/>
<text x="416.94" y="574.40" font-size="12.8" textLength="17.70" lengthAdjust="spacingAndGlyphs" fill="#111" stroke="#111" stroke-width="0.12">1.0</text>
<line x1="449.70" y1="750.9" x2="449.70" y2="755.4" stroke="#666" stroke-width="1"/>
<text x="446.20" y="766.10" font-size="12.6" fill="#111" stroke="#111" stroke-width="0.12">0</text>
<line x1="484.37" y1="750.9" x2="484.37" y2="755.4" stroke="#666" stroke-width="1"/>
<text x="477.12" y="766.10" font-size="12.6" fill="#111" stroke="#111" stroke-width="0.12">10</text>
<line x1="519.04" y1="750.9" x2="519.04" y2="755.4" stroke="#666" stroke-width="1"/>
<text x="511.95" y="766.10" font-size="12.6" fill="#111" stroke="#111" stroke-width="0.12">20</text>
<line x1="553.71" y1="750.9" x2="553.71" y2="755.4" stroke="#666" stroke-width="1"/>
<text x="546.72" y="766.10" font-size="12.6" fill="#111" stroke="#111" stroke-width="0.12">30</text>
<line x1="588.38" y1="750.9" x2="588.38" y2="755.4" stroke="#666" stroke-width="1"/>
<text x="581.48" y="766.10" font-size="12.6" fill="#111" stroke="#111" stroke-width="0.12">40</text>
<line x1="623.05" y1="750.9" x2="623.05" y2="755.4" stroke="#666" stroke-width="1"/>
<text x="616.03" y="766.10" font-size="12.6" fill="#111" stroke="#111" stroke-width="0.12">50</text>
<line x1="657.72" y1="750.9" x2="657.72" y2="755.4" stroke="#666" stroke-width="1"/>
<text x="650.63" y="766.10" font-size="12.6" fill="#111" stroke="#111" stroke-width="0.12">60</text>
<text x="530.54" y="777.40" font-size="12.8" textLength="43.31" lengthAdjust="spacingAndGlyphs" fill="#111" stroke="#111" stroke-width="0.12">months</text>
<text transform="translate(413.00,656.30) rotate(-90)" x="-46.60" y="0" font-size="13.2" textLength="93.43" lengthAdjust="spacingAndGlyphs" fill="#111" stroke="#111" stroke-width="0.12">Overall Survival</text>
<text x="567.91" y="580.00" font-size="9.4" textLength="88.06" lengthAdjust="spacingAndGlyphs" fill="#111" stroke="#111" stroke-width="0.12">HR=1.28(1.09-1.51)</text>
<text x="573.06" y="595.90" font-size="9.4" textLength="77.46" lengthAdjust="spacingAndGlyphs" fill="#111" stroke="#111" stroke-width="0.12">logrank P=0.0026</text>
<path d="M449.70,570.10H455.46V570.88H461.22V571.67H466.56V572.45H468.58V573.23H470.59V574.02H472.60V574.80H474.62V575.58H476.63V576.37H478.64V577.15H480.52V577.93H481.93V578.72H483.33V579.50H484.73V580.28H486.14V581.07H487.54V581.85H488.95V582.64H490.35V583.42H491.75V584.20H493.03V584.99H494.05V585.77H495.06V586.55H496.08V587.34H497.10V588.12H498.12V588.90H499.13V589.69H500.15V590.47H501.17V591.25H502.19V592.04H503.21V592.82H504.25V593.60H505.29V594.39H506.33V595.17H507.37V595.95H508.41V596.74H509.45V597.52H510.49V598.30H511.53V599.09H512.57V599.87H513.61V600.65H514.69V601.44H515.76V602.22H516.84V603.00H517.91V603.79H518.98V604.57H520.06V605.36H521.13V606.14H522.21V606.92H523.28V607.71H524.41V608.49H525.93V609.27H527.45V610.06H528.97V610.84H530.50V611.62H532.02V612.41H533.54V613.19H535.06V613.97H536.58V614.76H538.11V615.54H539.28V616.32H540.45V617.11H541.62V617.89H542.79V618.67H543.96V619.46H545.13V620.24H546.30V621.02H547.47V621.81H548.67V622.59H550.10V623.37H551.53V624.16H552.96V624.94H554.39V625.72H555.82V626.51H557.25V627.29H558.68V628.08H560.08V628.86H561.22V629.64H562.36V630.43H563.51V631.21H564.65V631.99H565.80V632.78H566.94V633.56H568.18V634.34H569.53V635.13H570.89V635.91H572.25V636.69H573.60V637.48H574.96V638.26H576.32V639.04H577.67V639.83H579.03V640.61H580.39V641.39H582.01V642.18H584.58V642.96H587.14V643.74H589.71V644.53H592.28V645.31H594.84V646.09H597.41V646.88H599.64V647.66H601.20V648.44H602.76V649.23H604.32V650.01H605.88V650.80H607.13V651.58H608.34V652.36H609.55V653.15H610.76V653.93H611.97V654.71H613.18V655.50H614.39V656.28H615.60V657.06H616.81V657.85H618.71V658.63H620.61V659.41H622.51V660.20H624.41V660.98H626.32V661.76H628.22V662.55H630.12V663.33H632.02V664.11H633.93V664.90H636.03V665.68H638.16V666.46H640.30V667.25H642.43V668.03H644.56V668.81H646.69V669.60H648.97V670.38H651.78V671.17H654.59V671.95H657.40V672.73H657.72" stroke="#222" stroke-width="0.9" fill="none"/>
<path d="M479.4,578.0h2.6M480.7,576.0v4M492.8,585.8h2.6M494.1,583.8v4M490.7,584.3h2.6M492.0,582.3v4M458.6,571.5h2.6M459.9,569.5v4M493.6,586.4h2.6M494.9,584.4v4M573.4,638.1h2.6M574.7,636.1v4M632.7,664.9h2.6M634.0,662.9v4M521.1,607.1h2.6M522.4,605.1v4M524.6,609.3h2.6M525.9,607.3v4M535.1,614.7h2.6M536.4,612.7v4M589.9,645.0h2.6M591.2,643.0v4M611.8,655.4h2.6M613.1,653.4v4M644.1,669.1h2.6M645.4,667.1v4M526.6,610.3h2.6M527.9,608.3v4M595.4,646.7h2.6M596.7,644.7v4M519.5,605.9h2.6M520.8,603.9v4M619.8,659.6h2.6M621.1,657.6v4M496.4,588.6h2.6M497.7,586.6v4M629.6,663.6h2.6M630.9,661.6v4M553.5,625.9h2.6M554.8,623.9v4M599.3,648.1h2.6M600.6,646.1v4M559.7,629.5h2.6M561.0,627.5v4M514.2,602.0h2.6M515.5,600.0v4M551.2,624.7h2.6M552.5,622.7v4M458.9,571.5h2.6M460.2,569.5v4M457.3,571.3h2.6M458.6,569.3v4M558.6,628.8h2.6M559.9,626.8v4M547.7,622.8h2.6M549.0,620.8v4M621.7,660.4h2.6M623.0,658.4v4M452.6,570.7h2.6M453.9,568.7v4M564.2,632.6h2.6M565.5,630.6v4M550.5,624.3h2.6M551.8,622.3v4M572.8,637.8h2.6M574.1,635.8v4M600.2,648.6h2.6M601.5,646.6v4M557.6,628.2h2.6M558.9,626.2v4M565.5,633.5h2.6M566.8,631.5v4M550.7,624.4h2.6M552.0,622.4v4M576.4,639.8h2.6M577.7,637.8v4M500.0,591.4h2.6M501.3,589.4v4M563.4,632.0h2.6M564.7,630.0v4M588.3,644.5h2.6M589.6,642.5v4M488.2,582.9h2.6M489.5,580.9v4M654.4,672.3h2.6M655.7,670.3v4M603.7,650.3h2.6M605.0,648.3v4M647.1,670.2h2.6M648.4,668.2v4M509.5,598.6h2.6M510.8,596.6v4M540.7,618.1h2.6M542.0,616.1v4M502.8,593.5h2.6M504.1,591.5v4M458.1,571.4h2.6M459.4,569.4v4M451.9,570.6h2.6M453.2,568.6v4M499.7,591.1h2.6M501.0,589.1v4M627.6,662.8h2.6M628.9,660.8v4M482.5,579.7h2.6M483.8,577.7v4M591.9,645.6h2.6M593.2,643.6v4M500.3,591.6h2.6M501.6,589.6v4M462.0,572.0h2.6M463.3,570.0v4M488.4,583.1h2.6M489.7,581.1v4M589.4,644.8h2.6M590.7,642.8v4M552.8,625.5h2.6M554.1,623.5v4M562.6,631.5h2.6M563.9,629.5v4M542.7,619.5h2.6M544.0,617.5v4M505.5,595.5h2.6M506.8,593.5v4M550.0,624.0h2.6M551.3,622.0v4M640.3,667.7h2.6M641.6,665.7v4M490.3,584.1h2.6M491.6,582.1v4M600.8,648.9h2.6M602.1,646.9v4M500.6,591.8h2.6M501.9,589.8v4M488.6,583.2h2.6M489.9,581.2v4M515.8,603.2h2.6M517.1,601.2v4M467.7,573.4h2.6M469.0,571.4v4M643.0,668.7h2.6M644.3,666.7v4M524.4,609.1h2.6M525.7,607.1v4M485.0,581.1h2.6M486.3,579.1v4M448.4,570.1h2.6M449.7,568.1v4M461.0,571.8h2.6M462.3,569.8v4M493.1,586.0h2.6M494.4,584.0v4M535.3,614.8h2.6M536.6,612.8v4M573.5,638.2h2.6M574.8,636.2v4M652.5,671.7h2.6M653.8,669.7v4M633.6,665.3h2.6M634.9,663.3v4M498.8,590.4h2.6M500.1,588.4v4M575.6,639.4h2.6M576.9,637.4v4M640.1,667.7h2.6M641.4,665.7v4M469.5,574.1h2.6M470.8,572.1v4M626.1,662.2h2.6M627.4,660.2v4M530.8,612.4h2.6M532.1,610.4v4M611.0,654.9h2.6M612.3,652.9v4M515.5,603.0h2.6M516.8,601.0v4M578.6,641.1h2.6M579.9,639.1v4M553.9,626.2h2.6M555.2,624.2v4M470.1,574.3h2.6M471.4,572.3v4M606.5,652.0h2.6M607.8,650.0v4M619.6,659.5h2.6M620.9,657.5v4M548.9,623.4h2.6M550.2,621.4v4M529.1,611.6h2.6M530.4,609.6v4M645.5,669.6h2.6M646.8,667.6v4M526.3,610.1h2.6M527.6,608.1v4M631.4,664.4h2.6M632.7,662.4v4M535.5,614.9h2.6M536.8,612.9v4M526.1,610.0h2.6M527.4,608.0v4M523.6,608.7h2.6M524.9,606.7v4M460.9,571.8h2.6M462.2,569.8v4M506.1,596.0h2.6M507.4,594.0v4M496.1,588.4h2.6M497.4,586.4v4M461.4,571.9h2.6M462.7,569.9v4M561.1,630.4h2.6M562.4,628.4v4M540.4,617.9h2.6M541.7,615.9v4M453.6,570.8h2.6M454.9,568.8v4M480.8,578.8h2.6M482.1,576.8v4M639.5,667.4h2.6M640.8,665.4v4M476.2,576.7h2.6M477.5,574.7v4M526.1,610.0h2.6M527.4,608.0v4M646.2,669.9h2.6M647.5,667.9v4M472.0,575.1h2.6M473.3,573.1v4M533.7,613.9h2.6M535.0,611.9v4M615.0,657.5h2.6M616.3,655.5v4M452.4,570.6h2.6M453.7,568.6v4M462.5,572.0h2.6M463.8,570.0v4M641.8,668.3h2.6M643.1,666.3v4M590.7,645.2h2.6M592.0,643.2v4M502.7,593.4h2.6M504.0,591.4v4M548.3,623.1h2.6M549.6,621.1v4M500.2,591.5h2.6M501.5,589.5v4M634.0,665.4h2.6M635.3,663.4v4M646.0,669.8h2.6M647.3,667.8v4M463.2,572.1h2.6M464.5,570.1v4M557.4,628.1h2.6M558.7,626.1v4M486.7,582.1h2.6M488.0,580.1v4M532.5,613.3h2.6M533.8,611.3v4M602.6,649.8h2.6M603.9,647.8v4M485.5,581.4h2.6M486.8,579.4v4M458.3,571.4h2.6M459.6,569.4v4M465.7,572.6h2.6M467.0,570.6v4M470.5,574.5h2.6M471.8,572.5v4M468.5,573.7h2.6M469.8,571.7v4M483.9,580.5h2.6M485.2,578.5v4M489.4,583.6h2.6M490.7,581.6v4M465.8,572.7h2.6M467.1,570.7v4M471.3,574.8h2.6M472.6,572.8v4M451.9,570.6h2.6M453.2,568.6v4M467.5,573.3h2.6M468.8,571.3v4M497.6,589.5h2.6M498.9,587.5v4M474.5,576.1h2.6M475.8,574.1v4M477.4,577.2h2.6M478.7,575.2v4M479.9,578.3h2.6M481.2,576.3v4M477.9,577.4h2.6M479.2,575.4v4M490.2,584.1h2.6M491.5,582.1v4M461.9,571.9h2.6M463.2,569.9v4M464.9,572.3h2.6M466.2,570.3v4M494.5,587.1h2.6M495.8,585.1v4M474.4,576.0h2.6M475.7,574.0v4M498.3,590.1h2.6M499.6,588.1v4M455.6,571.1h2.6M456.9,569.1v4M489.1,583.5h2.6M490.4,581.5v4M473.0,575.5h2.6M474.3,573.5v4M473.0,575.5h2.6M474.3,573.5v4M494.2,586.9h2.6M495.5,584.9v4M455.2,571.0h2.6M456.5,569.0v4M475.2,576.3h2.6M476.5,574.3v4M461.4,571.9h2.6M462.7,569.9v4M466.2,572.8h2.6M467.5,570.8v4M490.9,584.5h2.6M492.2,582.5v4M469.1,573.9h2.6M470.4,571.9v4M489.2,583.5h2.6M490.5,581.5v4M449.1,570.2h2.6M450.4,568.2v4M500.4,591.6h2.6M501.7,589.6v4M498.1,589.9h2.6M499.4,587.9v4M483.7,580.4h2.6M485.0,578.4v4M458.6,571.5h2.6M459.9,569.5v4M482.6,579.8h2.6M483.9,577.8v4M458.3,571.4h2.6M459.6,569.4v4M467.8,573.4h2.6M469.1,571.4v4M450.2,570.3h2.6M451.5,568.3v4M452.1,570.6h2.6M453.4,568.6v4M456.6,571.2h2.6M457.9,569.2v4M457.9,571.4h2.6M459.2,569.4v4M492.0,585.2h2.6M493.3,583.2v4M461.1,571.8h2.6M462.4,569.8v4M491.3,584.7h2.6M492.6,582.7v4M448.7,570.1h2.6M450.0,568.1v4M451.4,570.5h2.6M452.7,568.5v4M451.6,570.5h2.6M452.9,568.5v4M496.9,588.9h2.6M498.2,586.9v4M490.9,584.5h2.6M492.2,582.5v4M449.2,570.2h2.6M450.5,568.2v4M496.8,588.9h2.6M498.1,586.9v4M460.2,571.7h2.6M461.5,569.7v4M462.2,572.0h2.6M463.5,570.0v4M478.8,577.7h2.6M480.1,575.7v4M459.0,571.5h2.6M460.3,569.5v4M499.1,590.7h2.6M500.4,588.7v4M467.4,573.3h2.6M468.7,571.3v4M478.1,577.4h2.6M479.4,575.4v4M478.2,577.5h2.6M479.5,575.5v4M463.0,572.1h2.6M464.3,570.1v4M486.6,582.1h2.6M487.9,580.1v4M500.0,591.4h2.6M501.3,589.4v4M479.4,578.0h2.6M480.7,576.0v4M452.8,570.7h2.6M454.1,568.7v4M490.4,584.2h2.6M491.7,582.2v4M483.1,580.1h2.6M484.4,578.1v4M473.9,575.8h2.6M475.2,573.8v4M482.4,579.7h2.6M483.7,577.7v4M462.0,571.9h2.6M463.3,569.9v4M464.2,572.2h2.6M465.5,570.2v4M475.2,576.3h2.6M476.5,574.3v4M452.0,570.6h2.6M453.3,568.6v4M479.0,577.8h2.6M480.3,575.8v4M457.9,571.4h2.6M459.2,569.4v4M461.6,571.9h2.6M462.9,569.9v4" stroke="#222" stroke-width="0.85" fill="none"/>
<path d="M449.70,570.62H452.20V571.41H454.69V572.19H457.19V572.97H459.68V573.76H462.18V574.54H464.68V575.32H467.18V576.11H469.70V576.89H472.21V577.67H474.73V578.46H477.24V579.24H479.76V580.02H482.28V580.81H484.23V581.59H485.49V582.37H486.74V583.16H488.00V583.94H489.25V584.72H490.50V585.51H491.76V586.29H493.01V587.07H494.27V587.86H495.52V588.64H496.78V589.43H498.00V590.21H499.01V590.99H500.01V591.78H501.01V592.56H502.01V593.34H503.02V594.13H504.02V594.91H505.02V595.69H506.03V596.48H507.03V597.26H508.03V598.04H509.03V598.83H510.04V599.61H511.04V600.39H512.04V601.18H513.05V601.96H514.13V602.74H515.27V603.53H516.41V604.31H517.55V605.09H518.70V605.88H519.84V606.66H520.98V607.44H522.12V608.23H523.26V609.01H524.41V609.79H525.55V610.58H526.69V611.36H527.84V612.15H529.09V612.93H530.34V613.71H531.59V614.50H532.84V615.28H534.09V616.06H535.33V616.85H536.58V617.63H537.83V618.41H539.08V619.20H540.33V619.98H541.57V620.76H543.28V621.55H544.99V622.33H546.70V623.11H548.41V623.90H550.09V624.68H551.70V625.46H553.31V626.25H554.93V627.03H556.54V627.81H558.15V628.60H559.77V629.38H560.77V630.16H561.70V630.95H562.63V631.73H563.56V632.51H564.48V633.30H565.41V634.08H566.34V634.87H567.27V635.65H568.27V636.43H569.31V637.22H570.35V638.00H571.39V638.78H572.43V639.57H573.47V640.35H574.51V641.13H575.55V641.92H576.59V642.70H577.63V643.48H578.67V644.27H579.71V645.05H580.75V645.83H581.79V646.62H582.83V647.40H583.87V648.18H584.91V648.97H586.18V649.75H587.45V650.53H588.72V651.32H590.00V652.10H591.27V652.88H592.54V653.67H593.81V654.45H595.08V655.23H596.35V656.02H597.62V656.80H598.89V657.59H600.16V658.37H601.44V659.15H602.71V659.94H603.98V660.72H605.25V661.50H606.52V662.29H607.79V663.07H609.20V663.85H610.61V664.64H612.01V665.42H613.42V666.20H614.83V666.99H616.23V667.77H617.64V668.55H619.05V669.34H620.46V670.12H621.86V670.90H623.27V671.69H625.12V672.47H627.20V673.25H629.28V674.04H631.36V674.82H633.45V675.60H635.53V676.39H637.61V677.17H639.38V677.95H641.15V678.74H642.93V679.52H644.70V680.31H646.48V681.09H648.25V681.87H650.03V682.66H651.80V683.44H653.57V684.22H655.35V685.01H657.12V685.79H657.72" stroke="#e03030" stroke-width="0.9" fill="none"/>
<path d="M464.1,575.6h2.6M465.4,573.6v4M518.9,606.9h2.6M520.2,604.9v4M478.7,580.1h2.6M480.0,578.1v4M532.4,615.8h2.6M533.7,613.8v4M532.7,616.0h2.6M534.0,614.0v4M498.4,591.6h2.6M499.7,589.6v4M535.6,617.8h2.6M536.9,615.8v4M590.2,653.0h2.6M591.5,651.0v4M568.5,637.6h2.6M569.8,635.6v4M499.0,592.0h2.6M500.3,590.0v4M596.4,656.8h2.6M597.7,654.8v4M595.9,656.5h2.6M597.2,654.5v4M536.1,618.2h2.6M537.4,616.2v4M544.0,622.5h2.6M545.3,620.5v4M484.4,582.5h2.6M485.7,580.5v4M622.0,671.7h2.6M623.3,669.7v4M522.6,609.4h2.6M523.9,607.4v4M509.3,600.1h2.6M510.6,598.1v4M641.6,679.5h2.6M642.9,677.5v4M511.9,602.1h2.6M513.2,600.1v4M489.6,585.7h2.6M490.9,583.7v4M528.0,613.0h2.6M529.3,611.0v4M555.7,628.0h2.6M557.0,626.0v4M576.2,643.4h2.6M577.5,641.4v4M531.3,615.1h2.6M532.6,613.1v4M590.7,653.4h2.6M592.0,651.4v4M453.2,572.1h2.6M454.5,570.1v4M641.1,679.3h2.6M642.4,677.3v4M544.3,622.6h2.6M545.6,620.6v4M541.7,621.4h2.6M543.0,619.4v4M541.3,621.2h2.6M542.6,619.2v4M505.8,597.3h2.6M507.1,595.3v4M617.9,669.4h2.6M619.2,667.4v4M542.6,621.8h2.6M543.9,619.8v4M468.3,576.9h2.6M469.6,574.9v4M521.2,608.5h2.6M522.5,606.5v4M549.3,624.9h2.6M550.6,622.9v4M523.2,609.9h2.6M524.5,607.9v4M469.7,577.3h2.6M471.0,575.3v4M633.3,676.0h2.6M634.6,674.0v4M479.8,580.4h2.6M481.1,578.4v4M600.1,659.1h2.6M601.4,657.1v4M536.7,618.5h2.6M538.0,616.5v4M551.5,626.0h2.6M552.8,624.0v4M589.3,652.4h2.6M590.6,650.4v4M451.9,571.7h2.6M453.2,569.7v4M550.2,625.4h2.6M551.5,623.4v4M543.9,622.4h2.6M545.2,620.4v4M537.6,619.1h2.6M538.9,617.1v4M448.6,570.7h2.6M449.9,568.7v4M450.7,571.4h2.6M452.0,569.4v4M550.3,625.4h2.6M551.6,623.4v4M543.2,622.1h2.6M544.5,620.1v4M518.0,606.3h2.6M519.3,604.3v4M472.6,578.2h2.6M473.9,576.2v4M524.1,610.5h2.6M525.4,608.5v4M588.4,651.9h2.6M589.7,649.9v4M618.9,670.0h2.6M620.2,668.0v4M607.4,663.6h2.6M608.7,661.6v4M448.8,570.7h2.6M450.1,568.7v4M518.8,606.9h2.6M520.1,604.9v4M550.2,625.3h2.6M551.5,623.3v4M617.8,669.4h2.6M619.1,667.4v4M565.9,635.5h2.6M567.2,633.5v4M615.2,667.9h2.6M616.5,665.9v4M591.8,654.0h2.6M593.1,652.0v4M463.5,575.4h2.6M464.8,573.4v4M652.5,684.3h2.6M653.8,682.3v4M564.4,634.3h2.6M565.7,632.3v4M574.0,641.7h2.6M575.3,639.7v4M502.3,594.6h2.6M503.6,592.6v4M636.3,677.1h2.6M637.6,675.1v4M656.1,685.9h2.6M657.4,683.9v4M519.7,607.5h2.6M521.0,605.5v4M550.1,625.3h2.6M551.4,623.3v4M461.6,574.8h2.6M462.9,572.8v4M607.2,663.5h2.6M608.5,661.5v4M582.2,647.9h2.6M583.5,645.9v4M497.0,590.4h2.6M498.3,588.4v4M621.0,671.2h2.6M622.3,669.2v4M562.2,632.5h2.6M563.5,630.5v4M641.6,679.5h2.6M642.9,677.5v4M619.0,670.0h2.6M620.3,668.0v4M469.3,577.2h2.6M470.6,575.2v4M497.8,591.0h2.6M499.1,589.0v4M624.9,672.9h2.6M626.2,670.9v4M455.0,572.7h2.6M456.3,570.7v4M475.5,579.1h2.6M476.8,577.1v4M639.7,678.7h2.6M641.0,676.7v4M617.0,668.9h2.6M618.3,666.9v4M501.4,593.9h2.6M502.7,591.9v4M518.8,606.9h2.6M520.1,604.9v4M456.3,573.1h2.6M457.6,571.1v4M474.8,578.9h2.6M476.1,576.9v4M450.7,571.4h2.6M452.0,569.4v4M570.5,639.1h2.6M571.8,637.1v4M575.4,642.8h2.6M576.7,640.8v4M478.3,580.0h2.6M479.6,578.0v4M621.8,671.6h2.6M623.1,669.6v4M549.8,625.2h2.6M551.1,623.2v4M573.1,641.0h2.6M574.4,639.0v4M586.2,650.6h2.6M587.5,648.6v4M491.1,586.7h2.6M492.4,584.7v4M615.6,668.1h2.6M616.9,666.1v4M533.9,616.7h2.6M535.2,614.7v4M552.0,626.2h2.6M553.3,624.2v4M474.6,578.8h2.6M475.9,576.8v4M501.4,593.9h2.6M502.7,591.9v4M543.1,622.1h2.6M544.4,620.1v4M599.1,658.5h2.6M600.4,656.5v4M543.6,622.3h2.6M544.9,620.3v4M565.0,634.8h2.6M566.3,632.8v4M605.9,662.7h2.6M607.2,660.7v4M532.2,615.7h2.6M533.5,613.7v4M451.7,571.7h2.6M453.0,569.7v4M565.2,635.0h2.6M566.5,633.0v4M644.8,680.9h2.6M646.1,678.9v4M456.3,573.1h2.6M457.6,571.1v4M544.7,622.8h2.6M546.0,620.8v4M584.5,649.5h2.6M585.8,647.5v4M550.1,625.3h2.6M551.4,623.3v4M469.9,577.4h2.6M471.2,575.4v4M555.3,627.8h2.6M556.6,625.8v4M465.0,575.8h2.6M466.3,573.8v4M463.0,575.2h2.6M464.3,573.2v4M518.7,606.8h2.6M520.0,604.8v4M485.3,583.1h2.6M486.6,581.1v4M553.3,626.9h2.6M554.6,624.9v4M644.9,681.0h2.6M646.2,679.0v4M493.1,588.0h2.6M494.4,586.0v4M499.8,592.6h2.6M501.1,590.6v4M466.6,576.3h2.6M467.9,574.3v4M491.9,587.2h2.6M493.2,585.2v4M475.6,579.1h2.6M476.9,577.1v4M489.0,585.4h2.6M490.3,583.4v4M493.4,588.1h2.6M494.7,586.1v4M492.2,587.4h2.6M493.5,585.4v4M456.1,573.0h2.6M457.4,571.0v4M494.7,589.0h2.6M496.0,587.0v4M454.6,572.6h2.6M455.9,570.6v4M486.6,583.9h2.6M487.9,581.9v4M450.8,571.4h2.6M452.1,569.4v4M464.0,575.5h2.6M465.3,573.5v4M455.3,572.8h2.6M456.6,570.8v4M480.7,580.7h2.6M482.0,578.7v4M464.8,575.8h2.6M466.1,573.8v4M477.9,579.8h2.6M479.2,577.8v4M459.8,574.2h2.6M461.1,572.2v4M469.2,577.1h2.6M470.5,575.1v4M495.3,589.3h2.6M496.6,587.3v4M479.5,580.3h2.6M480.8,578.3v4M473.7,578.5h2.6M475.0,576.5v4M486.1,583.6h2.6M487.4,581.6v4M500.0,592.8h2.6M501.3,590.8v4M465.8,576.1h2.6M467.1,574.1v4M454.1,572.4h2.6M455.4,570.4v4M460.9,574.6h2.6M462.2,572.6v4M456.5,573.2h2.6M457.8,571.2v4M469.5,577.2h2.6M470.8,575.2v4M487.0,584.1h2.6M488.3,582.1v4M488.3,584.9h2.6M489.6,582.9v4M454.0,572.4h2.6M455.3,570.4v4M456.8,573.3h2.6M458.1,571.3v4M467.1,576.5h2.6M468.4,574.5v4M492.3,587.4h2.6M493.6,585.4v4M473.6,578.5h2.6M474.9,576.5v4M476.4,579.4h2.6M477.7,577.4v4M463.5,575.4h2.6M464.8,573.4v4M477.0,579.6h2.6M478.3,577.6v4M479.9,580.5h2.6M481.2,578.5v4M465.9,576.1h2.6M467.2,574.1v4M479.7,580.4h2.6M481.0,578.4v4M487.6,584.5h2.6M488.9,582.5v4M466.8,576.4h2.6M468.1,574.4v4M472.1,578.0h2.6M473.4,576.0v4M455.2,572.7h2.6M456.5,570.7v4M461.9,574.9h2.6M463.2,572.9v4M450.5,571.3h2.6M451.8,569.3v4M451.3,571.5h2.6M452.6,569.5v4M452.8,572.0h2.6M454.1,570.0v4M495.1,589.2h2.6M496.4,587.2v4M486.5,583.8h2.6M487.8,581.8v4M478.8,580.1h2.6M480.1,578.1v4M489.9,586.0h2.6M491.2,584.0v4M457.6,573.5h2.6M458.9,571.5v4M466.7,576.4h2.6M468.0,574.4v4M478.7,580.1h2.6M480.0,578.1v4M492.9,587.8h2.6M494.2,585.8v4M476.5,579.4h2.6M477.8,577.4v4M454.9,572.7h2.6M456.2,570.7v4M450.7,571.3h2.6M452.0,569.3v4M450.2,571.2h2.6M451.5,569.2v4M487.7,584.6h2.6M489.0,582.6v4M494.9,589.1h2.6M496.2,587.1v4M456.0,573.0h2.6M457.3,571.0v4M490.5,586.3h2.6M491.8,584.3v4M450.6,571.3h2.6M451.9,569.3v4M491.8,587.1h2.6M493.1,585.1v4M484.9,582.8h2.6M486.2,580.8v4M473.0,578.3h2.6M474.3,576.3v4M473.2,578.4h2.6M474.5,576.4v4M459.8,574.2h2.6M461.1,572.2v4M496.8,590.3h2.6M498.1,588.3v4M462.6,575.1h2.6M463.9,573.1v4M462.2,574.9h2.6M463.5,572.9v4M488.5,585.1h2.6M489.8,583.1v4M478.4,580.0h2.6M479.7,578.0v4M475.3,579.0h2.6M476.6,577.0v4M478.1,579.9h2.6M479.4,577.9v4M454.1,572.4h2.6M455.4,570.4v4M454.1,572.4h2.6M455.4,570.4v4M499.3,592.2h2.6M500.6,590.2v4M484.9,582.8h2.6M486.2,580.8v4M480.4,580.6h2.6M481.7,578.6v4M477.6,579.7h2.6M478.9,577.7v4M460.6,574.5h2.6M461.9,572.5v4M456.6,573.2h2.6M457.9,571.2v4M478.8,580.1h2.6M480.1,578.1v4M448.9,570.8h2.6M450.2,568.8v4M449.8,571.1h2.6M451.1,569.1v4" stroke="#e03030" stroke-width="0.85" fill="none"/>
<line x1="448.1" y1="735.4" x2="460.1" y2="735.4" stroke="#555" stroke-width="1"/>
<line x1="448.1" y1="743.1" x2="460.1" y2="743.1" stroke="#e04848" stroke-width="0.9"/>
<text x="463.62" y="737.50" font-size="9.3" textLength="17.98" lengthAdjust="spacingAndGlyphs" fill="#111" stroke="#111" stroke-width="0.12">Low</text>
<text x="487.15" y="737.50" font-size="9.3" textLength="27.40" lengthAdjust="spacingAndGlyphs" fill="#111" stroke="#111" stroke-width="0.12">n=611</text>
<text x="463.64" y="745.90" font-size="9.3" textLength="19.44" lengthAdjust="spacingAndGlyphs" fill="#111" stroke="#111" stroke-width="0.12">High</text>
<text x="488.84" y="745.90" font-size="9.3" textLength="28.55" lengthAdjust="spacingAndGlyphs" fill="#111" stroke="#111" stroke-width="0.12">n=596</text>
<text x="96.81" y="832.60" font-size="12.9" textLength="41.87" lengthAdjust="spacingAndGlyphs" fill="#000" stroke="#000" stroke-width="0.12">SK/Ola</text>
<line x1="70.4" y1="835.9" x2="164.9" y2="835.9" stroke="#000" stroke-width="1.4"/>
<text x="24.86" y="848.30" font-size="9.6" textLength="36.93" lengthAdjust="spacingAndGlyphs" fill="#000" stroke="#000" stroke-width="0.35">Olaparib</text>
<text x="76.17" y="849.70" font-size="12.9" textLength="6.77" lengthAdjust="spacingAndGlyphs" fill="#000" stroke="#000" stroke-width="0.12">0</text>
<text x="96.39" y="849.70" font-size="12.9" textLength="15.02" lengthAdjust="spacingAndGlyphs" fill="#000" stroke="#000" stroke-width="0.12">10</text>
<text x="122.31" y="849.70" font-size="12.9" textLength="15.30" lengthAdjust="spacingAndGlyphs" fill="#000" stroke="#000" stroke-width="0.12">20</text>
<text x="152.43" y="849.70" font-size="12.9" textLength="14.87" lengthAdjust="spacingAndGlyphs" fill="#000" stroke="#000" stroke-width="0.12">40</text>
<text x="172.94" y="849.70" font-size="12.9" textLength="18.60" lengthAdjust="spacingAndGlyphs" fill="#000" stroke="#000" stroke-width="0.12">µM</text>
<text x="18.42" y="875.30" font-size="12.8" textLength="42.05" lengthAdjust="spacingAndGlyphs" fill="#000" stroke="#000" stroke-width="0.12">SPHK1</text>
<text x="21.70" y="905.40" font-size="12.8" textLength="39.02" lengthAdjust="spacingAndGlyphs" fill="#000" stroke="#000" stroke-width="0.12">tubulin</text>
<text x="183.70" y="873.20" font-size="9.6" textLength="32.85" lengthAdjust="spacingAndGlyphs" fill="#000" stroke="#000" stroke-width="0.35">42 KDa</text>
<text x="183.51" y="904.90" font-size="9.6" textLength="32.24" lengthAdjust="spacingAndGlyphs" fill="#000" stroke="#000" stroke-width="0.35">55 KDa</text>
<rect x="62.7" y="854.3" width="119.5" height="29.5" fill="url(#gG1)"/>
<g filter="url(#b05)"><rect x="62.7" y="854.3" width="1.2" height="29.5" fill="#000" fill-opacity="0.028"/><rect x="66.7" y="854.3" width="1.3" height="29.5" fill="#000" fill-opacity="0.025"/><rect x="70.0" y="854.3" width="0.9" height="29.5" fill="#000" fill-opacity="0.026"/><rect x="72.9" y="854.3" width="1.7" height="29.5" fill="#000" fill-opacity="0.005"/><rect x="75.9" y="854.3" width="0.7" height="29.5" fill="#000" fill-opacity="0.040"/><rect x="78.8" y="854.3" width="0.7" height="29.5" fill="#000" fill-opacity="0.049"/><rect x="82.4" y="854.3" width="1.5" height="29.5" fill="#000" fill-opacity="0.031"/><rect x="84.8" y="854.3" width="0.6" height="29.5" fill="#000" fill-opacity="0.026"/><rect x="86.1" y="854.3" width="0.9" height="29.5" fill="#000" fill-opacity="0.012"/><rect x="87.5" y="854.3" width="1.2" height="29.5" fill="#000" fill-opacity="0.022"/><rect x="91.4" y="854.3" width="1.3" height="29.5" fill="#000" fill-opacity="0.032"/><rect x="94.4" y="854.3" width="1.5" height="29.5" fill="#000" fill-opacity="0.023"/><rect x="97.2" y="854.3" width="2.0" height="29.5" fill="#000" fill-opacity="0.050"/><rect x="101.8" y="854.3" width="1.6" height="29.5" fill="#000" fill-opacity="0.016"/><rect x="104.4" y="854.3" width="1.0" height="29.5" fill="#000" fill-opacity="0.004"/><rect x="107.9" y="854.3" width="1.2" height="29.5" fill="#000" fill-opacity="0.042"/><rect x="110.5" y="854.3" width="1.9" height="29.5" fill="#000" fill-opacity="0.042"/><rect x="112.9" y="854.3" width="0.9" height="29.5" fill="#000" fill-opacity="0.046"/><rect x="115.5" y="854.3" width="2.0" height="29.5" fill="#000" fill-opacity="0.020"/><rect x="118.1" y="854.3" width="1.5" height="29.5" fill="#000" fill-opacity="0.039"/><rect x="120.8" y="854.3" width="0.7" height="29.5" fill="#000" fill-opacity="0.017"/><rect x="124.4" y="854.3" width="1.7" height="29.5" fill="#000" fill-opacity="0.006"/><rect x="127.2" y="854.3" width="0.7" height="29.5" fill="#000" fill-opacity="0.003"/><rect x="130.4" y="854.3" width="0.8" height="29.5" fill="#000" fill-opacity="0.028"/><rect x="132.9" y="854.3" width="0.9" height="29.5" fill="#000" fill-opacity="0.037"/><rect x="134.6" y="854.3" width="1.5" height="29.5" fill="#000" fill-opacity="0.006"/><rect x="137.7" y="854.3" width="0.9" height="29.5" fill="#000" fill-opacity="0.013"/><rect x="141.5" y="854.3" width="1.7" height="29.5" fill="#000" fill-opacity="0.015"/><rect x="145.9" y="854.3" width="0.9" height="29.5" fill="#000" fill-opacity="0.020"/><rect x="149.5" y="854.3" width="1.5" height="29.5" fill="#000" fill-opacity="0.005"/><rect x="153.9" y="854.3" width="0.9" height="29.5" fill="#000" fill-opacity="0.013"/><rect x="157.3" y="854.3" width="1.1" height="29.5" fill="#000" fill-opacity="0.015"/><rect x="159.0" y="854.3" width="0.7" height="29.5" fill="#000" fill-opacity="0.029"/><rect x="160.8" y="854.3" width="1.4" height="29.5" fill="#000" fill-opacity="0.019"/><rect x="163.9" y="854.3" width="1.9" height="29.5" fill="#000" fill-opacity="0.024"/><rect x="167.8" y="854.3" width="1.8" height="29.5" fill="#000" fill-opacity="0.009"/><rect x="170.5" y="854.3" width="1.9" height="29.5" fill="#000" fill-opacity="0.041"/><rect x="173.5" y="854.3" width="0.9" height="29.5" fill="#000" fill-opacity="0.037"/><rect x="177.2" y="854.3" width="0.9" height="29.5" fill="#000" fill-opacity="0.048"/><rect x="180.8" y="854.3" width="1.4" height="29.5" fill="#000" fill-opacity="0.021"/></g>
<rect x="71.30" y="866.80" width="20.00" height="5.40" rx="2.70" fill="#0a0a18" fill-opacity="0.5" filter="url(#b2)"/>
<rect x="98.60" y="866.60" width="18.00" height="5.80" rx="2.90" fill="#0a0a18" fill-opacity="0.72" filter="url(#b2)"/>
<rect x="124.10" y="866.50" width="18.00" height="5.80" rx="2.90" fill="#0a0a18" fill-opacity="0.78" filter="url(#b2)"/>
<rect x="151.00" y="864.90" width="20.00" height="8.00" rx="4.00" fill="#0a0a18" fill-opacity="0.98" filter="url(#b2)"/>
<ellipse cx="180.0" cy="856.0" rx="2.6" ry="2.6" fill="#6a9ade" fill-opacity="0.63" filter="url(#b1)"/>
<ellipse cx="179.5" cy="872.0" rx="2.2" ry="2.8000000000000003" fill="#6a9ade" fill-opacity="0.42" filter="url(#b1)"/>
<rect x="62.7" y="887.7" width="119.5" height="29.8" fill="#e3e2ef"/>
<rect x="62.7" y="887.7" width="119.5" height="1.2" fill="#e8c8d8" fill-opacity="0.5"/>
<rect x="72.40" y="897.70" width="22.60" height="8.40" rx="4.20" fill="#000" fill-opacity="1.0" filter="url(#b1)"/>
<rect x="98.05" y="897.70" width="22.60" height="8.40" rx="4.20" fill="#000" fill-opacity="1.0" filter="url(#b1)"/>
<rect x="123.65" y="897.70" width="22.60" height="8.40" rx="4.20" fill="#000" fill-opacity="1.0" filter="url(#b1)"/>
<rect x="148.30" y="897.70" width="22.60" height="8.40" rx="4.20" fill="#000" fill-opacity="1.0" filter="url(#b1)"/>
<ellipse cx="64.6" cy="900.5" rx="2.2" ry="4.2" fill="#6a9ade" fill-opacity="0.70" filter="url(#b1)"/>
<ellipse cx="178.8" cy="901.8" rx="2.6" ry="4.0" fill="#6a9ade" fill-opacity="0.63" filter="url(#b1)"/>
<text x="465.20" y="832.40" font-size="12.9" textLength="44.33" lengthAdjust="spacingAndGlyphs" fill="#000" stroke="#000" stroke-width="0.12">SKOV3</text>
<line x1="451.3" y1="837.5" x2="527.7" y2="837.5" stroke="#000" stroke-width="1.4"/>
<text x="564.11" y="832.80" font-size="12.9" textLength="53.74" lengthAdjust="spacingAndGlyphs" fill="#000" stroke="#000" stroke-width="0.12">OVCAR8</text>
<line x1="554.9" y1="837.7" x2="631.3" y2="837.7" stroke="#000" stroke-width="1.4"/>
<text x="396.46" y="849.60" font-size="9.6" textLength="37.03" lengthAdjust="spacingAndGlyphs" fill="#000" stroke="#000" stroke-width="0.35">Olaparib</text>
<text x="459.47" y="851.00" font-size="12.9" textLength="6.77" lengthAdjust="spacingAndGlyphs" fill="#000" stroke="#000" stroke-width="0.12">0</text>
<text x="479.11" y="851.00" font-size="12.9" textLength="15.27" lengthAdjust="spacingAndGlyphs" fill="#000" stroke="#000" stroke-width="0.12">25</text>
<text x="506.06" y="851.00" font-size="12.9" textLength="15.15" lengthAdjust="spacingAndGlyphs" fill="#000" stroke="#000" stroke-width="0.12">50</text>
<text x="561.45" y="851.00" font-size="12.9" textLength="7.22" lengthAdjust="spacingAndGlyphs" fill="#000" stroke="#000" stroke-width="0.12">0</text>
<text x="581.15" y="851.00" font-size="12.9" textLength="15.57" lengthAdjust="spacingAndGlyphs" fill="#000" stroke="#000" stroke-width="0.12">10</text>
<text x="607.22" y="851.00" font-size="12.9" textLength="15.19" lengthAdjust="spacingAndGlyphs" fill="#000" stroke="#000" stroke-width="0.12">20</text>
<text x="628.10" y="851.00" font-size="12.9" textLength="19.50" lengthAdjust="spacingAndGlyphs" fill="#000" stroke="#000" stroke-width="0.12">µM</text>
<text x="395.61" y="874.40" font-size="12.8" textLength="42.66" lengthAdjust="spacingAndGlyphs" fill="#000" stroke="#000" stroke-width="0.12">SPHK1</text>
<text x="398.30" y="906.00" font-size="12.8" textLength="39.12" lengthAdjust="spacingAndGlyphs" fill="#000" stroke="#000" stroke-width="0.12">tubulin</text>
<text x="642.81" y="874.00" font-size="9.6" textLength="32.15" lengthAdjust="spacingAndGlyphs" fill="#000" stroke="#000" stroke-width="0.35">42 KDa</text>
<text x="642.61" y="905.30" font-size="9.6" textLength="32.34" lengthAdjust="spacingAndGlyphs" fill="#000" stroke="#000" stroke-width="0.35">55 KDa</text>
<rect x="441.1" y="854.9" width="96.9" height="29.8" fill="url(#gH1)"/>
<g filter="url(#b05)"><rect x="441.1" y="854.9" width="1.9" height="29.8" fill="#000" fill-opacity="0.017"/><rect x="445.4" y="854.9" width="1.9" height="29.8" fill="#000" fill-opacity="0.006"/><rect x="449.3" y="854.9" width="1.9" height="29.8" fill="#000" fill-opacity="0.022"/><rect x="453.1" y="854.9" width="0.8" height="29.8" fill="#000" fill-opacity="0.010"/><rect x="457.0" y="854.9" width="0.7" height="29.8" fill="#000" fill-opacity="0.008"/><rect x="460.6" y="854.9" width="1.2" height="29.8" fill="#000" fill-opacity="0.005"/><rect x="463.1" y="854.9" width="1.9" height="29.8" fill="#000" fill-opacity="0.008"/><rect x="466.5" y="854.9" width="1.5" height="29.8" fill="#000" fill-opacity="0.020"/><rect x="469.8" y="854.9" width="0.7" height="29.8" fill="#000" fill-opacity="0.014"/><rect x="471.1" y="854.9" width="0.7" height="29.8" fill="#000" fill-opacity="0.005"/><rect x="474.0" y="854.9" width="1.0" height="29.8" fill="#000" fill-opacity="0.017"/><rect x="475.9" y="854.9" width="0.8" height="29.8" fill="#000" fill-opacity="0.001"/><rect x="479.0" y="854.9" width="1.8" height="29.8" fill="#000" fill-opacity="0.005"/><rect x="481.9" y="854.9" width="0.6" height="29.8" fill="#000" fill-opacity="0.016"/><rect x="483.7" y="854.9" width="0.8" height="29.8" fill="#000" fill-opacity="0.016"/><rect x="486.5" y="854.9" width="1.2" height="29.8" fill="#000" fill-opacity="0.004"/><rect x="489.8" y="854.9" width="1.4" height="29.8" fill="#000" fill-opacity="0.011"/><rect x="492.1" y="854.9" width="1.9" height="29.8" fill="#000" fill-opacity="0.022"/><rect x="496.2" y="854.9" width="2.0" height="29.8" fill="#000" fill-opacity="0.015"/><rect x="499.6" y="854.9" width="0.8" height="29.8" fill="#000" fill-opacity="0.015"/><rect x="502.2" y="854.9" width="1.2" height="29.8" fill="#000" fill-opacity="0.025"/><rect x="506.0" y="854.9" width="0.8" height="29.8" fill="#000" fill-opacity="0.022"/><rect x="507.2" y="854.9" width="1.5" height="29.8" fill="#000" fill-opacity="0.008"/><rect x="511.1" y="854.9" width="1.9" height="29.8" fill="#000" fill-opacity="0.013"/><rect x="515.4" y="854.9" width="0.7" height="29.8" fill="#000" fill-opacity="0.017"/><rect x="516.9" y="854.9" width="1.2" height="29.8" fill="#000" fill-opacity="0.008"/><rect x="518.8" y="854.9" width="1.6" height="29.8" fill="#000" fill-opacity="0.002"/><rect x="521.6" y="854.9" width="0.7" height="29.8" fill="#000" fill-opacity="0.017"/><rect x="523.6" y="854.9" width="0.7" height="29.8" fill="#000" fill-opacity="0.001"/><rect x="525.3" y="854.9" width="1.3" height="29.8" fill="#000" fill-opacity="0.000"/><rect x="527.2" y="854.9" width="1.5" height="29.8" fill="#000" fill-opacity="0.013"/><rect x="529.5" y="854.9" width="1.0" height="29.8" fill="#000" fill-opacity="0.003"/><rect x="531.7" y="854.9" width="1.1" height="29.8" fill="#000" fill-opacity="0.005"/><rect x="533.9" y="854.9" width="0.9" height="29.8" fill="#000" fill-opacity="0.008"/><rect x="536.7" y="854.9" width="1.8" height="29.8" fill="#000" fill-opacity="0.016"/></g>
<rect x="441.1" y="888.2" width="96.9" height="29.8" fill="#e4e3f0"/>
<rect x="451.40" y="856.70" width="24.00" height="9.00" rx="4.50" fill="#0a0a18" fill-opacity="0.42" filter="url(#b2)"/>
<rect x="451.40" y="867.70" width="24.00" height="7.00" rx="3.50" fill="#05050f" fill-opacity="0.6" filter="url(#b12)"/>
<rect x="452.15" y="899.10" width="22.50" height="7.80" rx="3.90" fill="#000" fill-opacity="1.0" filter="url(#b1)"/>
<rect x="476.90" y="856.70" width="24.00" height="9.00" rx="4.50" fill="#0a0a18" fill-opacity="0.42" filter="url(#b2)"/>
<rect x="476.90" y="867.70" width="24.00" height="7.00" rx="3.50" fill="#05050f" fill-opacity="0.72" filter="url(#b12)"/>
<rect x="477.65" y="899.10" width="22.50" height="7.80" rx="3.90" fill="#000" fill-opacity="1.0" filter="url(#b1)"/>
<rect x="502.50" y="856.70" width="24.00" height="9.00" rx="4.50" fill="#0a0a18" fill-opacity="0.42" filter="url(#b2)"/>
<rect x="502.50" y="867.70" width="24.00" height="7.00" rx="3.50" fill="#05050f" fill-opacity="0.9" filter="url(#b12)"/>
<rect x="503.25" y="899.10" width="22.50" height="7.80" rx="3.90" fill="#000" fill-opacity="1.0" filter="url(#b1)"/>
<ellipse cx="444.6" cy="857.0" rx="2.2" ry="2.8000000000000003" fill="#6a9ade" fill-opacity="0.56" filter="url(#b1)"/>
<ellipse cx="444.6" cy="872.0" rx="2.2" ry="2.8000000000000003" fill="#6a9ade" fill-opacity="0.42" filter="url(#b1)"/>
<ellipse cx="444.6" cy="901.7" rx="2.2" ry="2.8000000000000003" fill="#6a9ade" fill-opacity="0.56" filter="url(#b1)"/>
<ellipse cx="534.4" cy="857.0" rx="2.2" ry="2.8000000000000003" fill="#6a9ade" fill-opacity="0.56" filter="url(#b1)"/>
<ellipse cx="534.4" cy="872.0" rx="2.2" ry="2.8000000000000003" fill="#6a9ade" fill-opacity="0.42" filter="url(#b1)"/>
<ellipse cx="534.4" cy="902.0" rx="2.2" ry="2.8000000000000003" fill="#6a9ade" fill-opacity="0.56" filter="url(#b1)"/>
<rect x="443.1" y="888.2" width="6" height="1" fill="#e07080" fill-opacity="0.35"/>
<rect x="529.1" y="888.2" width="6" height="1" fill="#e07080" fill-opacity="0.35"/>
<rect x="542.3" y="854.9" width="96.9" height="29.8" fill="url(#gH1)"/>
<g filter="url(#b05)"><rect x="542.3" y="854.9" width="0.8" height="29.8" fill="#000" fill-opacity="0.017"/><rect x="545.2" y="854.9" width="1.3" height="29.8" fill="#000" fill-opacity="0.005"/><rect x="549.0" y="854.9" width="1.7" height="29.8" fill="#000" fill-opacity="0.013"/><rect x="552.5" y="854.9" width="0.9" height="29.8" fill="#000" fill-opacity="0.000"/><rect x="554.8" y="854.9" width="1.4" height="29.8" fill="#000" fill-opacity="0.002"/><rect x="558.7" y="854.9" width="0.9" height="29.8" fill="#000" fill-opacity="0.006"/><rect x="560.3" y="854.9" width="2.0" height="29.8" fill="#000" fill-opacity="0.018"/><rect x="564.9" y="854.9" width="1.5" height="29.8" fill="#000" fill-opacity="0.001"/><rect x="567.7" y="854.9" width="1.3" height="29.8" fill="#000" fill-opacity="0.003"/><rect x="571.9" y="854.9" width="1.1" height="29.8" fill="#000" fill-opacity="0.004"/><rect x="575.6" y="854.9" width="0.8" height="29.8" fill="#000" fill-opacity="0.023"/><rect x="578.0" y="854.9" width="1.4" height="29.8" fill="#000" fill-opacity="0.009"/><rect x="581.1" y="854.9" width="0.9" height="29.8" fill="#000" fill-opacity="0.001"/><rect x="584.6" y="854.9" width="0.9" height="29.8" fill="#000" fill-opacity="0.020"/><rect x="586.5" y="854.9" width="2.0" height="29.8" fill="#000" fill-opacity="0.022"/><rect x="590.9" y="854.9" width="1.7" height="29.8" fill="#000" fill-opacity="0.015"/><rect x="594.9" y="854.9" width="0.8" height="29.8" fill="#000" fill-opacity="0.012"/><rect x="598.2" y="854.9" width="0.9" height="29.8" fill="#000" fill-opacity="0.023"/><rect x="601.8" y="854.9" width="1.2" height="29.8" fill="#000" fill-opacity="0.009"/><rect x="604.6" y="854.9" width="1.1" height="29.8" fill="#000" fill-opacity="0.025"/><rect x="607.2" y="854.9" width="0.6" height="29.8" fill="#000" fill-opacity="0.002"/><rect x="610.1" y="854.9" width="2.0" height="29.8" fill="#000" fill-opacity="0.012"/><rect x="613.9" y="854.9" width="1.4" height="29.8" fill="#000" fill-opacity="0.019"/><rect x="616.3" y="854.9" width="1.5" height="29.8" fill="#000" fill-opacity="0.014"/><rect x="619.8" y="854.9" width="0.9" height="29.8" fill="#000" fill-opacity="0.004"/><rect x="622.0" y="854.9" width="1.9" height="29.8" fill="#000" fill-opacity="0.009"/><rect x="625.9" y="854.9" width="1.0" height="29.8" fill="#000" fill-opacity="0.003"/><rect x="627.6" y="854.9" width="1.7" height="29.8" fill="#000" fill-opacity="0.019"/><rect x="630.8" y="854.9" width="1.6" height="29.8" fill="#000" fill-opacity="0.017"/><rect x="635.1" y="854.9" width="1.9" height="29.8" fill="#000" fill-opacity="0.010"/></g>
<rect x="542.3" y="888.2" width="96.9" height="29.8" fill="#e4e3f0"/>
<rect x="553.00" y="856.70" width="24.00" height="9.00" rx="4.50" fill="#0a0a18" fill-opacity="0.42" filter="url(#b2)"/>
<rect x="553.00" y="867.70" width="24.00" height="7.00" rx="3.50" fill="#05050f" fill-opacity="0.8" filter="url(#b12)"/>
<rect x="553.75" y="899.10" width="22.50" height="7.80" rx="3.90" fill="#000" fill-opacity="1.0" filter="url(#b1)"/>
<rect x="578.50" y="856.70" width="24.00" height="9.00" rx="4.50" fill="#0a0a18" fill-opacity="0.42" filter="url(#b2)"/>
<rect x="578.50" y="867.70" width="24.00" height="7.00" rx="3.50" fill="#05050f" fill-opacity="0.9" filter="url(#b12)"/>
<rect x="579.25" y="899.10" width="22.50" height="7.80" rx="3.90" fill="#000" fill-opacity="1.0" filter="url(#b1)"/>
<rect x="605.50" y="856.70" width="24.00" height="9.00" rx="4.50" fill="#0a0a18" fill-opacity="0.42" filter="url(#b2)"/>
<rect x="605.50" y="867.70" width="24.00" height="7.00" rx="3.50" fill="#05050f" fill-opacity="1.0" filter="url(#b12)"/>
<rect x="606.25" y="899.10" width="22.50" height="7.80" rx="3.90" fill="#000" fill-opacity="1.0" filter="url(#b1)"/>
<ellipse cx="545.8" cy="857.0" rx="2.2" ry="2.8000000000000003" fill="#6a9ade" fill-opacity="0.56" filter="url(#b1)"/>
<ellipse cx="545.8" cy="872.0" rx="2.2" ry="2.8000000000000003" fill="#6a9ade" fill-opacity="0.42" filter="url(#b1)"/>
<ellipse cx="545.8" cy="901.7" rx="2.2" ry="2.8000000000000003" fill="#6a9ade" fill-opacity="0.56" filter="url(#b1)"/>
<ellipse cx="635.5999999999999" cy="857.0" rx="2.2" ry="2.8000000000000003" fill="#6a9ade" fill-opacity="0.56" filter="url(#b1)"/>
<ellipse cx="635.5999999999999" cy="872.0" rx="2.2" ry="2.8000000000000003" fill="#6a9ade" fill-opacity="0.42" filter="url(#b1)"/>
<ellipse cx="635.5999999999999" cy="902.0" rx="2.2" ry="2.8000000000000003" fill="#6a9ade" fill-opacity="0.56" filter="url(#b1)"/>
<rect x="544.3" y="888.2" width="6" height="1" fill="#e07080" fill-opacity="0.35"/>
<rect x="630.3" y="888.2" width="6" height="1" fill="#e07080" fill-opacity="0.35"/>
</svg></body></html>
